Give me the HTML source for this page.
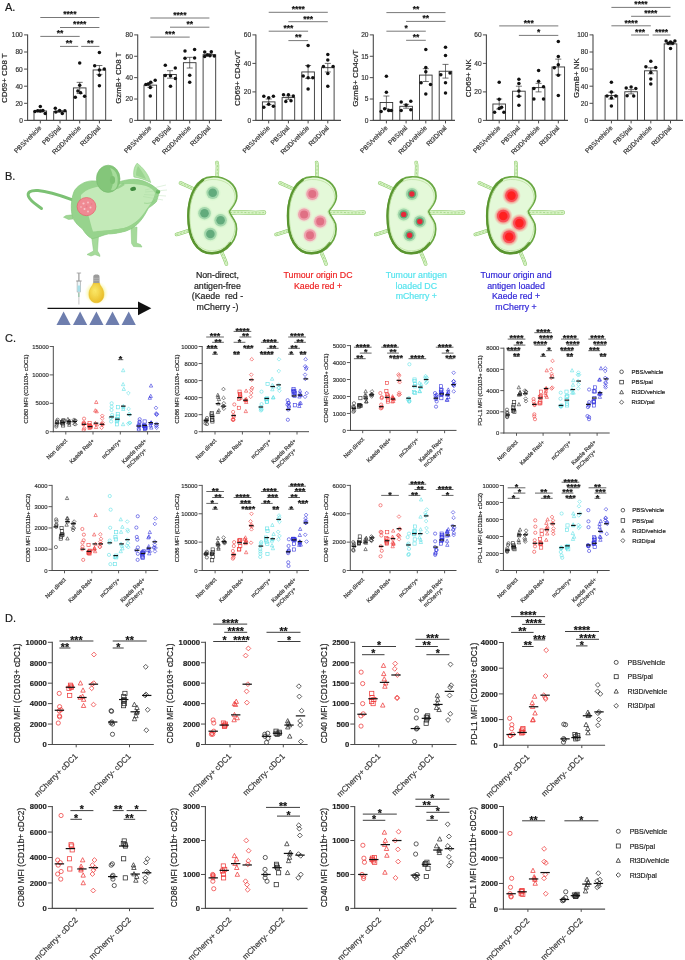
<!DOCTYPE html>
<html><head><meta charset="utf-8"><style>
html,body{margin:0;padding:0;background:#fff;}
svg{display:block;will-change:transform;}
text{font-family:"Liberation Sans", sans-serif;}
</style></head><body>
<svg width="685" height="960" viewBox="0 0 685 960">
<rect width="685" height="960" fill="#fff"/>
<text x="5" y="10.5" font-size="11" text-anchor="start" fill="#1a1a1a" stroke="#1a1a1a" stroke-width="0.18">A.</text>
<rect x="34" y="111" width="12.6" height="9.41" fill="#fff" stroke="#333" stroke-width="0.9"/>
<rect x="53.7" y="111.42" width="12.6" height="8.98" fill="#fff" stroke="#333" stroke-width="0.9"/>
<rect x="73.4" y="87.91" width="12.6" height="32.49" fill="#fff" stroke="#333" stroke-width="0.9"/>
<rect x="93.1" y="69.96" width="12.6" height="50.44" fill="#fff" stroke="#333" stroke-width="0.9"/>
<line x1="40.3" y1="112.02" x2="40.3" y2="109.97" stroke="#333" stroke-width="0.7"/>
<line x1="37.3" y1="109.97" x2="43.3" y2="109.97" stroke="#333" stroke-width="0.7"/>
<line x1="37.3" y1="112.02" x2="43.3" y2="112.02" stroke="#333" stroke-width="0.7"/>
<circle cx="40.3" cy="106.55" r="1.75" fill="#111"/>
<circle cx="35" cy="111.59" r="1.75" fill="#111"/>
<circle cx="45.2" cy="113.56" r="1.75" fill="#111"/>
<circle cx="37.7" cy="110.82" r="1.75" fill="#111"/>
<circle cx="42.9" cy="110.57" r="1.75" fill="#111"/>
<circle cx="40.3" cy="111" r="1.75" fill="#111"/>
<line x1="60" y1="112.36" x2="60" y2="110.48" stroke="#333" stroke-width="0.7"/>
<line x1="57" y1="110.48" x2="63" y2="110.48" stroke="#333" stroke-width="0.7"/>
<line x1="57" y1="112.36" x2="63" y2="112.36" stroke="#333" stroke-width="0.7"/>
<circle cx="55.3" cy="108.26" r="1.75" fill="#111"/>
<circle cx="55.8" cy="112.11" r="1.75" fill="#111"/>
<circle cx="59.6" cy="110.4" r="1.75" fill="#111"/>
<circle cx="62.3" cy="113.56" r="1.75" fill="#111"/>
<circle cx="64.9" cy="110.74" r="1.75" fill="#111"/>
<line x1="79.7" y1="93.47" x2="79.7" y2="82.35" stroke="#333" stroke-width="0.7"/>
<line x1="76.7" y1="82.35" x2="82.7" y2="82.35" stroke="#333" stroke-width="0.7"/>
<line x1="76.7" y1="93.47" x2="82.7" y2="93.47" stroke="#333" stroke-width="0.7"/>
<circle cx="79.7" cy="63.03" r="1.75" fill="#111"/>
<circle cx="79.7" cy="85.26" r="1.75" fill="#111"/>
<circle cx="75.3" cy="97.23" r="1.75" fill="#111"/>
<circle cx="84.6" cy="96.37" r="1.75" fill="#111"/>
<circle cx="80.6" cy="92.87" r="1.75" fill="#111"/>
<circle cx="77.9" cy="91.07" r="1.75" fill="#111"/>
<line x1="99.4" y1="74.4" x2="99.4" y2="65.51" stroke="#333" stroke-width="0.7"/>
<line x1="96.4" y1="65.51" x2="102.4" y2="65.51" stroke="#333" stroke-width="0.7"/>
<line x1="96.4" y1="74.4" x2="102.4" y2="74.4" stroke="#333" stroke-width="0.7"/>
<circle cx="99.4" cy="52.43" r="1.75" fill="#111"/>
<circle cx="94.7" cy="65.68" r="1.75" fill="#111"/>
<circle cx="99.4" cy="70.04" r="1.75" fill="#111"/>
<circle cx="104.3" cy="69.1" r="1.75" fill="#111"/>
<circle cx="99.4" cy="75.26" r="1.75" fill="#111"/>
<circle cx="99.4" cy="85.77" r="1.75" fill="#111"/>
<line x1="27.6" y1="34.4" x2="27.6" y2="120.9" stroke="#4a4a4a" stroke-width="1.1"/>
<line x1="27.1" y1="120.4" x2="112" y2="120.4" stroke="#4a4a4a" stroke-width="1.1"/>
<line x1="24.1" y1="120.4" x2="27.6" y2="120.4" stroke="#4a4a4a" stroke-width="1"/>
<text x="22.8" y="122.8" font-size="6.6" text-anchor="end" fill="#333" stroke="#333" stroke-width="0.18">0</text>
<line x1="24.1" y1="103.3" x2="27.6" y2="103.3" stroke="#4a4a4a" stroke-width="1"/>
<text x="22.8" y="105.7" font-size="6.6" text-anchor="end" fill="#333" stroke="#333" stroke-width="0.18">20</text>
<line x1="24.1" y1="86.2" x2="27.6" y2="86.2" stroke="#4a4a4a" stroke-width="1"/>
<text x="22.8" y="88.6" font-size="6.6" text-anchor="end" fill="#333" stroke="#333" stroke-width="0.18">40</text>
<line x1="24.1" y1="69.1" x2="27.6" y2="69.1" stroke="#4a4a4a" stroke-width="1"/>
<text x="22.8" y="71.5" font-size="6.6" text-anchor="end" fill="#333" stroke="#333" stroke-width="0.18">60</text>
<line x1="24.1" y1="52" x2="27.6" y2="52" stroke="#4a4a4a" stroke-width="1"/>
<text x="22.8" y="54.4" font-size="6.6" text-anchor="end" fill="#333" stroke="#333" stroke-width="0.18">80</text>
<line x1="24.1" y1="34.9" x2="27.6" y2="34.9" stroke="#4a4a4a" stroke-width="1"/>
<text x="22.8" y="37.3" font-size="6.6" text-anchor="end" fill="#333" stroke="#333" stroke-width="0.18">100</text>
<line x1="40.3" y1="120.4" x2="40.3" y2="123.4" stroke="#4a4a4a" stroke-width="1"/>
<line x1="60" y1="120.4" x2="60" y2="123.4" stroke="#4a4a4a" stroke-width="1"/>
<line x1="79.7" y1="120.4" x2="79.7" y2="123.4" stroke="#4a4a4a" stroke-width="1"/>
<line x1="99.4" y1="120.4" x2="99.4" y2="123.4" stroke="#4a4a4a" stroke-width="1"/>
<text x="41.9" y="128.4" font-size="6.6" text-anchor="end" fill="#333" transform="rotate(-45 41.9 128.4)" stroke="#333" stroke-width="0.18">PBS/vehicle</text>
<text x="61.6" y="128.4" font-size="6.6" text-anchor="end" fill="#333" transform="rotate(-45 61.6 128.4)" stroke="#333" stroke-width="0.18">PBS/pal</text>
<text x="81.3" y="128.4" font-size="6.6" text-anchor="end" fill="#333" transform="rotate(-45 81.3 128.4)" stroke="#333" stroke-width="0.18">Rt3D/vehicle</text>
<text x="101" y="128.4" font-size="6.6" text-anchor="end" fill="#333" transform="rotate(-45 101 128.4)" stroke="#333" stroke-width="0.18">Rt3D/pal</text>
<line x1="40.3" y1="17.5" x2="99.4" y2="17.5" stroke="#555" stroke-width="0.8"/>
<text x="69.85" y="17.31" font-size="8.5" text-anchor="middle" font-weight="bold" fill="#111" stroke="#111" stroke-width="0.18">****</text>
<line x1="60" y1="27.5" x2="99.4" y2="27.5" stroke="#555" stroke-width="0.8"/>
<text x="79.7" y="27.31" font-size="8.5" text-anchor="middle" font-weight="bold" fill="#111" stroke="#111" stroke-width="0.18">****</text>
<line x1="40.3" y1="36.4" x2="79.7" y2="36.4" stroke="#555" stroke-width="0.8"/>
<text x="60" y="36.21" font-size="8.5" text-anchor="middle" font-weight="bold" fill="#111" stroke="#111" stroke-width="0.18">**</text>
<line x1="60" y1="46.4" x2="78.2" y2="46.4" stroke="#555" stroke-width="0.8"/>
<text x="69.1" y="46.21" font-size="8.5" text-anchor="middle" font-weight="bold" fill="#111" stroke="#111" stroke-width="0.18">**</text>
<line x1="81.2" y1="46.4" x2="99.4" y2="46.4" stroke="#555" stroke-width="0.8"/>
<text x="90.3" y="46.21" font-size="8.5" text-anchor="middle" font-weight="bold" fill="#111" stroke="#111" stroke-width="0.18">**</text>
<text x="7.4" y="78.15" font-size="7.9" text-anchor="middle" fill="#222" transform="rotate(-90 7.4 78.15)" stroke="#222" stroke-width="0.18">CD69+ CD8 T</text>
<rect x="144" y="85.13" width="12.6" height="35.27" fill="#fff" stroke="#333" stroke-width="0.9"/>
<rect x="163.7" y="74.44" width="12.6" height="45.96" fill="#fff" stroke="#333" stroke-width="0.9"/>
<rect x="183.4" y="62.69" width="12.6" height="57.71" fill="#fff" stroke="#333" stroke-width="0.9"/>
<rect x="203.1" y="54.67" width="12.6" height="65.73" fill="#fff" stroke="#333" stroke-width="0.9"/>
<line x1="150.3" y1="87.27" x2="150.3" y2="82.99" stroke="#333" stroke-width="0.7"/>
<line x1="147.3" y1="82.99" x2="153.3" y2="82.99" stroke="#333" stroke-width="0.7"/>
<line x1="147.3" y1="87.27" x2="153.3" y2="87.27" stroke="#333" stroke-width="0.7"/>
<circle cx="145.9" cy="84.6" r="1.75" fill="#111"/>
<circle cx="150.7" cy="82.35" r="1.75" fill="#111"/>
<circle cx="155.2" cy="80.22" r="1.75" fill="#111"/>
<circle cx="150.3" cy="87.59" r="1.75" fill="#111"/>
<circle cx="150.3" cy="96.03" r="1.75" fill="#111"/>
<circle cx="148.3" cy="84.06" r="1.75" fill="#111"/>
<line x1="170" y1="78.18" x2="170" y2="70.7" stroke="#333" stroke-width="0.7"/>
<line x1="167" y1="70.7" x2="173" y2="70.7" stroke="#333" stroke-width="0.7"/>
<line x1="167" y1="78.18" x2="173" y2="78.18" stroke="#333" stroke-width="0.7"/>
<circle cx="165.3" cy="65.15" r="1.75" fill="#111"/>
<circle cx="175.3" cy="67.92" r="1.75" fill="#111"/>
<circle cx="165.3" cy="75.62" r="1.75" fill="#111"/>
<circle cx="170.5" cy="75.83" r="1.75" fill="#111"/>
<circle cx="175.3" cy="78.5" r="1.75" fill="#111"/>
<circle cx="170.5" cy="86.2" r="1.75" fill="#111"/>
<line x1="189.7" y1="68.03" x2="189.7" y2="57.34" stroke="#333" stroke-width="0.7"/>
<line x1="186.7" y1="57.34" x2="192.7" y2="57.34" stroke="#333" stroke-width="0.7"/>
<line x1="186.7" y1="68.03" x2="192.7" y2="68.03" stroke="#333" stroke-width="0.7"/>
<circle cx="185" cy="51.04" r="1.75" fill="#111"/>
<circle cx="194.6" cy="49.54" r="1.75" fill="#111"/>
<circle cx="185" cy="58.31" r="1.75" fill="#111"/>
<circle cx="194.6" cy="58.09" r="1.75" fill="#111"/>
<circle cx="189.7" cy="75.3" r="1.75" fill="#111"/>
<circle cx="189.7" cy="82.35" r="1.75" fill="#111"/>
<line x1="209.4" y1="55.74" x2="209.4" y2="53.6" stroke="#333" stroke-width="0.7"/>
<line x1="206.4" y1="53.6" x2="212.4" y2="53.6" stroke="#333" stroke-width="0.7"/>
<line x1="206.4" y1="55.74" x2="212.4" y2="55.74" stroke="#333" stroke-width="0.7"/>
<circle cx="204.7" cy="52.11" r="1.75" fill="#111"/>
<circle cx="211.3" cy="51.79" r="1.75" fill="#111"/>
<circle cx="207.3" cy="55.1" r="1.75" fill="#111"/>
<circle cx="214.3" cy="55.95" r="1.75" fill="#111"/>
<circle cx="204.7" cy="56.38" r="1.75" fill="#111"/>
<circle cx="209.9" cy="55.63" r="1.75" fill="#111"/>
<line x1="137.7" y1="34.4" x2="137.7" y2="120.9" stroke="#4a4a4a" stroke-width="1.1"/>
<line x1="137.2" y1="120.4" x2="222" y2="120.4" stroke="#4a4a4a" stroke-width="1.1"/>
<line x1="134.2" y1="120.4" x2="137.7" y2="120.4" stroke="#4a4a4a" stroke-width="1"/>
<text x="132.9" y="122.8" font-size="6.6" text-anchor="end" fill="#333" stroke="#333" stroke-width="0.18">0</text>
<line x1="134.2" y1="99.03" x2="137.7" y2="99.03" stroke="#4a4a4a" stroke-width="1"/>
<text x="132.9" y="101.43" font-size="6.6" text-anchor="end" fill="#333" stroke="#333" stroke-width="0.18">20</text>
<line x1="134.2" y1="77.65" x2="137.7" y2="77.65" stroke="#4a4a4a" stroke-width="1"/>
<text x="132.9" y="80.05" font-size="6.6" text-anchor="end" fill="#333" stroke="#333" stroke-width="0.18">40</text>
<line x1="134.2" y1="56.28" x2="137.7" y2="56.28" stroke="#4a4a4a" stroke-width="1"/>
<text x="132.9" y="58.68" font-size="6.6" text-anchor="end" fill="#333" stroke="#333" stroke-width="0.18">60</text>
<line x1="134.2" y1="34.9" x2="137.7" y2="34.9" stroke="#4a4a4a" stroke-width="1"/>
<text x="132.9" y="37.3" font-size="6.6" text-anchor="end" fill="#333" stroke="#333" stroke-width="0.18">80</text>
<line x1="150.3" y1="120.4" x2="150.3" y2="123.4" stroke="#4a4a4a" stroke-width="1"/>
<line x1="170" y1="120.4" x2="170" y2="123.4" stroke="#4a4a4a" stroke-width="1"/>
<line x1="189.7" y1="120.4" x2="189.7" y2="123.4" stroke="#4a4a4a" stroke-width="1"/>
<line x1="209.4" y1="120.4" x2="209.4" y2="123.4" stroke="#4a4a4a" stroke-width="1"/>
<text x="151.9" y="128.4" font-size="6.6" text-anchor="end" fill="#333" transform="rotate(-45 151.9 128.4)" stroke="#333" stroke-width="0.18">PBS/vehicle</text>
<text x="171.6" y="128.4" font-size="6.6" text-anchor="end" fill="#333" transform="rotate(-45 171.6 128.4)" stroke="#333" stroke-width="0.18">PBS/pal</text>
<text x="191.3" y="128.4" font-size="6.6" text-anchor="end" fill="#333" transform="rotate(-45 191.3 128.4)" stroke="#333" stroke-width="0.18">Rt3D/vehicle</text>
<text x="211" y="128.4" font-size="6.6" text-anchor="end" fill="#333" transform="rotate(-45 211 128.4)" stroke="#333" stroke-width="0.18">Rt3D/pal</text>
<line x1="150.3" y1="18" x2="209.4" y2="18" stroke="#555" stroke-width="0.8"/>
<text x="179.85" y="17.81" font-size="8.5" text-anchor="middle" font-weight="bold" fill="#111" stroke="#111" stroke-width="0.18">****</text>
<line x1="170" y1="27.2" x2="209.4" y2="27.2" stroke="#555" stroke-width="0.8"/>
<text x="189.7" y="27.01" font-size="8.5" text-anchor="middle" font-weight="bold" fill="#111" stroke="#111" stroke-width="0.18">**</text>
<line x1="150.3" y1="37.1" x2="189.7" y2="37.1" stroke="#555" stroke-width="0.8"/>
<text x="170" y="36.91" font-size="8.5" text-anchor="middle" font-weight="bold" fill="#111" stroke="#111" stroke-width="0.18">***</text>
<text x="120.8" y="78.15" font-size="7.9" text-anchor="middle" fill="#222" transform="rotate(-90 120.8 78.15)" stroke="#222" stroke-width="0.18">GzmB+ CD8 T</text>
<rect x="262.4" y="101.88" width="12.6" height="18.53" fill="#fff" stroke="#333" stroke-width="0.9"/>
<rect x="282.1" y="97.6" width="12.6" height="22.8" fill="#fff" stroke="#333" stroke-width="0.9"/>
<rect x="301.8" y="71.95" width="12.6" height="48.45" fill="#fff" stroke="#333" stroke-width="0.9"/>
<rect x="321.5" y="67.68" width="12.6" height="52.72" fill="#fff" stroke="#333" stroke-width="0.9"/>
<line x1="268.7" y1="104.73" x2="268.7" y2="99.03" stroke="#333" stroke-width="0.7"/>
<line x1="265.7" y1="99.03" x2="271.7" y2="99.03" stroke="#333" stroke-width="0.7"/>
<line x1="265.7" y1="104.73" x2="271.7" y2="104.73" stroke="#333" stroke-width="0.7"/>
<circle cx="263.8" cy="96.18" r="1.75" fill="#111"/>
<circle cx="268.7" cy="97.74" r="1.75" fill="#111"/>
<circle cx="273.4" cy="96.18" r="1.75" fill="#111"/>
<circle cx="263.8" cy="107.29" r="1.75" fill="#111"/>
<circle cx="268.7" cy="104.3" r="1.75" fill="#111"/>
<circle cx="273.4" cy="106.29" r="1.75" fill="#111"/>
<line x1="288.4" y1="99.31" x2="288.4" y2="95.89" stroke="#333" stroke-width="0.7"/>
<line x1="285.4" y1="95.89" x2="291.4" y2="95.89" stroke="#333" stroke-width="0.7"/>
<line x1="285.4" y1="99.31" x2="291.4" y2="99.31" stroke="#333" stroke-width="0.7"/>
<circle cx="283.5" cy="94.75" r="1.75" fill="#111"/>
<circle cx="288.4" cy="94.75" r="1.75" fill="#111"/>
<circle cx="293.3" cy="96.03" r="1.75" fill="#111"/>
<circle cx="285.8" cy="101.59" r="1.75" fill="#111"/>
<circle cx="291" cy="100.73" r="1.75" fill="#111"/>
<line x1="308.1" y1="78.36" x2="308.1" y2="65.54" stroke="#333" stroke-width="0.7"/>
<line x1="305.1" y1="65.54" x2="311.1" y2="65.54" stroke="#333" stroke-width="0.7"/>
<line x1="305.1" y1="78.36" x2="311.1" y2="78.36" stroke="#333" stroke-width="0.7"/>
<circle cx="308.1" cy="45.45" r="1.75" fill="#111"/>
<circle cx="308.1" cy="65.97" r="1.75" fill="#111"/>
<circle cx="303.2" cy="76.08" r="1.75" fill="#111"/>
<circle cx="312.8" cy="77.65" r="1.75" fill="#111"/>
<circle cx="308.1" cy="77.65" r="1.75" fill="#111"/>
<circle cx="308.1" cy="89.05" r="1.75" fill="#111"/>
<line x1="327.8" y1="71.95" x2="327.8" y2="63.4" stroke="#333" stroke-width="0.7"/>
<line x1="324.8" y1="63.4" x2="330.8" y2="63.4" stroke="#333" stroke-width="0.7"/>
<line x1="324.8" y1="71.95" x2="330.8" y2="71.95" stroke="#333" stroke-width="0.7"/>
<circle cx="327.8" cy="54.42" r="1.75" fill="#111"/>
<circle cx="327.8" cy="59.98" r="1.75" fill="#111"/>
<circle cx="323.4" cy="66.54" r="1.75" fill="#111"/>
<circle cx="333.1" cy="66.54" r="1.75" fill="#111"/>
<circle cx="327.8" cy="73.52" r="1.75" fill="#111"/>
<circle cx="327.8" cy="86.34" r="1.75" fill="#111"/>
<line x1="255.9" y1="34.4" x2="255.9" y2="120.9" stroke="#4a4a4a" stroke-width="1.1"/>
<line x1="255.4" y1="120.4" x2="341" y2="120.4" stroke="#4a4a4a" stroke-width="1.1"/>
<line x1="252.4" y1="120.4" x2="255.9" y2="120.4" stroke="#4a4a4a" stroke-width="1"/>
<text x="251.1" y="122.8" font-size="6.6" text-anchor="end" fill="#333" stroke="#333" stroke-width="0.18">0</text>
<line x1="252.4" y1="91.9" x2="255.9" y2="91.9" stroke="#4a4a4a" stroke-width="1"/>
<text x="251.1" y="94.3" font-size="6.6" text-anchor="end" fill="#333" stroke="#333" stroke-width="0.18">20</text>
<line x1="252.4" y1="63.4" x2="255.9" y2="63.4" stroke="#4a4a4a" stroke-width="1"/>
<text x="251.1" y="65.8" font-size="6.6" text-anchor="end" fill="#333" stroke="#333" stroke-width="0.18">40</text>
<line x1="252.4" y1="34.9" x2="255.9" y2="34.9" stroke="#4a4a4a" stroke-width="1"/>
<text x="251.1" y="37.3" font-size="6.6" text-anchor="end" fill="#333" stroke="#333" stroke-width="0.18">60</text>
<line x1="268.7" y1="120.4" x2="268.7" y2="123.4" stroke="#4a4a4a" stroke-width="1"/>
<line x1="288.4" y1="120.4" x2="288.4" y2="123.4" stroke="#4a4a4a" stroke-width="1"/>
<line x1="308.1" y1="120.4" x2="308.1" y2="123.4" stroke="#4a4a4a" stroke-width="1"/>
<line x1="327.8" y1="120.4" x2="327.8" y2="123.4" stroke="#4a4a4a" stroke-width="1"/>
<text x="270.3" y="128.4" font-size="6.6" text-anchor="end" fill="#333" transform="rotate(-45 270.3 128.4)" stroke="#333" stroke-width="0.18">PBS/vehicle</text>
<text x="290" y="128.4" font-size="6.6" text-anchor="end" fill="#333" transform="rotate(-45 290 128.4)" stroke="#333" stroke-width="0.18">PBS/pal</text>
<text x="309.7" y="128.4" font-size="6.6" text-anchor="end" fill="#333" transform="rotate(-45 309.7 128.4)" stroke="#333" stroke-width="0.18">Rt3D/vehicle</text>
<text x="329.4" y="128.4" font-size="6.6" text-anchor="end" fill="#333" transform="rotate(-45 329.4 128.4)" stroke="#333" stroke-width="0.18">Rt3D/pal</text>
<line x1="268.7" y1="12.3" x2="327.8" y2="12.3" stroke="#555" stroke-width="0.8"/>
<text x="298.25" y="12.11" font-size="8.5" text-anchor="middle" font-weight="bold" fill="#111" stroke="#111" stroke-width="0.18">****</text>
<line x1="288.4" y1="21.7" x2="327.8" y2="21.7" stroke="#555" stroke-width="0.8"/>
<text x="308.1" y="21.51" font-size="8.5" text-anchor="middle" font-weight="bold" fill="#111" stroke="#111" stroke-width="0.18">***</text>
<line x1="268.7" y1="31.2" x2="308.1" y2="31.2" stroke="#555" stroke-width="0.8"/>
<text x="288.4" y="31.01" font-size="8.5" text-anchor="middle" font-weight="bold" fill="#111" stroke="#111" stroke-width="0.18">***</text>
<line x1="288.4" y1="40.6" x2="308.1" y2="40.6" stroke="#555" stroke-width="0.8"/>
<text x="298.25" y="40.41" font-size="8.5" text-anchor="middle" font-weight="bold" fill="#111" stroke="#111" stroke-width="0.18">**</text>
<text x="240.1" y="78.15" font-size="7.9" text-anchor="middle" fill="#222" transform="rotate(-90 240.1 78.15)" stroke="#222" stroke-width="0.18">CD69+ CD4cvT</text>
<rect x="380.1" y="102.45" width="12.6" height="17.95" fill="#fff" stroke="#333" stroke-width="0.9"/>
<rect x="399.8" y="106.29" width="12.6" height="14.11" fill="#fff" stroke="#333" stroke-width="0.9"/>
<rect x="419.5" y="75.09" width="12.6" height="45.31" fill="#fff" stroke="#333" stroke-width="0.9"/>
<rect x="439.2" y="71.24" width="12.6" height="49.16" fill="#fff" stroke="#333" stroke-width="0.9"/>
<line x1="386.4" y1="108.86" x2="386.4" y2="96.03" stroke="#333" stroke-width="0.7"/>
<line x1="383.4" y1="96.03" x2="389.4" y2="96.03" stroke="#333" stroke-width="0.7"/>
<line x1="383.4" y1="108.86" x2="389.4" y2="108.86" stroke="#333" stroke-width="0.7"/>
<circle cx="386.4" cy="76.37" r="1.75" fill="#111"/>
<circle cx="386.4" cy="92.19" r="1.75" fill="#111"/>
<circle cx="381.1" cy="111.42" r="1.75" fill="#111"/>
<circle cx="384.6" cy="108.86" r="1.75" fill="#111"/>
<circle cx="388.7" cy="110.57" r="1.75" fill="#111"/>
<circle cx="391.3" cy="110.57" r="1.75" fill="#111"/>
<line x1="406.1" y1="108.22" x2="406.1" y2="104.37" stroke="#333" stroke-width="0.7"/>
<line x1="403.1" y1="104.37" x2="409.1" y2="104.37" stroke="#333" stroke-width="0.7"/>
<line x1="403.1" y1="108.22" x2="409.1" y2="108.22" stroke="#333" stroke-width="0.7"/>
<circle cx="401.2" cy="102.02" r="1.75" fill="#111"/>
<circle cx="410.8" cy="101.16" r="1.75" fill="#111"/>
<circle cx="406.1" cy="105.01" r="1.75" fill="#111"/>
<circle cx="401.2" cy="110.57" r="1.75" fill="#111"/>
<circle cx="410.8" cy="109.71" r="1.75" fill="#111"/>
<line x1="425.8" y1="81.5" x2="425.8" y2="68.67" stroke="#333" stroke-width="0.7"/>
<line x1="422.8" y1="68.67" x2="428.8" y2="68.67" stroke="#333" stroke-width="0.7"/>
<line x1="422.8" y1="81.5" x2="428.8" y2="81.5" stroke="#333" stroke-width="0.7"/>
<circle cx="425.8" cy="49.43" r="1.75" fill="#111"/>
<circle cx="425.8" cy="67.39" r="1.75" fill="#111"/>
<circle cx="425.8" cy="71.66" r="1.75" fill="#111"/>
<circle cx="421.1" cy="82.78" r="1.75" fill="#111"/>
<circle cx="430.5" cy="84.49" r="1.75" fill="#111"/>
<circle cx="425.8" cy="93.9" r="1.75" fill="#111"/>
<line x1="445.5" y1="78.08" x2="445.5" y2="64.4" stroke="#333" stroke-width="0.7"/>
<line x1="442.5" y1="64.4" x2="448.5" y2="64.4" stroke="#333" stroke-width="0.7"/>
<line x1="442.5" y1="78.08" x2="448.5" y2="78.08" stroke="#333" stroke-width="0.7"/>
<circle cx="445.5" cy="47.3" r="1.75" fill="#111"/>
<circle cx="445.5" cy="55.42" r="1.75" fill="#111"/>
<circle cx="440.8" cy="74.66" r="1.75" fill="#111"/>
<circle cx="450" cy="72.95" r="1.75" fill="#111"/>
<circle cx="445.5" cy="82.78" r="1.75" fill="#111"/>
<circle cx="445.5" cy="93.04" r="1.75" fill="#111"/>
<line x1="373.3" y1="34.4" x2="373.3" y2="120.9" stroke="#4a4a4a" stroke-width="1.1"/>
<line x1="372.8" y1="120.4" x2="455" y2="120.4" stroke="#4a4a4a" stroke-width="1.1"/>
<line x1="369.8" y1="120.4" x2="373.3" y2="120.4" stroke="#4a4a4a" stroke-width="1"/>
<text x="368.5" y="122.8" font-size="6.6" text-anchor="end" fill="#333" stroke="#333" stroke-width="0.18">0</text>
<line x1="369.8" y1="99.03" x2="373.3" y2="99.03" stroke="#4a4a4a" stroke-width="1"/>
<text x="368.5" y="101.43" font-size="6.6" text-anchor="end" fill="#333" stroke="#333" stroke-width="0.18">5</text>
<line x1="369.8" y1="77.65" x2="373.3" y2="77.65" stroke="#4a4a4a" stroke-width="1"/>
<text x="368.5" y="80.05" font-size="6.6" text-anchor="end" fill="#333" stroke="#333" stroke-width="0.18">10</text>
<line x1="369.8" y1="56.28" x2="373.3" y2="56.28" stroke="#4a4a4a" stroke-width="1"/>
<text x="368.5" y="58.68" font-size="6.6" text-anchor="end" fill="#333" stroke="#333" stroke-width="0.18">15</text>
<line x1="369.8" y1="34.9" x2="373.3" y2="34.9" stroke="#4a4a4a" stroke-width="1"/>
<text x="368.5" y="37.3" font-size="6.6" text-anchor="end" fill="#333" stroke="#333" stroke-width="0.18">20</text>
<line x1="386.4" y1="120.4" x2="386.4" y2="123.4" stroke="#4a4a4a" stroke-width="1"/>
<line x1="406.1" y1="120.4" x2="406.1" y2="123.4" stroke="#4a4a4a" stroke-width="1"/>
<line x1="425.8" y1="120.4" x2="425.8" y2="123.4" stroke="#4a4a4a" stroke-width="1"/>
<line x1="445.5" y1="120.4" x2="445.5" y2="123.4" stroke="#4a4a4a" stroke-width="1"/>
<text x="388" y="128.4" font-size="6.6" text-anchor="end" fill="#333" transform="rotate(-45 388 128.4)" stroke="#333" stroke-width="0.18">PBS/vehicle</text>
<text x="407.7" y="128.4" font-size="6.6" text-anchor="end" fill="#333" transform="rotate(-45 407.7 128.4)" stroke="#333" stroke-width="0.18">PBS/pal</text>
<text x="427.4" y="128.4" font-size="6.6" text-anchor="end" fill="#333" transform="rotate(-45 427.4 128.4)" stroke="#333" stroke-width="0.18">Rt3D/vehicle</text>
<text x="447.1" y="128.4" font-size="6.6" text-anchor="end" fill="#333" transform="rotate(-45 447.1 128.4)" stroke="#333" stroke-width="0.18">Rt3D/pal</text>
<line x1="386.4" y1="12.6" x2="445.5" y2="12.6" stroke="#555" stroke-width="0.8"/>
<text x="415.95" y="12.41" font-size="8.5" text-anchor="middle" font-weight="bold" fill="#111" stroke="#111" stroke-width="0.18">**</text>
<line x1="406.1" y1="21.4" x2="445.5" y2="21.4" stroke="#555" stroke-width="0.8"/>
<text x="425.8" y="21.21" font-size="8.5" text-anchor="middle" font-weight="bold" fill="#111" stroke="#111" stroke-width="0.18">**</text>
<line x1="386.4" y1="31.2" x2="425.8" y2="31.2" stroke="#555" stroke-width="0.8"/>
<text x="406.1" y="31.01" font-size="8.5" text-anchor="middle" font-weight="bold" fill="#111" stroke="#111" stroke-width="0.18">*</text>
<line x1="406.1" y1="40.3" x2="425.8" y2="40.3" stroke="#555" stroke-width="0.8"/>
<text x="415.95" y="40.11" font-size="8.5" text-anchor="middle" font-weight="bold" fill="#111" stroke="#111" stroke-width="0.18">**</text>
<text x="357.7" y="78.15" font-size="7.9" text-anchor="middle" fill="#222" transform="rotate(-90 357.7 78.15)" stroke="#222" stroke-width="0.18">GzmB+ CD4cvT</text>
<rect x="492.9" y="104.01" width="12.6" height="16.39" fill="#fff" stroke="#333" stroke-width="0.9"/>
<rect x="512.6" y="91.19" width="12.6" height="29.21" fill="#fff" stroke="#333" stroke-width="0.9"/>
<rect x="532.3" y="87.62" width="12.6" height="32.78" fill="#fff" stroke="#333" stroke-width="0.9"/>
<rect x="552" y="66.96" width="12.6" height="53.44" fill="#fff" stroke="#333" stroke-width="0.9"/>
<line x1="499.2" y1="109" x2="499.2" y2="99.03" stroke="#333" stroke-width="0.7"/>
<line x1="496.2" y1="99.03" x2="502.2" y2="99.03" stroke="#333" stroke-width="0.7"/>
<line x1="496.2" y1="109" x2="502.2" y2="109" stroke="#333" stroke-width="0.7"/>
<circle cx="499.2" cy="82.35" r="1.75" fill="#111"/>
<circle cx="499.2" cy="99.31" r="1.75" fill="#111"/>
<circle cx="494.6" cy="112.14" r="1.75" fill="#111"/>
<circle cx="499.2" cy="108.57" r="1.75" fill="#111"/>
<circle cx="503.9" cy="112.14" r="1.75" fill="#111"/>
<circle cx="501.6" cy="107.29" r="1.75" fill="#111"/>
<line x1="518.9" y1="96.18" x2="518.9" y2="86.2" stroke="#333" stroke-width="0.7"/>
<line x1="515.9" y1="86.2" x2="521.9" y2="86.2" stroke="#333" stroke-width="0.7"/>
<line x1="515.9" y1="96.18" x2="521.9" y2="96.18" stroke="#333" stroke-width="0.7"/>
<circle cx="518.9" cy="79.22" r="1.75" fill="#111"/>
<circle cx="518.9" cy="83.49" r="1.75" fill="#111"/>
<circle cx="518.9" cy="91.05" r="1.75" fill="#111"/>
<circle cx="518.9" cy="96.32" r="1.75" fill="#111"/>
<circle cx="518.9" cy="105.3" r="1.75" fill="#111"/>
<line x1="538.6" y1="91.9" x2="538.6" y2="83.35" stroke="#333" stroke-width="0.7"/>
<line x1="535.6" y1="83.35" x2="541.6" y2="83.35" stroke="#333" stroke-width="0.7"/>
<line x1="535.6" y1="91.9" x2="541.6" y2="91.9" stroke="#333" stroke-width="0.7"/>
<circle cx="538.6" cy="70.53" r="1.75" fill="#111"/>
<circle cx="538.6" cy="81.21" r="1.75" fill="#111"/>
<circle cx="533.9" cy="88.48" r="1.75" fill="#111"/>
<circle cx="543.5" cy="86.77" r="1.75" fill="#111"/>
<circle cx="533.9" cy="99.03" r="1.75" fill="#111"/>
<circle cx="543.5" cy="99.03" r="1.75" fill="#111"/>
<line x1="558.3" y1="74.8" x2="558.3" y2="59.13" stroke="#333" stroke-width="0.7"/>
<line x1="555.3" y1="59.13" x2="561.3" y2="59.13" stroke="#333" stroke-width="0.7"/>
<line x1="555.3" y1="74.8" x2="561.3" y2="74.8" stroke="#333" stroke-width="0.7"/>
<circle cx="558.3" cy="41.6" r="1.75" fill="#111"/>
<circle cx="558.3" cy="56.42" r="1.75" fill="#111"/>
<circle cx="558.3" cy="64.83" r="1.75" fill="#111"/>
<circle cx="558.3" cy="75.37" r="1.75" fill="#111"/>
<circle cx="558.3" cy="95.46" r="1.75" fill="#111"/>
<circle cx="554.3" cy="67.68" r="1.75" fill="#111"/>
<line x1="486.4" y1="34.4" x2="486.4" y2="120.9" stroke="#4a4a4a" stroke-width="1.1"/>
<line x1="485.9" y1="120.4" x2="568" y2="120.4" stroke="#4a4a4a" stroke-width="1.1"/>
<line x1="482.9" y1="120.4" x2="486.4" y2="120.4" stroke="#4a4a4a" stroke-width="1"/>
<text x="481.6" y="122.8" font-size="6.6" text-anchor="end" fill="#333" stroke="#333" stroke-width="0.18">0</text>
<line x1="482.9" y1="91.9" x2="486.4" y2="91.9" stroke="#4a4a4a" stroke-width="1"/>
<text x="481.6" y="94.3" font-size="6.6" text-anchor="end" fill="#333" stroke="#333" stroke-width="0.18">20</text>
<line x1="482.9" y1="63.4" x2="486.4" y2="63.4" stroke="#4a4a4a" stroke-width="1"/>
<text x="481.6" y="65.8" font-size="6.6" text-anchor="end" fill="#333" stroke="#333" stroke-width="0.18">40</text>
<line x1="482.9" y1="34.9" x2="486.4" y2="34.9" stroke="#4a4a4a" stroke-width="1"/>
<text x="481.6" y="37.3" font-size="6.6" text-anchor="end" fill="#333" stroke="#333" stroke-width="0.18">60</text>
<line x1="499.2" y1="120.4" x2="499.2" y2="123.4" stroke="#4a4a4a" stroke-width="1"/>
<line x1="518.9" y1="120.4" x2="518.9" y2="123.4" stroke="#4a4a4a" stroke-width="1"/>
<line x1="538.6" y1="120.4" x2="538.6" y2="123.4" stroke="#4a4a4a" stroke-width="1"/>
<line x1="558.3" y1="120.4" x2="558.3" y2="123.4" stroke="#4a4a4a" stroke-width="1"/>
<text x="500.8" y="128.4" font-size="6.6" text-anchor="end" fill="#333" transform="rotate(-45 500.8 128.4)" stroke="#333" stroke-width="0.18">PBS/vehicle</text>
<text x="520.5" y="128.4" font-size="6.6" text-anchor="end" fill="#333" transform="rotate(-45 520.5 128.4)" stroke="#333" stroke-width="0.18">PBS/pal</text>
<text x="540.2" y="128.4" font-size="6.6" text-anchor="end" fill="#333" transform="rotate(-45 540.2 128.4)" stroke="#333" stroke-width="0.18">Rt3D/vehicle</text>
<text x="559.9" y="128.4" font-size="6.6" text-anchor="end" fill="#333" transform="rotate(-45 559.9 128.4)" stroke="#333" stroke-width="0.18">Rt3D/pal</text>
<line x1="499.2" y1="25.9" x2="558.3" y2="25.9" stroke="#555" stroke-width="0.8"/>
<text x="528.75" y="25.71" font-size="8.5" text-anchor="middle" font-weight="bold" fill="#111" stroke="#111" stroke-width="0.18">***</text>
<line x1="518.9" y1="35.4" x2="558.3" y2="35.4" stroke="#555" stroke-width="0.8"/>
<text x="538.6" y="35.21" font-size="8.5" text-anchor="middle" font-weight="bold" fill="#111" stroke="#111" stroke-width="0.18">*</text>
<text x="470.7" y="78.15" font-size="7.9" text-anchor="middle" fill="#222" transform="rotate(-90 470.7 78.15)" stroke="#222" stroke-width="0.18">CD69+ NK</text>
<rect x="605.1" y="95.61" width="12.6" height="24.8" fill="#fff" stroke="#333" stroke-width="0.9"/>
<rect x="624.8" y="91.76" width="12.6" height="28.64" fill="#fff" stroke="#333" stroke-width="0.9"/>
<rect x="644.5" y="70.81" width="12.6" height="49.59" fill="#fff" stroke="#333" stroke-width="0.9"/>
<rect x="664.2" y="43.88" width="12.6" height="76.52" fill="#fff" stroke="#333" stroke-width="0.9"/>
<line x1="611.4" y1="99.03" x2="611.4" y2="92.19" stroke="#333" stroke-width="0.7"/>
<line x1="608.4" y1="92.19" x2="614.4" y2="92.19" stroke="#333" stroke-width="0.7"/>
<line x1="608.4" y1="99.03" x2="614.4" y2="99.03" stroke="#333" stroke-width="0.7"/>
<circle cx="611.4" cy="82.27" r="1.75" fill="#111"/>
<circle cx="611.4" cy="91.93" r="1.75" fill="#111"/>
<circle cx="607" cy="96.03" r="1.75" fill="#111"/>
<circle cx="615.8" cy="96.03" r="1.75" fill="#111"/>
<circle cx="611.4" cy="98.08" r="1.75" fill="#111"/>
<circle cx="611.4" cy="106.04" r="1.75" fill="#111"/>
<line x1="631.1" y1="93.9" x2="631.1" y2="89.62" stroke="#333" stroke-width="0.7"/>
<line x1="628.1" y1="89.62" x2="634.1" y2="89.62" stroke="#333" stroke-width="0.7"/>
<line x1="628.1" y1="93.9" x2="634.1" y2="93.9" stroke="#333" stroke-width="0.7"/>
<circle cx="626.2" cy="88.08" r="1.75" fill="#111"/>
<circle cx="631.1" cy="87.06" r="1.75" fill="#111"/>
<circle cx="635.8" cy="88.42" r="1.75" fill="#111"/>
<circle cx="627.1" cy="95.86" r="1.75" fill="#111"/>
<circle cx="633.7" cy="96.03" r="1.75" fill="#111"/>
<line x1="650.8" y1="73.8" x2="650.8" y2="67.82" stroke="#333" stroke-width="0.7"/>
<line x1="647.8" y1="67.82" x2="653.8" y2="67.82" stroke="#333" stroke-width="0.7"/>
<line x1="647.8" y1="73.8" x2="653.8" y2="73.8" stroke="#333" stroke-width="0.7"/>
<circle cx="650.8" cy="61.23" r="1.75" fill="#111"/>
<circle cx="645.9" cy="66.71" r="1.75" fill="#111"/>
<circle cx="655.7" cy="67.39" r="1.75" fill="#111"/>
<circle cx="650.8" cy="72.52" r="1.75" fill="#111"/>
<circle cx="650.8" cy="79.1" r="1.75" fill="#111"/>
<circle cx="650.8" cy="84.06" r="1.75" fill="#111"/>
<line x1="670.5" y1="44.73" x2="670.5" y2="43.02" stroke="#333" stroke-width="0.7"/>
<line x1="667.5" y1="43.02" x2="673.5" y2="43.02" stroke="#333" stroke-width="0.7"/>
<line x1="667.5" y1="44.73" x2="673.5" y2="44.73" stroke="#333" stroke-width="0.7"/>
<circle cx="666.1" cy="41.06" r="1.75" fill="#111"/>
<circle cx="670.5" cy="41.91" r="1.75" fill="#111"/>
<circle cx="674.9" cy="41.06" r="1.75" fill="#111"/>
<circle cx="668.2" cy="43.36" r="1.75" fill="#111"/>
<circle cx="672.6" cy="43.36" r="1.75" fill="#111"/>
<circle cx="670.5" cy="48.58" r="1.75" fill="#111"/>
<line x1="593" y1="34.4" x2="593" y2="120.9" stroke="#4a4a4a" stroke-width="1.1"/>
<line x1="592.5" y1="120.4" x2="683" y2="120.4" stroke="#4a4a4a" stroke-width="1.1"/>
<line x1="589.5" y1="120.4" x2="593" y2="120.4" stroke="#4a4a4a" stroke-width="1"/>
<text x="588.2" y="122.8" font-size="6.6" text-anchor="end" fill="#333" stroke="#333" stroke-width="0.18">0</text>
<line x1="589.5" y1="103.3" x2="593" y2="103.3" stroke="#4a4a4a" stroke-width="1"/>
<text x="588.2" y="105.7" font-size="6.6" text-anchor="end" fill="#333" stroke="#333" stroke-width="0.18">20</text>
<line x1="589.5" y1="86.2" x2="593" y2="86.2" stroke="#4a4a4a" stroke-width="1"/>
<text x="588.2" y="88.6" font-size="6.6" text-anchor="end" fill="#333" stroke="#333" stroke-width="0.18">40</text>
<line x1="589.5" y1="69.1" x2="593" y2="69.1" stroke="#4a4a4a" stroke-width="1"/>
<text x="588.2" y="71.5" font-size="6.6" text-anchor="end" fill="#333" stroke="#333" stroke-width="0.18">60</text>
<line x1="589.5" y1="52" x2="593" y2="52" stroke="#4a4a4a" stroke-width="1"/>
<text x="588.2" y="54.4" font-size="6.6" text-anchor="end" fill="#333" stroke="#333" stroke-width="0.18">80</text>
<line x1="589.5" y1="34.9" x2="593" y2="34.9" stroke="#4a4a4a" stroke-width="1"/>
<text x="588.2" y="37.3" font-size="6.6" text-anchor="end" fill="#333" stroke="#333" stroke-width="0.18">100</text>
<line x1="611.4" y1="120.4" x2="611.4" y2="123.4" stroke="#4a4a4a" stroke-width="1"/>
<line x1="631.1" y1="120.4" x2="631.1" y2="123.4" stroke="#4a4a4a" stroke-width="1"/>
<line x1="650.8" y1="120.4" x2="650.8" y2="123.4" stroke="#4a4a4a" stroke-width="1"/>
<line x1="670.5" y1="120.4" x2="670.5" y2="123.4" stroke="#4a4a4a" stroke-width="1"/>
<text x="613" y="128.4" font-size="6.6" text-anchor="end" fill="#333" transform="rotate(-45 613 128.4)" stroke="#333" stroke-width="0.18">PBS/vehicle</text>
<text x="632.7" y="128.4" font-size="6.6" text-anchor="end" fill="#333" transform="rotate(-45 632.7 128.4)" stroke="#333" stroke-width="0.18">PBS/pal</text>
<text x="652.4" y="128.4" font-size="6.6" text-anchor="end" fill="#333" transform="rotate(-45 652.4 128.4)" stroke="#333" stroke-width="0.18">Rt3D/vehicle</text>
<text x="672.1" y="128.4" font-size="6.6" text-anchor="end" fill="#333" transform="rotate(-45 672.1 128.4)" stroke="#333" stroke-width="0.18">Rt3D/pal</text>
<line x1="611.4" y1="7.4" x2="670.5" y2="7.4" stroke="#555" stroke-width="0.8"/>
<text x="640.95" y="7.21" font-size="8.5" text-anchor="middle" font-weight="bold" fill="#111" stroke="#111" stroke-width="0.18">****</text>
<line x1="631.1" y1="16.3" x2="670.5" y2="16.3" stroke="#555" stroke-width="0.8"/>
<text x="650.8" y="16.11" font-size="8.5" text-anchor="middle" font-weight="bold" fill="#111" stroke="#111" stroke-width="0.18">****</text>
<line x1="611.4" y1="25.8" x2="650.8" y2="25.8" stroke="#555" stroke-width="0.8"/>
<text x="631.1" y="25.61" font-size="8.5" text-anchor="middle" font-weight="bold" fill="#111" stroke="#111" stroke-width="0.18">****</text>
<line x1="631.1" y1="35" x2="649" y2="35" stroke="#555" stroke-width="0.8"/>
<text x="640.05" y="34.81" font-size="8.5" text-anchor="middle" font-weight="bold" fill="#111" stroke="#111" stroke-width="0.18">***</text>
<line x1="652.6" y1="35" x2="670.5" y2="35" stroke="#555" stroke-width="0.8"/>
<text x="661.55" y="34.81" font-size="8.5" text-anchor="middle" font-weight="bold" fill="#111" stroke="#111" stroke-width="0.18">****</text>
<text x="579" y="78.15" font-size="7.9" text-anchor="middle" fill="#222" transform="rotate(-90 579 78.15)" stroke="#222" stroke-width="0.18">GzmB+ NK</text>
<text x="5" y="179.7" font-size="11" text-anchor="start" fill="#1a1a1a" stroke="#1a1a1a" stroke-width="0.18">B.</text>
<g id="mouse">
<path d="M73,200 C62,196 50,191.5 38,190.5 C30,190 27,192.5 28.5,196.5 C30.5,201.5 37,205 41.5,208.5" fill="none" stroke="#7cc174" stroke-width="2.9" stroke-linecap="round"/>
<path d="M72.5,214.8 L66,215.5 L63.5,217.2 L66,218.3 L68.5,219.5 L73,219 Z" fill="#9fd694" stroke="#86c67c" stroke-width="0.5"/>
<path d="M131,228 L131.6,243.5 L133.5,246.5 L142,247 L140.5,244.5 L136.5,243 L137,227 Z" fill="#a5da9a" stroke="#86c67c" stroke-width="0.5"/>
<path d="M91.5,236 L93.5,251 L87,254.5 L91,256 L95,254.6 L100,256.4 L99.5,254.2 L97.5,251 L98.5,235.5 Z" fill="#a5da9a" stroke="#86c67c" stroke-width="0.5"/>
<path d="M74.5,190.5 C79,184 86,181 92.1,180.9 L119.4,181.7 C125,180 131,179 135.5,179.3 C145,180 153,185 159.6,191.3 C158,196 157.5,199 156.4,201.8 C153,205 150,207 148.3,208.2 C146,213 143,218 140.3,221 C136,226 132,229 126,231 C119,233 112,234 108.2,233.9 C103,235 97,238 92.1,238.7 C88,237 85,233 82.5,229 C77,225 73,220 72,214.6 C70.5,207 71.5,197 74.5,190.5 Z" fill="#97d38d" stroke="#86c87c" stroke-width="0.7"/>
<path d="M81,195 C86,189 96,186 108,186 C121,184 133,183 146,186 C151,188 154,190 155,193 C154,199 150,205 146,210 C141,218 134,225 124,228 C114,230 104,231 93,231.5 C91,226 90,220 88,214 C84,208 80,202 81,195 Z" fill="#c3eab8"/>
<path d="M96,231 C104,231 114,230 124,228 C130,226.5 135,223 139,219.5 C136,225 131,229 126,231 C119,233 112,234 108.2,233.9 C103,234.5 99,233 96,231 Z" fill="#98d38c"/>
<path d="M99,186 C106,191 116,190 124,184" fill="none" stroke="#86c87c" stroke-width="2.2" opacity="0.7"/>
<ellipse cx="108.2" cy="178.8" rx="11.8" ry="13.6" fill="#84c67a" stroke="#76bb6c" stroke-width="0.6"/>
<path d="M110,168 C117,170 119,178 117,186 C115.5,190 113,191 111,190 C114,184 114,175 110,168 Z" fill="#a6dc9b"/>
<ellipse cx="112.5" cy="180" rx="2.6" ry="4" fill="#7cc072"/>
<path d="M133.9,177 C133,171 134.5,166 137.1,163.2 C142,167 148,173 150.7,182.5 C146,180 140,178 133.9,177 Z" fill="#b3e3a8" stroke="#8ccd82" stroke-width="0.6"/>
<path d="M136,175.5 C136,171 137,168 138,166 C141,170 144,174 146,179 Z" fill="#9bd590"/>
<ellipse cx="133.1" cy="188.9" rx="2.9" ry="2" fill="#3f8a3e" transform="rotate(-15 133.1 188.9)"/>
<ellipse cx="158" cy="191.8" rx="2.3" ry="2" fill="#6ab862"/>
<path d="M145,190 L166,185 M145,192 L167,190 M144,194.5 L166,196 M143,196.5 L163,200" stroke="#a6d69e" stroke-width="0.35" fill="none"/>
<path d="M144,203 C148,204 152,203 155,200" stroke="#8ccd82" stroke-width="0.6" fill="none"/>
<ellipse cx="86.5" cy="206.6" rx="9.4" ry="9.1" fill="#ef8a93" stroke="#e8606b" stroke-width="0.7"/>
<circle cx="83.5" cy="203.5" r="1.1" fill="#f8c4ca"/>
<circle cx="88" cy="202.5" r="0.9" fill="#f8c4ca"/>
<circle cx="90.5" cy="207.5" r="1" fill="#f8c4ca"/>
<circle cx="84.5" cy="209" r="1" fill="#f8c4ca"/>
<circle cx="88" cy="211.5" r="0.9" fill="#f8c4ca"/>
<circle cx="81" cy="207" r="0.8" fill="#f8c4ca"/>
<circle cx="86.5" cy="206.5" r="0.9" fill="#e67a88"/>
<circle cx="91.5" cy="204" r="0.8" fill="#e67a88"/>
</g>
<defs><radialGradient id="bglow"><stop offset="0.5" stop-color="#f4f070" stop-opacity="0.9"/><stop offset="1" stop-color="#fbfac0" stop-opacity="0"/></radialGradient>
<radialGradient id="bulbg" cx="0.4" cy="0.4" r="0.7"><stop offset="0" stop-color="#fbe96a"/><stop offset="1" stop-color="#e8b820"/></radialGradient></defs>
<g>
<line x1="78.9" y1="291" x2="78.9" y2="304.5" stroke="#9a9a9a" stroke-width="0.6"/>
<line x1="78.9" y1="293" x2="78.9" y2="297" stroke="#4aa870" stroke-width="0.6"/>
<rect x="77.1" y="281" width="3.6" height="11" fill="#eef6f8" stroke="#8a8a8a" stroke-width="0.5"/>
<rect x="77.5" y="285.5" width="2.8" height="6.2" fill="#a8e0ea"/>
<line x1="78.9" y1="273" x2="78.9" y2="281" stroke="#999" stroke-width="1.2"/>
<line x1="76.7" y1="273" x2="81.1" y2="273" stroke="#999" stroke-width="0.8"/>
<line x1="76" y1="281" x2="81.8" y2="281" stroke="#999" stroke-width="0.8"/>
<circle cx="96.4" cy="293" r="12" fill="url(#bglow)"/>
<path d="M93.2,283 L99.6,283 C99.8,286 103.9,288 103.9,294.5 C103.9,299.5 100.6,302.8 96.4,302.8 C92.2,302.8 88.9,299.5 88.9,294.5 C88.9,288 93,286 93.2,283 Z" fill="url(#bulbg)" stroke="#e2b31e" stroke-width="0.4"/>
<path d="M94.5,291 L95.5,296 M98.3,291 L97.3,296" stroke="#f7dc55" stroke-width="0.5"/>
<path d="M93.3,276.5 C93.3,275 94.6,274.5 96.4,274.5 C98.2,274.5 99.5,275 99.5,276.5 L99.6,283 L93.2,283 Z" fill="#9b9b9b"/>
<line x1="93.3" y1="278.3" x2="99.5" y2="278.3" stroke="#c9c9c9" stroke-width="0.5"/>
<line x1="93.3" y1="280.3" x2="99.5" y2="280.3" stroke="#c9c9c9" stroke-width="0.5"/>
</g>
<line x1="47.5" y1="308.3" x2="139" y2="308.3" stroke="#111" stroke-width="1.3"/>
<polygon points="138,301.4 151.3,308.3 138,315.2" fill="#111"/>
<polygon points="63.6,311.6 56.5,325 70.7,325" fill="#6e7eae"/>
<polygon points="80.1,311.6 73,325 87.2,325" fill="#6e7eae"/>
<polygon points="96.4,311.6 89.3,325 103.5,325" fill="#6e7eae"/>
<polygon points="112.5,311.6 105.4,325 119.6,325" fill="#6e7eae"/>
<polygon points="128.7,311.6 121.6,325 135.8,325" fill="#6e7eae"/>
<defs>
<radialGradient id="glowR"><stop offset="0" stop-color="#ff2020"/><stop offset="0.5" stop-color="#ff3a3a" stop-opacity="0.9"/><stop offset="1" stop-color="#ff8080" stop-opacity="0"/></radialGradient>
<radialGradient id="glowG"><stop offset="0.5" stop-color="#a8e6a8" stop-opacity="0.8"/><stop offset="1" stop-color="#c8f0c0" stop-opacity="0"/></radialGradient>
<radialGradient id="glowP"><stop offset="0.45" stop-color="#f5a0b0" stop-opacity="0.9"/><stop offset="1" stop-color="#f8c0c8" stop-opacity="0"/></radialGradient>
</defs>
<g transform="translate(0,0)">
<path d="M217.5,178 C216.5,172 218.5,167 217,162.5" fill="none" stroke="#8cc86a" stroke-width="3.6" stroke-linecap="round"/>
<path d="M217.5,178 C216.5,172 218.5,167 217,162.5" fill="none" stroke="#d6f2c4" stroke-width="2.6" stroke-linecap="round"/>
<path d="M217.5,178 C216.5,172 218.5,167 217,162.5" fill="none" stroke="#8cc86a" stroke-width="0.6" stroke-dasharray="2 1.6"/>
<path d="M195.5,190 C189,186.5 185,185 180.5,183" fill="none" stroke="#8cc86a" stroke-width="3.6" stroke-linecap="round"/>
<path d="M195.5,190 C189,186.5 185,185 180.5,183" fill="none" stroke="#d6f2c4" stroke-width="2.6" stroke-linecap="round"/>
<path d="M195.5,190 C189,186.5 185,185 180.5,183" fill="none" stroke="#8cc86a" stroke-width="0.6" stroke-dasharray="2 1.6"/>
<path d="M192,229.5 C186,231.5 182,233 176.5,234.5" fill="none" stroke="#8cc86a" stroke-width="3.6" stroke-linecap="round"/>
<path d="M192,229.5 C186,231.5 182,233 176.5,234.5" fill="none" stroke="#d6f2c4" stroke-width="2.6" stroke-linecap="round"/>
<path d="M192,229.5 C186,231.5 182,233 176.5,234.5" fill="none" stroke="#8cc86a" stroke-width="0.6" stroke-dasharray="2 1.6"/>
<path d="M221,250.5 C222.5,255 225,259 226.4,264" fill="none" stroke="#8cc86a" stroke-width="3.6" stroke-linecap="round"/>
<path d="M221,250.5 C222.5,255 225,259 226.4,264" fill="none" stroke="#d6f2c4" stroke-width="2.6" stroke-linecap="round"/>
<path d="M221,250.5 C222.5,255 225,259 226.4,264" fill="none" stroke="#8cc86a" stroke-width="0.6" stroke-dasharray="2 1.6"/>
<path d="M230,212.8 C240,211 250,214 264,212.5" fill="none" stroke="#8cc86a" stroke-width="4.4" stroke-linecap="round"/>
<path d="M230,212.8 C240,211 250,214 264,212.5" fill="none" stroke="#d6f2c4" stroke-width="3.4" stroke-linecap="round"/>
<path d="M230,212.8 C240,211 250,214 264,212.5" fill="none" stroke="#8cc86a" stroke-width="0.6" stroke-dasharray="2 1.6"/>
<path d="M212,176.8 C226,176.3 236.5,184 236.8,196 C237,203 232,207 229.5,211 C229,214 234,218 236,224 C239,238 228,253.5 212,253.5 C196,253.5 188.2,238 188.2,216 C188.2,193 197,177.3 212,176.8 Z" fill="#e4f9d9" stroke="#6aa843" stroke-width="1.7"/>
<path d="M203,180 C193,188 188.4,202 188.4,216 C188.4,238 196,253.3 212,253.3 C220,253.3 226,249 230,243" fill="none" stroke="#5a9530" stroke-width="2.6" stroke-linecap="round"/>
<path d="M212,176.8 C226,176.3 236.5,184 236.8,196 C237,203 232,207 229.5,211 C229,214 234,218 236,224 C239,238 228,253.5 212,253.5 C196,253.5 188.2,238 188.2,216 C188.2,193 197,177.3 212,176.8 Z" fill="none" stroke="#bfe3a4" stroke-width="0.9" transform="translate(212 215) scale(0.93) translate(-212 -215)"/>
<circle cx="212.7" cy="192.8" r="8.5" fill="url(#glowG)"/>
<circle cx="212.7" cy="192.8" r="6.2" fill="#a3d6ac"/>
<circle cx="212.7" cy="192.8" r="4.3" fill="#62ab7c"/>
<circle cx="204.5" cy="213.2" r="8.5" fill="url(#glowG)"/>
<circle cx="204.5" cy="213.2" r="6.2" fill="#a3d6ac"/>
<circle cx="204.5" cy="213.2" r="4.3" fill="#62ab7c"/>
<circle cx="220.6" cy="220.3" r="8.5" fill="url(#glowG)"/>
<circle cx="220.6" cy="220.3" r="6.2" fill="#a3d6ac"/>
<circle cx="220.6" cy="220.3" r="4.3" fill="#62ab7c"/>
<circle cx="210.4" cy="234" r="8.5" fill="url(#glowG)"/>
<circle cx="210.4" cy="234" r="6.2" fill="#a3d6ac"/>
<circle cx="210.4" cy="234" r="4.3" fill="#62ab7c"/>
</g>
<g transform="translate(99.6,0)">
<path d="M217.5,178 C216.5,172 218.5,167 217,162.5" fill="none" stroke="#8cc86a" stroke-width="3.6" stroke-linecap="round"/>
<path d="M217.5,178 C216.5,172 218.5,167 217,162.5" fill="none" stroke="#d6f2c4" stroke-width="2.6" stroke-linecap="round"/>
<path d="M217.5,178 C216.5,172 218.5,167 217,162.5" fill="none" stroke="#8cc86a" stroke-width="0.6" stroke-dasharray="2 1.6"/>
<path d="M195.5,190 C189,186.5 185,185 180.5,183" fill="none" stroke="#8cc86a" stroke-width="3.6" stroke-linecap="round"/>
<path d="M195.5,190 C189,186.5 185,185 180.5,183" fill="none" stroke="#d6f2c4" stroke-width="2.6" stroke-linecap="round"/>
<path d="M195.5,190 C189,186.5 185,185 180.5,183" fill="none" stroke="#8cc86a" stroke-width="0.6" stroke-dasharray="2 1.6"/>
<path d="M192,229.5 C186,231.5 182,233 176.5,234.5" fill="none" stroke="#8cc86a" stroke-width="3.6" stroke-linecap="round"/>
<path d="M192,229.5 C186,231.5 182,233 176.5,234.5" fill="none" stroke="#d6f2c4" stroke-width="2.6" stroke-linecap="round"/>
<path d="M192,229.5 C186,231.5 182,233 176.5,234.5" fill="none" stroke="#8cc86a" stroke-width="0.6" stroke-dasharray="2 1.6"/>
<path d="M221,250.5 C222.5,255 225,259 226.4,264" fill="none" stroke="#8cc86a" stroke-width="3.6" stroke-linecap="round"/>
<path d="M221,250.5 C222.5,255 225,259 226.4,264" fill="none" stroke="#d6f2c4" stroke-width="2.6" stroke-linecap="round"/>
<path d="M221,250.5 C222.5,255 225,259 226.4,264" fill="none" stroke="#8cc86a" stroke-width="0.6" stroke-dasharray="2 1.6"/>
<path d="M230,212.8 C240,211 250,214 264,212.5" fill="none" stroke="#8cc86a" stroke-width="4.4" stroke-linecap="round"/>
<path d="M230,212.8 C240,211 250,214 264,212.5" fill="none" stroke="#d6f2c4" stroke-width="3.4" stroke-linecap="round"/>
<path d="M230,212.8 C240,211 250,214 264,212.5" fill="none" stroke="#8cc86a" stroke-width="0.6" stroke-dasharray="2 1.6"/>
<path d="M212,176.8 C226,176.3 236.5,184 236.8,196 C237,203 232,207 229.5,211 C229,214 234,218 236,224 C239,238 228,253.5 212,253.5 C196,253.5 188.2,238 188.2,216 C188.2,193 197,177.3 212,176.8 Z" fill="#e4f9d9" stroke="#6aa843" stroke-width="1.7"/>
<path d="M203,180 C193,188 188.4,202 188.4,216 C188.4,238 196,253.3 212,253.3 C220,253.3 226,249 230,243" fill="none" stroke="#5a9530" stroke-width="2.6" stroke-linecap="round"/>
<path d="M212,176.8 C226,176.3 236.5,184 236.8,196 C237,203 232,207 229.5,211 C229,214 234,218 236,224 C239,238 228,253.5 212,253.5 C196,253.5 188.2,238 188.2,216 C188.2,193 197,177.3 212,176.8 Z" fill="none" stroke="#bfe3a4" stroke-width="0.9" transform="translate(212 215) scale(0.93) translate(-212 -215)"/>
<circle cx="212.7" cy="194" r="8.2" fill="url(#glowP)"/>
<circle cx="212.7" cy="194" r="6.0" fill="#eea0ac"/>
<circle cx="212.7" cy="194" r="4.0" fill="#e07084"/>
<circle cx="204.5" cy="214.4" r="8.2" fill="url(#glowP)"/>
<circle cx="204.5" cy="214.4" r="6.0" fill="#eea0ac"/>
<circle cx="204.5" cy="214.4" r="4.0" fill="#e07084"/>
<circle cx="220.6" cy="221.5" r="8.2" fill="url(#glowP)"/>
<circle cx="220.6" cy="221.5" r="6.0" fill="#eea0ac"/>
<circle cx="220.6" cy="221.5" r="4.0" fill="#e07084"/>
<circle cx="210.4" cy="235.2" r="8.2" fill="url(#glowP)"/>
<circle cx="210.4" cy="235.2" r="6.0" fill="#eea0ac"/>
<circle cx="210.4" cy="235.2" r="4.0" fill="#e07084"/>
</g>
<g transform="translate(199.2,0)">
<path d="M217.5,178 C216.5,172 218.5,167 217,162.5" fill="none" stroke="#8cc86a" stroke-width="3.6" stroke-linecap="round"/>
<path d="M217.5,178 C216.5,172 218.5,167 217,162.5" fill="none" stroke="#d6f2c4" stroke-width="2.6" stroke-linecap="round"/>
<path d="M217.5,178 C216.5,172 218.5,167 217,162.5" fill="none" stroke="#8cc86a" stroke-width="0.6" stroke-dasharray="2 1.6"/>
<path d="M195.5,190 C189,186.5 185,185 180.5,183" fill="none" stroke="#8cc86a" stroke-width="3.6" stroke-linecap="round"/>
<path d="M195.5,190 C189,186.5 185,185 180.5,183" fill="none" stroke="#d6f2c4" stroke-width="2.6" stroke-linecap="round"/>
<path d="M195.5,190 C189,186.5 185,185 180.5,183" fill="none" stroke="#8cc86a" stroke-width="0.6" stroke-dasharray="2 1.6"/>
<path d="M192,229.5 C186,231.5 182,233 176.5,234.5" fill="none" stroke="#8cc86a" stroke-width="3.6" stroke-linecap="round"/>
<path d="M192,229.5 C186,231.5 182,233 176.5,234.5" fill="none" stroke="#d6f2c4" stroke-width="2.6" stroke-linecap="round"/>
<path d="M192,229.5 C186,231.5 182,233 176.5,234.5" fill="none" stroke="#8cc86a" stroke-width="0.6" stroke-dasharray="2 1.6"/>
<path d="M221,250.5 C222.5,255 225,259 226.4,264" fill="none" stroke="#8cc86a" stroke-width="3.6" stroke-linecap="round"/>
<path d="M221,250.5 C222.5,255 225,259 226.4,264" fill="none" stroke="#d6f2c4" stroke-width="2.6" stroke-linecap="round"/>
<path d="M221,250.5 C222.5,255 225,259 226.4,264" fill="none" stroke="#8cc86a" stroke-width="0.6" stroke-dasharray="2 1.6"/>
<path d="M230,212.8 C240,211 250,214 264,212.5" fill="none" stroke="#8cc86a" stroke-width="4.4" stroke-linecap="round"/>
<path d="M230,212.8 C240,211 250,214 264,212.5" fill="none" stroke="#d6f2c4" stroke-width="3.4" stroke-linecap="round"/>
<path d="M230,212.8 C240,211 250,214 264,212.5" fill="none" stroke="#8cc86a" stroke-width="0.6" stroke-dasharray="2 1.6"/>
<path d="M212,176.8 C226,176.3 236.5,184 236.8,196 C237,203 232,207 229.5,211 C229,214 234,218 236,224 C239,238 228,253.5 212,253.5 C196,253.5 188.2,238 188.2,216 C188.2,193 197,177.3 212,176.8 Z" fill="#e4f9d9" stroke="#6aa843" stroke-width="1.7"/>
<path d="M203,180 C193,188 188.4,202 188.4,216 C188.4,238 196,253.3 212,253.3 C220,253.3 226,249 230,243" fill="none" stroke="#5a9530" stroke-width="2.6" stroke-linecap="round"/>
<path d="M212,176.8 C226,176.3 236.5,184 236.8,196 C237,203 232,207 229.5,211 C229,214 234,218 236,224 C239,238 228,253.5 212,253.5 C196,253.5 188.2,238 188.2,216 C188.2,193 197,177.3 212,176.8 Z" fill="none" stroke="#bfe3a4" stroke-width="0.9" transform="translate(212 215) scale(0.93) translate(-212 -215)"/>
<circle cx="212.7" cy="194" r="8.2" fill="url(#glowG)"/>
<circle cx="212.7" cy="194" r="6.0" fill="#a3d6ac"/>
<circle cx="212.7" cy="194" r="4.2" fill="#5fa878"/>
<circle cx="212.7" cy="194" r="2.7" fill="#e5283a"/>
<circle cx="204.5" cy="214.4" r="8.2" fill="url(#glowG)"/>
<circle cx="204.5" cy="214.4" r="6.0" fill="#a3d6ac"/>
<circle cx="204.5" cy="214.4" r="4.2" fill="#5fa878"/>
<circle cx="204.5" cy="214.4" r="2.7" fill="#e5283a"/>
<circle cx="220.6" cy="221.5" r="8.2" fill="url(#glowG)"/>
<circle cx="220.6" cy="221.5" r="6.0" fill="#a3d6ac"/>
<circle cx="220.6" cy="221.5" r="4.2" fill="#5fa878"/>
<circle cx="220.6" cy="221.5" r="2.7" fill="#e5283a"/>
<circle cx="210.4" cy="235.2" r="8.2" fill="url(#glowG)"/>
<circle cx="210.4" cy="235.2" r="6.0" fill="#a3d6ac"/>
<circle cx="210.4" cy="235.2" r="4.2" fill="#5fa878"/>
<circle cx="210.4" cy="235.2" r="2.7" fill="#e5283a"/>
</g>
<g transform="translate(298.8,0)">
<path d="M217.5,178 C216.5,172 218.5,167 217,162.5" fill="none" stroke="#8cc86a" stroke-width="3.6" stroke-linecap="round"/>
<path d="M217.5,178 C216.5,172 218.5,167 217,162.5" fill="none" stroke="#d6f2c4" stroke-width="2.6" stroke-linecap="round"/>
<path d="M217.5,178 C216.5,172 218.5,167 217,162.5" fill="none" stroke="#8cc86a" stroke-width="0.6" stroke-dasharray="2 1.6"/>
<path d="M195.5,190 C189,186.5 185,185 180.5,183" fill="none" stroke="#8cc86a" stroke-width="3.6" stroke-linecap="round"/>
<path d="M195.5,190 C189,186.5 185,185 180.5,183" fill="none" stroke="#d6f2c4" stroke-width="2.6" stroke-linecap="round"/>
<path d="M195.5,190 C189,186.5 185,185 180.5,183" fill="none" stroke="#8cc86a" stroke-width="0.6" stroke-dasharray="2 1.6"/>
<path d="M192,229.5 C186,231.5 182,233 176.5,234.5" fill="none" stroke="#8cc86a" stroke-width="3.6" stroke-linecap="round"/>
<path d="M192,229.5 C186,231.5 182,233 176.5,234.5" fill="none" stroke="#d6f2c4" stroke-width="2.6" stroke-linecap="round"/>
<path d="M192,229.5 C186,231.5 182,233 176.5,234.5" fill="none" stroke="#8cc86a" stroke-width="0.6" stroke-dasharray="2 1.6"/>
<path d="M221,250.5 C222.5,255 225,259 226.4,264" fill="none" stroke="#8cc86a" stroke-width="3.6" stroke-linecap="round"/>
<path d="M221,250.5 C222.5,255 225,259 226.4,264" fill="none" stroke="#d6f2c4" stroke-width="2.6" stroke-linecap="round"/>
<path d="M221,250.5 C222.5,255 225,259 226.4,264" fill="none" stroke="#8cc86a" stroke-width="0.6" stroke-dasharray="2 1.6"/>
<path d="M230,212.8 C240,211 250,214 264,212.5" fill="none" stroke="#8cc86a" stroke-width="4.4" stroke-linecap="round"/>
<path d="M230,212.8 C240,211 250,214 264,212.5" fill="none" stroke="#d6f2c4" stroke-width="3.4" stroke-linecap="round"/>
<path d="M230,212.8 C240,211 250,214 264,212.5" fill="none" stroke="#8cc86a" stroke-width="0.6" stroke-dasharray="2 1.6"/>
<path d="M212,176.8 C226,176.3 236.5,184 236.8,196 C237,203 232,207 229.5,211 C229,214 234,218 236,224 C239,238 228,253.5 212,253.5 C196,253.5 188.2,238 188.2,216 C188.2,193 197,177.3 212,176.8 Z" fill="#e4f9d9" stroke="#6aa843" stroke-width="1.7"/>
<path d="M203,180 C193,188 188.4,202 188.4,216 C188.4,238 196,253.3 212,253.3 C220,253.3 226,249 230,243" fill="none" stroke="#5a9530" stroke-width="2.6" stroke-linecap="round"/>
<path d="M212,176.8 C226,176.3 236.5,184 236.8,196 C237,203 232,207 229.5,211 C229,214 234,218 236,224 C239,238 228,253.5 212,253.5 C196,253.5 188.2,238 188.2,216 C188.2,193 197,177.3 212,176.8 Z" fill="none" stroke="#bfe3a4" stroke-width="0.9" transform="translate(212 215) scale(0.93) translate(-212 -215)"/>
<circle cx="212.7" cy="195.6" r="9.5" fill="url(#glowR)"/>
<circle cx="212.7" cy="195.6" r="6.3" fill="#f8505a"/>
<circle cx="212.7" cy="195.6" r="4.3" fill="#ff2020"/>
<circle cx="204.5" cy="216" r="9.5" fill="url(#glowR)"/>
<circle cx="204.5" cy="216" r="6.3" fill="#f8505a"/>
<circle cx="204.5" cy="216" r="4.3" fill="#ff2020"/>
<circle cx="220.6" cy="223.1" r="9.5" fill="url(#glowR)"/>
<circle cx="220.6" cy="223.1" r="6.3" fill="#f8505a"/>
<circle cx="220.6" cy="223.1" r="4.3" fill="#ff2020"/>
<circle cx="210.4" cy="236.8" r="9.5" fill="url(#glowR)"/>
<circle cx="210.4" cy="236.8" r="6.3" fill="#f8505a"/>
<circle cx="210.4" cy="236.8" r="4.3" fill="#ff2020"/>
</g>
<text x="217.4" y="277.8" font-size="8.8" text-anchor="middle" fill="#1a1a1a" stroke="#1a1a1a" stroke-width="0.18">Non-direct,</text>
<text x="217.4" y="288.5" font-size="8.8" text-anchor="middle" fill="#1a1a1a" stroke="#1a1a1a" stroke-width="0.18">antigen-free</text>
<text x="217.4" y="299.2" font-size="8.8" text-anchor="middle" fill="#1a1a1a" stroke="#1a1a1a" stroke-width="0.18">(Kaede&#160;&#160;red -</text>
<text x="217.4" y="309.9" font-size="8.8" text-anchor="middle" fill="#1a1a1a" stroke="#1a1a1a" stroke-width="0.18">mCherry -)</text>
<text x="318" y="277.8" font-size="8.8" text-anchor="middle" fill="#ee2222" stroke="#ee2222" stroke-width="0.18">Tumour origin DC</text>
<text x="318" y="288.5" font-size="8.8" text-anchor="middle" fill="#ee2222" stroke="#ee2222" stroke-width="0.18">Kaede red +</text>
<text x="416.3" y="277.8" font-size="8.8" text-anchor="middle" fill="#55e4ee" stroke="#55e4ee" stroke-width="0.18">Tumour antigen</text>
<text x="416.3" y="288.5" font-size="8.8" text-anchor="middle" fill="#55e4ee" stroke="#55e4ee" stroke-width="0.18">loaded DC</text>
<text x="416.3" y="299.2" font-size="8.8" text-anchor="middle" fill="#55e4ee" stroke="#55e4ee" stroke-width="0.18">mCherry +</text>
<text x="516" y="277.8" font-size="8.8" text-anchor="middle" fill="#2a1fd6" stroke="#2a1fd6" stroke-width="0.18">Tumour origin and</text>
<text x="516" y="288.5" font-size="8.8" text-anchor="middle" fill="#2a1fd6" stroke="#2a1fd6" stroke-width="0.18">antigen loaded</text>
<text x="516" y="299.2" font-size="8.8" text-anchor="middle" fill="#2a1fd6" stroke="#2a1fd6" stroke-width="0.18">Kaede red +</text>
<text x="516" y="309.9" font-size="8.8" text-anchor="middle" fill="#2a1fd6" stroke="#2a1fd6" stroke-width="0.18">mCherry +</text>
<text x="5" y="341.6" font-size="11" text-anchor="start" fill="#1a1a1a" stroke="#1a1a1a" stroke-width="0.18">C.</text>
<circle cx="56.34" cy="426.59" r="1.6" fill="none" stroke="#2b2b2b" stroke-width="0.6"/>
<circle cx="57.63" cy="419.77" r="1.6" fill="none" stroke="#2b2b2b" stroke-width="0.6"/>
<circle cx="57.47" cy="423.18" r="1.6" fill="none" stroke="#2b2b2b" stroke-width="0.6"/>
<circle cx="56.56" cy="425.04" r="1.6" fill="none" stroke="#2b2b2b" stroke-width="0.6"/>
<circle cx="56.99" cy="421.26" r="1.6" fill="none" stroke="#2b2b2b" stroke-width="0.6"/>
<circle cx="56.91" cy="422" r="1.6" fill="none" stroke="#2b2b2b" stroke-width="0.6"/>
<rect x="54.7" y="422.58" width="4.6" height="1.2" fill="#111"/>
<rect x="61.57" y="423.85" width="3.2" height="3.2" fill="none" stroke="#2b2b2b" stroke-width="0.6"/>
<rect x="61.82" y="418.74" width="3.2" height="3.2" fill="none" stroke="#2b2b2b" stroke-width="0.6"/>
<rect x="60.57" y="421.01" width="3.2" height="3.2" fill="none" stroke="#2b2b2b" stroke-width="0.6"/>
<rect x="60.45" y="420.66" width="3.2" height="3.2" fill="none" stroke="#2b2b2b" stroke-width="0.6"/>
<rect x="61.9" y="419.33" width="3.2" height="3.2" fill="none" stroke="#2b2b2b" stroke-width="0.6"/>
<rect x="61.18" y="421.97" width="3.2" height="3.2" fill="none" stroke="#2b2b2b" stroke-width="0.6"/>
<rect x="60.6" y="422.01" width="4.6" height="1.2" fill="#111"/>
<polygon points="69.27,423.04 67.59,426.26 70.95,426.26" fill="none" stroke="#2b2b2b" stroke-width="0.6"/>
<polygon points="67.9,417.36 66.22,420.58 69.58,420.58" fill="none" stroke="#2b2b2b" stroke-width="0.6"/>
<polygon points="68.7,419.64 67.02,422.86 70.38,422.86" fill="none" stroke="#2b2b2b" stroke-width="0.6"/>
<polygon points="69.2,420.94 67.52,424.16 70.88,424.16" fill="none" stroke="#2b2b2b" stroke-width="0.6"/>
<polygon points="68.31,420.62 66.63,423.84 69.99,423.84" fill="none" stroke="#2b2b2b" stroke-width="0.6"/>
<polygon points="69.6,418.94 67.92,422.16 71.28,422.16" fill="none" stroke="#2b2b2b" stroke-width="0.6"/>
<rect x="66.5" y="420.88" width="4.6" height="1.2" fill="#111"/>
<polygon points="75.42,422.48 77.26,424.32 75.42,426.16 73.58,424.32" fill="none" stroke="#2b2b2b" stroke-width="0.6"/>
<polygon points="73.86,417.93 75.7,419.77 73.86,421.61 72.02,419.77" fill="none" stroke="#2b2b2b" stroke-width="0.6"/>
<polygon points="73.85,419.64 75.69,421.48 73.85,423.32 72.01,421.48" fill="none" stroke="#2b2b2b" stroke-width="0.6"/>
<polygon points="74.77,419.01 76.61,420.85 74.77,422.69 72.93,420.85" fill="none" stroke="#2b2b2b" stroke-width="0.6"/>
<polygon points="75.49,418.63 77.33,420.47 75.49,422.31 73.65,420.47" fill="none" stroke="#2b2b2b" stroke-width="0.6"/>
<polygon points="74.49,422.25 76.33,424.09 74.49,425.93 72.65,424.09" fill="none" stroke="#2b2b2b" stroke-width="0.6"/>
<rect x="72.4" y="420.88" width="4.6" height="1.2" fill="#111"/>
<circle cx="83.69" cy="430" r="1.6" fill="none" stroke="#ee3a3a" stroke-width="0.6"/>
<circle cx="84.06" cy="418.64" r="1.6" fill="none" stroke="#ee3a3a" stroke-width="0.6"/>
<circle cx="83.35" cy="424.32" r="1.6" fill="none" stroke="#ee3a3a" stroke-width="0.6"/>
<circle cx="83.7" cy="422.55" r="1.6" fill="none" stroke="#ee3a3a" stroke-width="0.6"/>
<circle cx="84.09" cy="423.19" r="1.6" fill="none" stroke="#ee3a3a" stroke-width="0.6"/>
<circle cx="84.19" cy="428.44" r="1.6" fill="none" stroke="#ee3a3a" stroke-width="0.6"/>
<circle cx="83.72" cy="423.98" r="1.6" fill="none" stroke="#ee3a3a" stroke-width="0.6"/>
<rect x="81.9" y="423.72" width="4.6" height="1.2" fill="#111"/>
<rect x="88.02" y="426.12" width="3.2" height="3.2" fill="none" stroke="#ee3a3a" stroke-width="0.6"/>
<rect x="87.99" y="421.58" width="3.2" height="3.2" fill="none" stroke="#ee3a3a" stroke-width="0.6"/>
<rect x="88.43" y="424.99" width="3.2" height="3.2" fill="none" stroke="#ee3a3a" stroke-width="0.6"/>
<rect x="88.12" y="424.41" width="3.2" height="3.2" fill="none" stroke="#ee3a3a" stroke-width="0.6"/>
<rect x="87.64" y="423.64" width="3.2" height="3.2" fill="none" stroke="#ee3a3a" stroke-width="0.6"/>
<rect x="89.11" y="425.42" width="3.2" height="3.2" fill="none" stroke="#ee3a3a" stroke-width="0.6"/>
<rect x="87.8" y="425.99" width="4.6" height="1.2" fill="#111"/>
<polygon points="96.1,425.32 94.42,428.54 97.78,428.54" fill="none" stroke="#ee3a3a" stroke-width="0.6"/>
<polygon points="96.26,400.32 94.58,403.54 97.94,403.54" fill="none" stroke="#ee3a3a" stroke-width="0.6"/>
<polygon points="95.43,421.34 93.75,424.56 97.11,424.56" fill="none" stroke="#ee3a3a" stroke-width="0.6"/>
<polygon points="96.89,422.67 95.21,425.89 98.57,425.89" fill="none" stroke="#ee3a3a" stroke-width="0.6"/>
<polygon points="96.65,409.58 94.97,412.8 98.33,412.8" fill="none" stroke="#ee3a3a" stroke-width="0.6"/>
<polygon points="95.32,408.7 93.64,411.92 97,411.92" fill="none" stroke="#ee3a3a" stroke-width="0.6"/>
<rect x="93.7" y="422.58" width="4.6" height="1.2" fill="#111"/>
<polygon points="101.6,425.88 103.44,427.72 101.6,429.56 99.76,427.72" fill="none" stroke="#ee3a3a" stroke-width="0.6"/>
<polygon points="102.3,413.96 104.14,415.8 102.3,417.64 100.46,415.8" fill="none" stroke="#ee3a3a" stroke-width="0.6"/>
<polygon points="102.28,422.48 104.12,424.32 102.28,426.16 100.44,424.32" fill="none" stroke="#ee3a3a" stroke-width="0.6"/>
<polygon points="102.69,422.93 104.53,424.77 102.69,426.61 100.85,424.77" fill="none" stroke="#ee3a3a" stroke-width="0.6"/>
<polygon points="101.76,422.35 103.6,424.19 101.76,426.03 99.92,424.19" fill="none" stroke="#ee3a3a" stroke-width="0.6"/>
<polygon points="102.49,420.85 104.33,422.69 102.49,424.53 100.65,422.69" fill="none" stroke="#ee3a3a" stroke-width="0.6"/>
<polygon points="102.21,416.66 104.05,418.5 102.21,420.34 100.37,418.5" fill="none" stroke="#ee3a3a" stroke-width="0.6"/>
<rect x="99.6" y="423.72" width="4.6" height="1.2" fill="#111"/>
<circle cx="111.15" cy="421.48" r="1.6" fill="none" stroke="#5fe0e6" stroke-width="0.6"/>
<circle cx="111.66" cy="403.3" r="1.6" fill="none" stroke="#5fe0e6" stroke-width="0.6"/>
<circle cx="112.19" cy="416.93" r="1.6" fill="none" stroke="#5fe0e6" stroke-width="0.6"/>
<circle cx="112.12" cy="414.87" r="1.6" fill="none" stroke="#5fe0e6" stroke-width="0.6"/>
<circle cx="111.51" cy="410" r="1.6" fill="none" stroke="#5fe0e6" stroke-width="0.6"/>
<circle cx="111.66" cy="406.68" r="1.6" fill="none" stroke="#5fe0e6" stroke-width="0.6"/>
<circle cx="110.66" cy="417.87" r="1.6" fill="none" stroke="#5fe0e6" stroke-width="0.6"/>
<rect x="109.2" y="416.33" width="4.6" height="1.2" fill="#111"/>
<rect x="115.34" y="422.72" width="3.2" height="3.2" fill="none" stroke="#5fe0e6" stroke-width="0.6"/>
<rect x="116.34" y="405.68" width="3.2" height="3.2" fill="none" stroke="#5fe0e6" stroke-width="0.6"/>
<rect x="115.65" y="417.6" width="3.2" height="3.2" fill="none" stroke="#5fe0e6" stroke-width="0.6"/>
<rect x="115.21" y="419.73" width="3.2" height="3.2" fill="none" stroke="#5fe0e6" stroke-width="0.6"/>
<rect x="115.89" y="418.04" width="3.2" height="3.2" fill="none" stroke="#5fe0e6" stroke-width="0.6"/>
<rect x="116.17" y="412.62" width="3.2" height="3.2" fill="none" stroke="#5fe0e6" stroke-width="0.6"/>
<rect x="116.11" y="414.88" width="3.2" height="3.2" fill="none" stroke="#5fe0e6" stroke-width="0.6"/>
<rect x="115.1" y="418.6" width="4.6" height="1.2" fill="#111"/>
<polygon points="123.07,422.48 121.39,425.7 124.75,425.7" fill="none" stroke="#5fe0e6" stroke-width="0.6"/>
<polygon points="123.19,368.52 121.51,371.74 124.87,371.74" fill="none" stroke="#5fe0e6" stroke-width="0.6"/>
<polygon points="123.32,404.3 121.64,407.52 125,407.52" fill="none" stroke="#5fe0e6" stroke-width="0.6"/>
<polygon points="123.8,387.21 122.12,390.43 125.48,390.43" fill="none" stroke="#5fe0e6" stroke-width="0.6"/>
<polygon points="123.34,405.57 121.66,408.79 125.02,408.79" fill="none" stroke="#5fe0e6" stroke-width="0.6"/>
<polygon points="123.11,382.51 121.43,385.73 124.79,385.73" fill="none" stroke="#5fe0e6" stroke-width="0.6"/>
<polygon points="123.28,407.29 121.6,410.51 124.96,410.51" fill="none" stroke="#5fe0e6" stroke-width="0.6"/>
<rect x="121" y="405.54" width="4.6" height="1.2" fill="#111"/>
<polygon points="128.35,421.91 130.19,423.75 128.35,425.59 126.51,423.75" fill="none" stroke="#5fe0e6" stroke-width="0.6"/>
<polygon points="128.38,391.24 130.22,393.08 128.38,394.92 126.54,393.08" fill="none" stroke="#5fe0e6" stroke-width="0.6"/>
<polygon points="129.57,412.82 131.41,414.66 129.57,416.5 127.73,414.66" fill="none" stroke="#5fe0e6" stroke-width="0.6"/>
<polygon points="130.07,421.12 131.91,422.96 130.07,424.8 128.23,422.96" fill="none" stroke="#5fe0e6" stroke-width="0.6"/>
<polygon points="129.37,420.93 131.21,422.77 129.37,424.61 127.53,422.77" fill="none" stroke="#5fe0e6" stroke-width="0.6"/>
<polygon points="129.01,412.16 130.85,414 129.01,415.84 127.17,414" fill="none" stroke="#5fe0e6" stroke-width="0.6"/>
<polygon points="128.61,407.08 130.45,408.92 128.61,410.76 126.77,408.92" fill="none" stroke="#5fe0e6" stroke-width="0.6"/>
<rect x="126.9" y="414.06" width="4.6" height="1.2" fill="#111"/>
<circle cx="138.8" cy="430" r="1.6" fill="none" stroke="#3333dd" stroke-width="0.6"/>
<circle cx="139.67" cy="419.2" r="1.6" fill="none" stroke="#3333dd" stroke-width="0.6"/>
<circle cx="139.29" cy="426.02" r="1.6" fill="none" stroke="#3333dd" stroke-width="0.6"/>
<circle cx="138.87" cy="424.53" r="1.6" fill="none" stroke="#3333dd" stroke-width="0.6"/>
<circle cx="139.45" cy="421.67" r="1.6" fill="none" stroke="#3333dd" stroke-width="0.6"/>
<circle cx="138.32" cy="425.9" r="1.6" fill="none" stroke="#3333dd" stroke-width="0.6"/>
<circle cx="138.82" cy="428.65" r="1.6" fill="none" stroke="#3333dd" stroke-width="0.6"/>
<circle cx="139.61" cy="422.43" r="1.6" fill="none" stroke="#3333dd" stroke-width="0.6"/>
<rect x="136.5" y="425.42" width="4.6" height="1.2" fill="#111"/>
<rect x="143.24" y="427.26" width="3.2" height="3.2" fill="none" stroke="#3333dd" stroke-width="0.6"/>
<rect x="143.03" y="419.88" width="3.2" height="3.2" fill="none" stroke="#3333dd" stroke-width="0.6"/>
<rect x="142.68" y="423.85" width="3.2" height="3.2" fill="none" stroke="#3333dd" stroke-width="0.6"/>
<rect x="143.19" y="424.64" width="3.2" height="3.2" fill="none" stroke="#3333dd" stroke-width="0.6"/>
<rect x="143.92" y="426.28" width="3.2" height="3.2" fill="none" stroke="#3333dd" stroke-width="0.6"/>
<rect x="142.21" y="424.21" width="3.2" height="3.2" fill="none" stroke="#3333dd" stroke-width="0.6"/>
<rect x="143.61" y="425.24" width="3.2" height="3.2" fill="none" stroke="#3333dd" stroke-width="0.6"/>
<rect x="143.68" y="426.67" width="3.2" height="3.2" fill="none" stroke="#3333dd" stroke-width="0.6"/>
<rect x="142.4" y="424.85" width="4.6" height="1.2" fill="#111"/>
<polygon points="151.3,425.88 149.62,429.1 152.98,429.1" fill="none" stroke="#3333dd" stroke-width="0.6"/>
<polygon points="151.03,383.85 149.35,387.07 152.71,387.07" fill="none" stroke="#3333dd" stroke-width="0.6"/>
<polygon points="151.16,420.77 149.48,423.99 152.84,423.99" fill="none" stroke="#3333dd" stroke-width="0.6"/>
<polygon points="150.63,423.8 148.95,427.02 152.31,427.02" fill="none" stroke="#3333dd" stroke-width="0.6"/>
<polygon points="150.71,394.25 149.03,397.47 152.39,397.47" fill="none" stroke="#3333dd" stroke-width="0.6"/>
<polygon points="150.47,421.55 148.79,424.77 152.15,424.77" fill="none" stroke="#3333dd" stroke-width="0.6"/>
<polygon points="149.8,396.08 148.12,399.3 151.48,399.3" fill="none" stroke="#3333dd" stroke-width="0.6"/>
<polygon points="151.27,420.87 149.59,424.09 152.95,424.09" fill="none" stroke="#3333dd" stroke-width="0.6"/>
<rect x="148.3" y="422.01" width="4.6" height="1.2" fill="#111"/>
<polygon points="156.63,425.88 158.47,427.72 156.63,429.56 154.79,427.72" fill="none" stroke="#3333dd" stroke-width="0.6"/>
<polygon points="155.96,406 157.8,407.84 155.96,409.68 154.12,407.84" fill="none" stroke="#3333dd" stroke-width="0.6"/>
<polygon points="156.51,421.91 158.35,423.75 156.51,425.59 154.67,423.75" fill="none" stroke="#3333dd" stroke-width="0.6"/>
<polygon points="156.47,423.97 158.31,425.81 156.47,427.65 154.63,425.81" fill="none" stroke="#3333dd" stroke-width="0.6"/>
<polygon points="156.24,411.62 158.08,413.46 156.24,415.3 154.4,413.46" fill="none" stroke="#3333dd" stroke-width="0.6"/>
<polygon points="156.22,423.72 158.06,425.56 156.22,427.4 154.38,425.56" fill="none" stroke="#3333dd" stroke-width="0.6"/>
<polygon points="156.57,412.88 158.41,414.72 156.57,416.56 154.73,414.72" fill="none" stroke="#3333dd" stroke-width="0.6"/>
<polygon points="156.72,412.44 158.56,414.28 156.72,416.12 154.88,414.28" fill="none" stroke="#3333dd" stroke-width="0.6"/>
<rect x="154.2" y="423.15" width="4.6" height="1.2" fill="#111"/>
<line x1="53.3" y1="346" x2="53.3" y2="432.2" stroke="#4a4a4a" stroke-width="1"/>
<line x1="52.8" y1="431.7" x2="160" y2="431.7" stroke="#4a4a4a" stroke-width="1"/>
<line x1="49.7" y1="431.7" x2="53.3" y2="431.7" stroke="#4a4a4a" stroke-width="0.9"/>
<text x="48.7" y="433.82" font-size="5.9" text-anchor="end" fill="#333" stroke="#333" stroke-width="0.18">0</text>
<line x1="49.7" y1="403.3" x2="53.3" y2="403.3" stroke="#4a4a4a" stroke-width="0.9"/>
<text x="48.7" y="405.42" font-size="5.9" text-anchor="end" fill="#333" stroke="#333" stroke-width="0.18">5000</text>
<line x1="49.7" y1="374.9" x2="53.3" y2="374.9" stroke="#4a4a4a" stroke-width="0.9"/>
<text x="48.7" y="377.02" font-size="5.9" text-anchor="end" fill="#333" stroke="#333" stroke-width="0.18">10000</text>
<line x1="49.7" y1="346.5" x2="53.3" y2="346.5" stroke="#4a4a4a" stroke-width="0.9"/>
<text x="48.7" y="348.62" font-size="5.9" text-anchor="end" fill="#333" stroke="#333" stroke-width="0.18">15000</text>
<line x1="65.8" y1="431.7" x2="65.8" y2="434.5" stroke="#4a4a4a" stroke-width="0.9"/>
<line x1="93" y1="431.7" x2="93" y2="434.5" stroke="#4a4a4a" stroke-width="0.9"/>
<line x1="120.3" y1="431.7" x2="120.3" y2="434.5" stroke="#4a4a4a" stroke-width="0.9"/>
<line x1="147.6" y1="431.7" x2="147.6" y2="434.5" stroke="#4a4a4a" stroke-width="0.9"/>
<line x1="117.9" y1="359.7" x2="123.3" y2="359.7" stroke="#333" stroke-width="0.75"/>
<text x="120.6" y="362.07" font-size="9" text-anchor="middle" font-weight="bold" fill="#111" stroke="#111" stroke-width="0.18">*</text>
<text x="28.5" y="389.1" font-size="5.75" text-anchor="middle" fill="#222" transform="rotate(-90 28.5 389.1)" stroke="#222" stroke-width="0.18">CD80 MFI (CD103+ cDC1)</text>
<text x="67.5" y="441.2" font-size="5.8" text-anchor="end" fill="#333" transform="rotate(-45 67.5 441.2)" stroke="#333" stroke-width="0.18">Non direct</text>
<text x="94.7" y="441.2" font-size="5.8" text-anchor="end" fill="#333" transform="rotate(-45 94.7 441.2)" stroke="#333" stroke-width="0.18">Kaede Red+</text>
<text x="122" y="441.2" font-size="5.8" text-anchor="end" fill="#333" transform="rotate(-45 122 441.2)" stroke="#333" stroke-width="0.18">mCherry+</text>
<text x="124.08" y="463.92" font-size="5.8" text-anchor="start" fill="#333" transform="rotate(-45 124.08 463.92)" stroke="#333" stroke-width="0.18">Kaede Red+</text>
<text x="128.89" y="468.73" font-size="5.8" text-anchor="start" fill="#333" transform="rotate(-45 128.89 468.73)" stroke="#333" stroke-width="0.18">mCherry+</text>
<circle cx="207.02" cy="424.03" r="1.6" fill="none" stroke="#2b2b2b" stroke-width="0.6"/>
<circle cx="207.01" cy="418.07" r="1.6" fill="none" stroke="#2b2b2b" stroke-width="0.6"/>
<circle cx="205.4" cy="420.62" r="1.6" fill="none" stroke="#2b2b2b" stroke-width="0.6"/>
<circle cx="205.45" cy="423.34" r="1.6" fill="none" stroke="#2b2b2b" stroke-width="0.6"/>
<circle cx="206.8" cy="420.33" r="1.6" fill="none" stroke="#2b2b2b" stroke-width="0.6"/>
<circle cx="206.62" cy="420.08" r="1.6" fill="none" stroke="#2b2b2b" stroke-width="0.6"/>
<rect x="203.9" y="420.02" width="4.6" height="1.2" fill="#111"/>
<rect x="210.81" y="419.88" width="3.2" height="3.2" fill="none" stroke="#2b2b2b" stroke-width="0.6"/>
<rect x="210.15" y="411.36" width="3.2" height="3.2" fill="none" stroke="#2b2b2b" stroke-width="0.6"/>
<rect x="210.69" y="414.76" width="3.2" height="3.2" fill="none" stroke="#2b2b2b" stroke-width="0.6"/>
<rect x="210.69" y="418.21" width="3.2" height="3.2" fill="none" stroke="#2b2b2b" stroke-width="0.6"/>
<rect x="210.65" y="418.43" width="3.2" height="3.2" fill="none" stroke="#2b2b2b" stroke-width="0.6"/>
<rect x="209.89" y="412.87" width="3.2" height="3.2" fill="none" stroke="#2b2b2b" stroke-width="0.6"/>
<rect x="209.8" y="415.76" width="4.6" height="1.2" fill="#111"/>
<polygon points="217.88,410.26 216.2,413.48 219.56,413.48" fill="none" stroke="#2b2b2b" stroke-width="0.6"/>
<polygon points="217.81,393.22 216.13,396.44 219.49,396.44" fill="none" stroke="#2b2b2b" stroke-width="0.6"/>
<polygon points="218.4,401.74 216.72,404.96 220.08,404.96" fill="none" stroke="#2b2b2b" stroke-width="0.6"/>
<polygon points="218.89,397.35 217.21,400.57 220.57,400.57" fill="none" stroke="#2b2b2b" stroke-width="0.6"/>
<polygon points="218.81,408.58 217.13,411.8 220.49,411.8" fill="none" stroke="#2b2b2b" stroke-width="0.6"/>
<polygon points="218.08,395.14 216.4,398.36 219.76,398.36" fill="none" stroke="#2b2b2b" stroke-width="0.6"/>
<rect x="215.7" y="402.98" width="4.6" height="1.2" fill="#111"/>
<polygon points="223.8,406.86 225.64,408.7 223.8,410.54 221.96,408.7" fill="none" stroke="#2b2b2b" stroke-width="0.6"/>
<polygon points="223.48,387.26 225.32,389.1 223.48,390.94 221.64,389.1" fill="none" stroke="#2b2b2b" stroke-width="0.6"/>
<polygon points="223.06,404.3 224.9,406.14 223.06,407.98 221.22,406.14" fill="none" stroke="#2b2b2b" stroke-width="0.6"/>
<polygon points="223.05,404.7 224.89,406.54 223.05,408.38 221.21,406.54" fill="none" stroke="#2b2b2b" stroke-width="0.6"/>
<polygon points="223.84,401.4 225.68,403.24 223.84,405.08 222,403.24" fill="none" stroke="#2b2b2b" stroke-width="0.6"/>
<polygon points="223.57,396.19 225.41,398.03 223.57,399.87 221.73,398.03" fill="none" stroke="#2b2b2b" stroke-width="0.6"/>
<rect x="221.6" y="405.54" width="4.6" height="1.2" fill="#111"/>
<circle cx="233.38" cy="419.77" r="1.6" fill="none" stroke="#ee3a3a" stroke-width="0.6"/>
<circle cx="234.31" cy="404.44" r="1.6" fill="none" stroke="#ee3a3a" stroke-width="0.6"/>
<circle cx="233.65" cy="415.51" r="1.6" fill="none" stroke="#ee3a3a" stroke-width="0.6"/>
<circle cx="233.71" cy="416.87" r="1.6" fill="none" stroke="#ee3a3a" stroke-width="0.6"/>
<circle cx="233.13" cy="411.92" r="1.6" fill="none" stroke="#ee3a3a" stroke-width="0.6"/>
<circle cx="232.74" cy="419.69" r="1.6" fill="none" stroke="#ee3a3a" stroke-width="0.6"/>
<circle cx="233.29" cy="419.6" r="1.6" fill="none" stroke="#ee3a3a" stroke-width="0.6"/>
<rect x="231.3" y="414.91" width="4.6" height="1.2" fill="#111"/>
<rect x="237.25" y="406.24" width="3.2" height="3.2" fill="none" stroke="#ee3a3a" stroke-width="0.6"/>
<rect x="237.92" y="390.06" width="3.2" height="3.2" fill="none" stroke="#ee3a3a" stroke-width="0.6"/>
<rect x="238.8" y="396.02" width="3.2" height="3.2" fill="none" stroke="#ee3a3a" stroke-width="0.6"/>
<rect x="238.21" y="392.49" width="3.2" height="3.2" fill="none" stroke="#ee3a3a" stroke-width="0.6"/>
<rect x="237.33" y="397.21" width="3.2" height="3.2" fill="none" stroke="#ee3a3a" stroke-width="0.6"/>
<rect x="238.61" y="392.91" width="3.2" height="3.2" fill="none" stroke="#ee3a3a" stroke-width="0.6"/>
<rect x="238.43" y="394.38" width="3.2" height="3.2" fill="none" stroke="#ee3a3a" stroke-width="0.6"/>
<rect x="237.2" y="397.02" width="4.6" height="1.2" fill="#111"/>
<polygon points="245.82,409.41 244.14,412.63 247.5,412.63" fill="none" stroke="#ee3a3a" stroke-width="0.6"/>
<polygon points="246.13,388.96 244.45,392.18 247.81,392.18" fill="none" stroke="#ee3a3a" stroke-width="0.6"/>
<polygon points="245.87,398.34 244.19,401.56 247.55,401.56" fill="none" stroke="#ee3a3a" stroke-width="0.6"/>
<polygon points="245.92,398.53 244.24,401.75 247.6,401.75" fill="none" stroke="#ee3a3a" stroke-width="0.6"/>
<polygon points="245.14,397.89 243.46,401.11 246.82,401.11" fill="none" stroke="#ee3a3a" stroke-width="0.6"/>
<polygon points="246.27,397.17 244.59,400.39 247.95,400.39" fill="none" stroke="#ee3a3a" stroke-width="0.6"/>
<polygon points="246.23,400.28 244.55,403.5 247.91,403.5" fill="none" stroke="#ee3a3a" stroke-width="0.6"/>
<rect x="243.1" y="399.58" width="4.6" height="1.2" fill="#111"/>
<polygon points="250.69,394.93 252.53,396.77 250.69,398.61 248.85,396.77" fill="none" stroke="#ee3a3a" stroke-width="0.6"/>
<polygon points="251.76,357.44 253.6,359.28 251.76,361.12 249.92,359.28" fill="none" stroke="#ee3a3a" stroke-width="0.6"/>
<polygon points="251.69,377.89 253.53,379.73 251.69,381.57 249.85,379.73" fill="none" stroke="#ee3a3a" stroke-width="0.6"/>
<polygon points="251.23,391.17 253.07,393.01 251.23,394.85 249.39,393.01" fill="none" stroke="#ee3a3a" stroke-width="0.6"/>
<polygon points="251.35,387.83 253.19,389.67 251.35,391.51 249.51,389.67" fill="none" stroke="#ee3a3a" stroke-width="0.6"/>
<polygon points="251.28,372.82 253.12,374.66 251.28,376.5 249.44,374.66" fill="none" stroke="#ee3a3a" stroke-width="0.6"/>
<polygon points="252.06,386.05 253.9,387.89 252.06,389.73 250.22,387.89" fill="none" stroke="#ee3a3a" stroke-width="0.6"/>
<rect x="249" y="379.13" width="4.6" height="1.2" fill="#111"/>
<circle cx="260.9" cy="410.4" r="1.6" fill="none" stroke="#5fe0e6" stroke-width="0.6"/>
<circle cx="261.5" cy="391.66" r="1.6" fill="none" stroke="#5fe0e6" stroke-width="0.6"/>
<circle cx="260.64" cy="406.99" r="1.6" fill="none" stroke="#5fe0e6" stroke-width="0.6"/>
<circle cx="261.59" cy="404.13" r="1.6" fill="none" stroke="#5fe0e6" stroke-width="0.6"/>
<circle cx="261.62" cy="409.46" r="1.6" fill="none" stroke="#5fe0e6" stroke-width="0.6"/>
<circle cx="260.83" cy="408.73" r="1.6" fill="none" stroke="#5fe0e6" stroke-width="0.6"/>
<rect x="258.6" y="406.39" width="4.6" height="1.2" fill="#111"/>
<rect x="265.32" y="400.28" width="3.2" height="3.2" fill="none" stroke="#5fe0e6" stroke-width="0.6"/>
<rect x="265.96" y="382.39" width="3.2" height="3.2" fill="none" stroke="#5fe0e6" stroke-width="0.6"/>
<rect x="265.6" y="396.87" width="3.2" height="3.2" fill="none" stroke="#5fe0e6" stroke-width="0.6"/>
<rect x="265.18" y="399.96" width="3.2" height="3.2" fill="none" stroke="#5fe0e6" stroke-width="0.6"/>
<rect x="264.7" y="397.48" width="3.2" height="3.2" fill="none" stroke="#5fe0e6" stroke-width="0.6"/>
<rect x="264.88" y="397.68" width="3.2" height="3.2" fill="none" stroke="#5fe0e6" stroke-width="0.6"/>
<rect x="264.5" y="397.87" width="4.6" height="1.2" fill="#111"/>
<polygon points="273.06,395.78 271.38,399 274.74,399" fill="none" stroke="#5fe0e6" stroke-width="0.6"/>
<polygon points="272.1,377.04 270.42,380.26 273.78,380.26" fill="none" stroke="#5fe0e6" stroke-width="0.6"/>
<polygon points="273.43,384.7 271.75,387.92 275.11,387.92" fill="none" stroke="#5fe0e6" stroke-width="0.6"/>
<polygon points="272.28,383.26 270.6,386.48 273.96,386.48" fill="none" stroke="#5fe0e6" stroke-width="0.6"/>
<polygon points="273.44,395.46 271.76,398.68 275.12,398.68" fill="none" stroke="#5fe0e6" stroke-width="0.6"/>
<polygon points="272.36,387.58 270.68,390.8 274.04,390.8" fill="none" stroke="#5fe0e6" stroke-width="0.6"/>
<rect x="270.4" y="385.94" width="4.6" height="1.2" fill="#111"/>
<polygon points="279.42,388.96 281.26,390.8 279.42,392.64 277.58,390.8" fill="none" stroke="#5fe0e6" stroke-width="0.6"/>
<polygon points="278.97,357.44 280.81,359.28 278.97,361.12 277.13,359.28" fill="none" stroke="#5fe0e6" stroke-width="0.6"/>
<polygon points="278.61,383 280.45,384.84 278.61,386.68 276.77,384.84" fill="none" stroke="#5fe0e6" stroke-width="0.6"/>
<polygon points="278.63,386.34 280.47,388.18 278.63,390.02 276.79,388.18" fill="none" stroke="#5fe0e6" stroke-width="0.6"/>
<polygon points="278.87,385.79 280.71,387.63 278.87,389.47 277.03,387.63" fill="none" stroke="#5fe0e6" stroke-width="0.6"/>
<polygon points="278.76,369.21 280.6,371.05 278.76,372.89 276.92,371.05" fill="none" stroke="#5fe0e6" stroke-width="0.6"/>
<rect x="276.3" y="384.24" width="4.6" height="1.2" fill="#111"/>
<circle cx="287.86" cy="419.77" r="1.6" fill="none" stroke="#3333dd" stroke-width="0.6"/>
<circle cx="287.67" cy="400.18" r="1.6" fill="none" stroke="#3333dd" stroke-width="0.6"/>
<circle cx="288.22" cy="409.55" r="1.6" fill="none" stroke="#3333dd" stroke-width="0.6"/>
<circle cx="288.98" cy="407.28" r="1.6" fill="none" stroke="#3333dd" stroke-width="0.6"/>
<circle cx="288.42" cy="402.91" r="1.6" fill="none" stroke="#3333dd" stroke-width="0.6"/>
<circle cx="287.44" cy="404.6" r="1.6" fill="none" stroke="#3333dd" stroke-width="0.6"/>
<circle cx="288.78" cy="405.9" r="1.6" fill="none" stroke="#3333dd" stroke-width="0.6"/>
<circle cx="288.61" cy="403" r="1.6" fill="none" stroke="#3333dd" stroke-width="0.6"/>
<rect x="285.9" y="408.95" width="4.6" height="1.2" fill="#111"/>
<rect x="293.23" y="403.69" width="3.2" height="3.2" fill="none" stroke="#3333dd" stroke-width="0.6"/>
<rect x="291.94" y="387.5" width="3.2" height="3.2" fill="none" stroke="#3333dd" stroke-width="0.6"/>
<rect x="292.94" y="394.32" width="3.2" height="3.2" fill="none" stroke="#3333dd" stroke-width="0.6"/>
<rect x="291.71" y="389.07" width="3.2" height="3.2" fill="none" stroke="#3333dd" stroke-width="0.6"/>
<rect x="292.78" y="389.63" width="3.2" height="3.2" fill="none" stroke="#3333dd" stroke-width="0.6"/>
<rect x="292.09" y="390.21" width="3.2" height="3.2" fill="none" stroke="#3333dd" stroke-width="0.6"/>
<rect x="292.01" y="393.05" width="3.2" height="3.2" fill="none" stroke="#3333dd" stroke-width="0.6"/>
<rect x="293.18" y="391.21" width="3.2" height="3.2" fill="none" stroke="#3333dd" stroke-width="0.6"/>
<rect x="291.8" y="395.32" width="4.6" height="1.2" fill="#111"/>
<polygon points="299.29,404.3 297.61,407.52 300.97,407.52" fill="none" stroke="#3333dd" stroke-width="0.6"/>
<polygon points="300.04,388.96 298.36,392.18 301.72,392.18" fill="none" stroke="#3333dd" stroke-width="0.6"/>
<polygon points="300.64,393.22 298.96,396.44 302.32,396.44" fill="none" stroke="#3333dd" stroke-width="0.6"/>
<polygon points="299.54,401.72 297.86,404.94 301.22,404.94" fill="none" stroke="#3333dd" stroke-width="0.6"/>
<polygon points="299.48,394.83 297.8,398.05 301.16,398.05" fill="none" stroke="#3333dd" stroke-width="0.6"/>
<polygon points="300.69,401.19 299.01,404.41 302.37,404.41" fill="none" stroke="#3333dd" stroke-width="0.6"/>
<polygon points="299.86,391.8 298.18,395.02 301.54,395.02" fill="none" stroke="#3333dd" stroke-width="0.6"/>
<polygon points="300.39,392.81 298.71,396.03 302.07,396.03" fill="none" stroke="#3333dd" stroke-width="0.6"/>
<rect x="297.7" y="394.46" width="4.6" height="1.2" fill="#111"/>
<polygon points="305.06,394.93 306.9,396.77 305.06,398.61 303.22,396.77" fill="none" stroke="#3333dd" stroke-width="0.6"/>
<polygon points="305.65,357.44 307.49,359.28 305.65,361.12 303.81,359.28" fill="none" stroke="#3333dd" stroke-width="0.6"/>
<polygon points="305.31,377.04 307.15,378.88 305.31,380.72 303.47,378.88" fill="none" stroke="#3333dd" stroke-width="0.6"/>
<polygon points="306.21,367.19 308.05,369.03 306.21,370.87 304.37,369.03" fill="none" stroke="#3333dd" stroke-width="0.6"/>
<polygon points="305.15,364.49 306.99,366.33 305.15,368.17 303.31,366.33" fill="none" stroke="#3333dd" stroke-width="0.6"/>
<polygon points="306.72,391.27 308.56,393.11 306.72,394.95 304.88,393.11" fill="none" stroke="#3333dd" stroke-width="0.6"/>
<polygon points="305.05,372.82 306.89,374.66 305.05,376.5 303.21,374.66" fill="none" stroke="#3333dd" stroke-width="0.6"/>
<polygon points="306.31,365.81 308.15,367.65 306.31,369.49 304.47,367.65" fill="none" stroke="#3333dd" stroke-width="0.6"/>
<rect x="303.6" y="378.28" width="4.6" height="1.2" fill="#111"/>
<line x1="202.2" y1="346" x2="202.2" y2="432.2" stroke="#4a4a4a" stroke-width="1"/>
<line x1="201.7" y1="431.7" x2="309" y2="431.7" stroke="#4a4a4a" stroke-width="1"/>
<line x1="198.6" y1="431.7" x2="202.2" y2="431.7" stroke="#4a4a4a" stroke-width="0.9"/>
<text x="197.6" y="433.82" font-size="5.9" text-anchor="end" fill="#333" stroke="#333" stroke-width="0.18">0</text>
<line x1="198.6" y1="414.66" x2="202.2" y2="414.66" stroke="#4a4a4a" stroke-width="0.9"/>
<text x="197.6" y="416.78" font-size="5.9" text-anchor="end" fill="#333" stroke="#333" stroke-width="0.18">2000</text>
<line x1="198.6" y1="397.62" x2="202.2" y2="397.62" stroke="#4a4a4a" stroke-width="0.9"/>
<text x="197.6" y="399.74" font-size="5.9" text-anchor="end" fill="#333" stroke="#333" stroke-width="0.18">4000</text>
<line x1="198.6" y1="380.58" x2="202.2" y2="380.58" stroke="#4a4a4a" stroke-width="0.9"/>
<text x="197.6" y="382.7" font-size="5.9" text-anchor="end" fill="#333" stroke="#333" stroke-width="0.18">6000</text>
<line x1="198.6" y1="363.54" x2="202.2" y2="363.54" stroke="#4a4a4a" stroke-width="0.9"/>
<text x="197.6" y="365.66" font-size="5.9" text-anchor="end" fill="#333" stroke="#333" stroke-width="0.18">8000</text>
<line x1="198.6" y1="346.5" x2="202.2" y2="346.5" stroke="#4a4a4a" stroke-width="0.9"/>
<text x="197.6" y="348.62" font-size="5.9" text-anchor="end" fill="#333" stroke="#333" stroke-width="0.18">10000</text>
<line x1="215" y1="431.7" x2="215" y2="434.5" stroke="#4a4a4a" stroke-width="0.9"/>
<line x1="242.4" y1="431.7" x2="242.4" y2="434.5" stroke="#4a4a4a" stroke-width="0.9"/>
<line x1="269.7" y1="431.7" x2="269.7" y2="434.5" stroke="#4a4a4a" stroke-width="0.9"/>
<line x1="297" y1="431.7" x2="297" y2="434.5" stroke="#4a4a4a" stroke-width="0.9"/>
<line x1="206.2" y1="337" x2="223.9" y2="337" stroke="#333" stroke-width="0.75"/>
<text x="215.05" y="339.37" font-size="9" text-anchor="middle" font-weight="bold" fill="#111" stroke="#111" stroke-width="0.18">***</text>
<line x1="212.1" y1="342.3" x2="223.9" y2="342.3" stroke="#333" stroke-width="0.75"/>
<text x="218" y="344.67" font-size="9" text-anchor="middle" font-weight="bold" fill="#111" stroke="#111" stroke-width="0.18">**</text>
<line x1="206.2" y1="348.3" x2="218" y2="348.3" stroke="#333" stroke-width="0.75"/>
<text x="212.1" y="350.67" font-size="9" text-anchor="middle" font-weight="bold" fill="#111" stroke="#111" stroke-width="0.18">***</text>
<line x1="212.1" y1="354.2" x2="218" y2="354.2" stroke="#333" stroke-width="0.75"/>
<text x="215.05" y="356.57" font-size="9" text-anchor="middle" font-weight="bold" fill="#111" stroke="#111" stroke-width="0.18">*</text>
<line x1="233.6" y1="331.4" x2="251.3" y2="331.4" stroke="#333" stroke-width="0.75"/>
<text x="242.45" y="333.77" font-size="9" text-anchor="middle" font-weight="bold" fill="#111" stroke="#111" stroke-width="0.18">****</text>
<line x1="239.5" y1="337" x2="251.3" y2="337" stroke="#333" stroke-width="0.75"/>
<text x="245.4" y="339.37" font-size="9" text-anchor="middle" font-weight="bold" fill="#111" stroke="#111" stroke-width="0.18">**</text>
<line x1="233.6" y1="342.3" x2="245.4" y2="342.3" stroke="#333" stroke-width="0.75"/>
<text x="239.5" y="344.67" font-size="9" text-anchor="middle" font-weight="bold" fill="#111" stroke="#111" stroke-width="0.18">*</text>
<line x1="245.4" y1="348.3" x2="251.3" y2="348.3" stroke="#333" stroke-width="0.75"/>
<text x="248.35" y="350.67" font-size="9" text-anchor="middle" font-weight="bold" fill="#111" stroke="#111" stroke-width="0.18">***</text>
<line x1="233.6" y1="354.2" x2="239.5" y2="354.2" stroke="#333" stroke-width="0.75"/>
<text x="236.55" y="356.57" font-size="9" text-anchor="middle" font-weight="bold" fill="#111" stroke="#111" stroke-width="0.18">**</text>
<line x1="260.9" y1="342.3" x2="278.6" y2="342.3" stroke="#333" stroke-width="0.75"/>
<text x="269.75" y="344.67" font-size="9" text-anchor="middle" font-weight="bold" fill="#111" stroke="#111" stroke-width="0.18">****</text>
<line x1="266.8" y1="348.3" x2="278.6" y2="348.3" stroke="#333" stroke-width="0.75"/>
<text x="272.7" y="350.67" font-size="9" text-anchor="middle" font-weight="bold" fill="#111" stroke="#111" stroke-width="0.18">**</text>
<line x1="260.9" y1="354.2" x2="272.7" y2="354.2" stroke="#333" stroke-width="0.75"/>
<text x="266.8" y="356.57" font-size="9" text-anchor="middle" font-weight="bold" fill="#111" stroke="#111" stroke-width="0.18">****</text>
<line x1="288.2" y1="337" x2="305.9" y2="337" stroke="#333" stroke-width="0.75"/>
<text x="297.05" y="339.37" font-size="9" text-anchor="middle" font-weight="bold" fill="#111" stroke="#111" stroke-width="0.18">****</text>
<line x1="294.1" y1="342.3" x2="305.9" y2="342.3" stroke="#333" stroke-width="0.75"/>
<text x="300" y="344.67" font-size="9" text-anchor="middle" font-weight="bold" fill="#111" stroke="#111" stroke-width="0.18">**</text>
<line x1="288.2" y1="348.3" x2="300" y2="348.3" stroke="#333" stroke-width="0.75"/>
<text x="294.1" y="350.67" font-size="9" text-anchor="middle" font-weight="bold" fill="#111" stroke="#111" stroke-width="0.18">**</text>
<line x1="288.2" y1="354.2" x2="294.1" y2="354.2" stroke="#333" stroke-width="0.75"/>
<text x="291.15" y="356.57" font-size="9" text-anchor="middle" font-weight="bold" fill="#111" stroke="#111" stroke-width="0.18">*</text>
<line x1="300" y1="354.2" x2="305.9" y2="354.2" stroke="#333" stroke-width="0.75"/>
<text x="302.95" y="356.57" font-size="9" text-anchor="middle" font-weight="bold" fill="#111" stroke="#111" stroke-width="0.18">**</text>
<text x="178.8" y="389.1" font-size="5.75" text-anchor="middle" fill="#222" transform="rotate(-90 178.8 389.1)" stroke="#222" stroke-width="0.18">CD86 MFI (CD103+ cDC1)</text>
<text x="216.7" y="441.2" font-size="5.8" text-anchor="end" fill="#333" transform="rotate(-45 216.7 441.2)" stroke="#333" stroke-width="0.18">Non direct</text>
<text x="244.1" y="441.2" font-size="5.8" text-anchor="end" fill="#333" transform="rotate(-45 244.1 441.2)" stroke="#333" stroke-width="0.18">Kaede Red+</text>
<text x="271.4" y="441.2" font-size="5.8" text-anchor="end" fill="#333" transform="rotate(-45 271.4 441.2)" stroke="#333" stroke-width="0.18">mCherry+</text>
<text x="273.48" y="463.92" font-size="5.8" text-anchor="start" fill="#333" transform="rotate(-45 273.48 463.92)" stroke="#333" stroke-width="0.18">Kaede Red+</text>
<text x="278.29" y="468.73" font-size="5.8" text-anchor="start" fill="#333" transform="rotate(-45 278.29 468.73)" stroke="#333" stroke-width="0.18">mCherry+</text>
<circle cx="353.43" cy="411.74" r="1.6" fill="none" stroke="#2b2b2b" stroke-width="0.6"/>
<circle cx="353.98" cy="403.26" r="1.6" fill="none" stroke="#2b2b2b" stroke-width="0.6"/>
<circle cx="353.67" cy="408.35" r="1.6" fill="none" stroke="#2b2b2b" stroke-width="0.6"/>
<circle cx="354.09" cy="406.95" r="1.6" fill="none" stroke="#2b2b2b" stroke-width="0.6"/>
<circle cx="354.13" cy="410.57" r="1.6" fill="none" stroke="#2b2b2b" stroke-width="0.6"/>
<circle cx="353.12" cy="406.63" r="1.6" fill="none" stroke="#2b2b2b" stroke-width="0.6"/>
<rect x="351.6" y="407.75" width="4.6" height="1.2" fill="#111"/>
<rect x="357.32" y="405.06" width="3.2" height="3.2" fill="none" stroke="#2b2b2b" stroke-width="0.6"/>
<rect x="358.81" y="396.58" width="3.2" height="3.2" fill="none" stroke="#2b2b2b" stroke-width="0.6"/>
<rect x="357.77" y="403.36" width="3.2" height="3.2" fill="none" stroke="#2b2b2b" stroke-width="0.6"/>
<rect x="357.72" y="403.7" width="3.2" height="3.2" fill="none" stroke="#2b2b2b" stroke-width="0.6"/>
<rect x="359.09" y="404.28" width="3.2" height="3.2" fill="none" stroke="#2b2b2b" stroke-width="0.6"/>
<rect x="358.15" y="403.92" width="3.2" height="3.2" fill="none" stroke="#2b2b2b" stroke-width="0.6"/>
<rect x="357.5" y="404.36" width="4.6" height="1.2" fill="#111"/>
<polygon points="366.31,399.73 364.63,402.95 367.99,402.95" fill="none" stroke="#2b2b2b" stroke-width="0.6"/>
<polygon points="365.66,389.55 363.98,392.77 367.34,392.77" fill="none" stroke="#2b2b2b" stroke-width="0.6"/>
<polygon points="365.95,396.34 364.27,399.56 367.63,399.56" fill="none" stroke="#2b2b2b" stroke-width="0.6"/>
<polygon points="365.07,393.41 363.39,396.63 366.75,396.63" fill="none" stroke="#2b2b2b" stroke-width="0.6"/>
<polygon points="365.94,393.76 364.26,396.98 367.62,396.98" fill="none" stroke="#2b2b2b" stroke-width="0.6"/>
<polygon points="366.36,399.6 364.68,402.82 368.04,402.82" fill="none" stroke="#2b2b2b" stroke-width="0.6"/>
<rect x="363.4" y="397.58" width="4.6" height="1.2" fill="#111"/>
<polygon points="371.64,394.64 373.48,396.48 371.64,398.32 369.8,396.48" fill="none" stroke="#2b2b2b" stroke-width="0.6"/>
<polygon points="372.03,389.55 373.87,391.39 372.03,393.23 370.19,391.39" fill="none" stroke="#2b2b2b" stroke-width="0.6"/>
<polygon points="371.91,392.94 373.75,394.78 371.91,396.62 370.07,394.78" fill="none" stroke="#2b2b2b" stroke-width="0.6"/>
<polygon points="370.82,393 372.66,394.84 370.82,396.68 368.98,394.84" fill="none" stroke="#2b2b2b" stroke-width="0.6"/>
<polygon points="372.06,392.95 373.9,394.79 372.06,396.63 370.22,394.79" fill="none" stroke="#2b2b2b" stroke-width="0.6"/>
<polygon points="371.76,392.24 373.6,394.08 371.76,395.92 369.92,394.08" fill="none" stroke="#2b2b2b" stroke-width="0.6"/>
<rect x="369.3" y="394.18" width="4.6" height="1.2" fill="#111"/>
<circle cx="380.84" cy="408.35" r="1.6" fill="none" stroke="#ee3a3a" stroke-width="0.6"/>
<circle cx="380.36" cy="393.09" r="1.6" fill="none" stroke="#ee3a3a" stroke-width="0.6"/>
<circle cx="381.86" cy="406.66" r="1.6" fill="none" stroke="#ee3a3a" stroke-width="0.6"/>
<circle cx="381.15" cy="404.6" r="1.6" fill="none" stroke="#ee3a3a" stroke-width="0.6"/>
<circle cx="381.59" cy="407.87" r="1.6" fill="none" stroke="#ee3a3a" stroke-width="0.6"/>
<circle cx="381.88" cy="397.24" r="1.6" fill="none" stroke="#ee3a3a" stroke-width="0.6"/>
<circle cx="381.59" cy="398.08" r="1.6" fill="none" stroke="#ee3a3a" stroke-width="0.6"/>
<rect x="378.9" y="406.06" width="4.6" height="1.2" fill="#111"/>
<rect x="386.26" y="399.97" width="3.2" height="3.2" fill="none" stroke="#ee3a3a" stroke-width="0.6"/>
<rect x="385.31" y="381.31" width="3.2" height="3.2" fill="none" stroke="#ee3a3a" stroke-width="0.6"/>
<rect x="386.04" y="395.73" width="3.2" height="3.2" fill="none" stroke="#ee3a3a" stroke-width="0.6"/>
<rect x="385.4" y="392.76" width="3.2" height="3.2" fill="none" stroke="#ee3a3a" stroke-width="0.6"/>
<rect x="386.28" y="398.12" width="3.2" height="3.2" fill="none" stroke="#ee3a3a" stroke-width="0.6"/>
<rect x="386.18" y="393.95" width="3.2" height="3.2" fill="none" stroke="#ee3a3a" stroke-width="0.6"/>
<rect x="384.78" y="389.58" width="3.2" height="3.2" fill="none" stroke="#ee3a3a" stroke-width="0.6"/>
<rect x="384.8" y="396.73" width="4.6" height="1.2" fill="#111"/>
<polygon points="392.34,399.73 390.66,402.95 394.02,402.95" fill="none" stroke="#ee3a3a" stroke-width="0.6"/>
<polygon points="392.49,394.64 390.81,397.86 394.17,397.86" fill="none" stroke="#ee3a3a" stroke-width="0.6"/>
<polygon points="393.84,397.18 392.16,400.4 395.52,400.4" fill="none" stroke="#ee3a3a" stroke-width="0.6"/>
<polygon points="392.89,395.85 391.21,399.07 394.57,399.07" fill="none" stroke="#ee3a3a" stroke-width="0.6"/>
<polygon points="393.23,399.35 391.55,402.57 394.91,402.57" fill="none" stroke="#ee3a3a" stroke-width="0.6"/>
<polygon points="392.64,396.79 390.96,400.01 394.32,400.01" fill="none" stroke="#ee3a3a" stroke-width="0.6"/>
<polygon points="393.01,396.29 391.33,399.51 394.69,399.51" fill="none" stroke="#ee3a3a" stroke-width="0.6"/>
<rect x="390.7" y="398.42" width="4.6" height="1.2" fill="#111"/>
<polygon points="398.69,392.94 400.53,394.78 398.69,396.62 396.85,394.78" fill="none" stroke="#ee3a3a" stroke-width="0.6"/>
<polygon points="398.63,372.59 400.47,374.43 398.63,376.27 396.79,374.43" fill="none" stroke="#ee3a3a" stroke-width="0.6"/>
<polygon points="399.05,378.53 400.89,380.37 399.05,382.21 397.21,380.37" fill="none" stroke="#ee3a3a" stroke-width="0.6"/>
<polygon points="399.05,373.92 400.89,375.76 399.05,377.6 397.21,375.76" fill="none" stroke="#ee3a3a" stroke-width="0.6"/>
<polygon points="399.63,380.37 401.47,382.21 399.63,384.05 397.79,382.21" fill="none" stroke="#ee3a3a" stroke-width="0.6"/>
<polygon points="399.23,390.92 401.07,392.76 399.23,394.6 397.39,392.76" fill="none" stroke="#ee3a3a" stroke-width="0.6"/>
<polygon points="399.67,392.66 401.51,394.5 399.67,396.34 397.83,394.5" fill="none" stroke="#ee3a3a" stroke-width="0.6"/>
<rect x="396.6" y="379.77" width="4.6" height="1.2" fill="#111"/>
<circle cx="409.14" cy="401.57" r="1.6" fill="none" stroke="#5fe0e6" stroke-width="0.6"/>
<circle cx="409.38" cy="364.26" r="1.6" fill="none" stroke="#5fe0e6" stroke-width="0.6"/>
<circle cx="408.81" cy="398.18" r="1.6" fill="none" stroke="#5fe0e6" stroke-width="0.6"/>
<circle cx="407.89" cy="399.43" r="1.6" fill="none" stroke="#5fe0e6" stroke-width="0.6"/>
<circle cx="409.15" cy="400.48" r="1.6" fill="none" stroke="#5fe0e6" stroke-width="0.6"/>
<circle cx="409.34" cy="401.26" r="1.6" fill="none" stroke="#5fe0e6" stroke-width="0.6"/>
<rect x="406.2" y="397.58" width="4.6" height="1.2" fill="#111"/>
<rect x="413.53" y="391.49" width="3.2" height="3.2" fill="none" stroke="#5fe0e6" stroke-width="0.6"/>
<rect x="412.92" y="377.92" width="3.2" height="3.2" fill="none" stroke="#5fe0e6" stroke-width="0.6"/>
<rect x="413.18" y="384.7" width="3.2" height="3.2" fill="none" stroke="#5fe0e6" stroke-width="0.6"/>
<rect x="412.28" y="390.64" width="3.2" height="3.2" fill="none" stroke="#5fe0e6" stroke-width="0.6"/>
<rect x="413.4" y="382.31" width="3.2" height="3.2" fill="none" stroke="#5fe0e6" stroke-width="0.6"/>
<rect x="412.93" y="379.39" width="3.2" height="3.2" fill="none" stroke="#5fe0e6" stroke-width="0.6"/>
<rect x="412.1" y="385.7" width="4.6" height="1.2" fill="#111"/>
<polygon points="419.91,389.55 418.23,392.77 421.59,392.77" fill="none" stroke="#5fe0e6" stroke-width="0.6"/>
<polygon points="419.51,381.07 417.83,384.29 421.19,384.29" fill="none" stroke="#5fe0e6" stroke-width="0.6"/>
<polygon points="420.94,385.31 419.26,388.53 422.62,388.53" fill="none" stroke="#5fe0e6" stroke-width="0.6"/>
<polygon points="421.18,382.55 419.5,385.77 422.86,385.77" fill="none" stroke="#5fe0e6" stroke-width="0.6"/>
<polygon points="419.56,389.28 417.88,392.5 421.24,392.5" fill="none" stroke="#5fe0e6" stroke-width="0.6"/>
<polygon points="420.84,385.35 419.16,388.57 422.52,388.57" fill="none" stroke="#5fe0e6" stroke-width="0.6"/>
<rect x="418" y="386.55" width="4.6" height="1.2" fill="#111"/>
<polygon points="426.04,381.07 427.88,382.91 426.04,384.75 424.2,382.91" fill="none" stroke="#5fe0e6" stroke-width="0.6"/>
<polygon points="425.57,374.29 427.41,376.13 425.57,377.97 423.73,376.13" fill="none" stroke="#5fe0e6" stroke-width="0.6"/>
<polygon points="425.83,377.68 427.67,379.52 425.83,381.36 423.99,379.52" fill="none" stroke="#5fe0e6" stroke-width="0.6"/>
<polygon points="426.68,375.71 428.52,377.55 426.68,379.39 424.84,377.55" fill="none" stroke="#5fe0e6" stroke-width="0.6"/>
<polygon points="426.87,380.03 428.71,381.87 426.87,383.71 425.03,381.87" fill="none" stroke="#5fe0e6" stroke-width="0.6"/>
<polygon points="425.38,375.87 427.22,377.71 425.38,379.55 423.54,377.71" fill="none" stroke="#5fe0e6" stroke-width="0.6"/>
<rect x="423.9" y="378.92" width="4.6" height="1.2" fill="#111"/>
<circle cx="436.01" cy="406.66" r="1.6" fill="none" stroke="#3333dd" stroke-width="0.6"/>
<circle cx="434.98" cy="393.09" r="1.6" fill="none" stroke="#3333dd" stroke-width="0.6"/>
<circle cx="436.19" cy="398.18" r="1.6" fill="none" stroke="#3333dd" stroke-width="0.6"/>
<circle cx="435.5" cy="395.66" r="1.6" fill="none" stroke="#3333dd" stroke-width="0.6"/>
<circle cx="436.49" cy="396.54" r="1.6" fill="none" stroke="#3333dd" stroke-width="0.6"/>
<circle cx="436.67" cy="401.42" r="1.6" fill="none" stroke="#3333dd" stroke-width="0.6"/>
<circle cx="435.81" cy="399.16" r="1.6" fill="none" stroke="#3333dd" stroke-width="0.6"/>
<circle cx="436.7" cy="394.82" r="1.6" fill="none" stroke="#3333dd" stroke-width="0.6"/>
<rect x="433.5" y="397.58" width="4.6" height="1.2" fill="#111"/>
<rect x="439.76" y="396.58" width="3.2" height="3.2" fill="none" stroke="#3333dd" stroke-width="0.6"/>
<rect x="439.34" y="384.7" width="3.2" height="3.2" fill="none" stroke="#3333dd" stroke-width="0.6"/>
<rect x="440.28" y="392.34" width="3.2" height="3.2" fill="none" stroke="#3333dd" stroke-width="0.6"/>
<rect x="439.26" y="390.38" width="3.2" height="3.2" fill="none" stroke="#3333dd" stroke-width="0.6"/>
<rect x="439.56" y="392.89" width="3.2" height="3.2" fill="none" stroke="#3333dd" stroke-width="0.6"/>
<rect x="439.93" y="388.38" width="3.2" height="3.2" fill="none" stroke="#3333dd" stroke-width="0.6"/>
<rect x="440.3" y="392.49" width="3.2" height="3.2" fill="none" stroke="#3333dd" stroke-width="0.6"/>
<rect x="439.48" y="388.78" width="3.2" height="3.2" fill="none" stroke="#3333dd" stroke-width="0.6"/>
<rect x="439.4" y="393.34" width="4.6" height="1.2" fill="#111"/>
<polygon points="446.78,398.03 445.1,401.25 448.46,401.25" fill="none" stroke="#3333dd" stroke-width="0.6"/>
<polygon points="448.26,387.86 446.58,391.08 449.94,391.08" fill="none" stroke="#3333dd" stroke-width="0.6"/>
<polygon points="447.26,392.94 445.58,396.16 448.94,396.16" fill="none" stroke="#3333dd" stroke-width="0.6"/>
<polygon points="448.43,395.34 446.75,398.56 450.11,398.56" fill="none" stroke="#3333dd" stroke-width="0.6"/>
<polygon points="448.31,390.09 446.63,393.31 449.99,393.31" fill="none" stroke="#3333dd" stroke-width="0.6"/>
<polygon points="447.38,398.03 445.7,401.25 449.06,401.25" fill="none" stroke="#3333dd" stroke-width="0.6"/>
<polygon points="447.53,391.96 445.85,395.18 449.21,395.18" fill="none" stroke="#3333dd" stroke-width="0.6"/>
<polygon points="447.64,392.21 445.96,395.43 449.32,395.43" fill="none" stroke="#3333dd" stroke-width="0.6"/>
<rect x="445.3" y="394.18" width="4.6" height="1.2" fill="#111"/>
<polygon points="453.76,389.55 455.6,391.39 453.76,393.23 451.92,391.39" fill="none" stroke="#3333dd" stroke-width="0.6"/>
<polygon points="453.67,370.9 455.51,372.74 453.67,374.58 451.83,372.74" fill="none" stroke="#3333dd" stroke-width="0.6"/>
<polygon points="453.61,382.77 455.45,384.61 453.61,386.45 451.77,384.61" fill="none" stroke="#3333dd" stroke-width="0.6"/>
<polygon points="453.72,379.41 455.56,381.25 453.72,383.09 451.88,381.25" fill="none" stroke="#3333dd" stroke-width="0.6"/>
<polygon points="454.29,381.99 456.13,383.83 454.29,385.67 452.45,383.83" fill="none" stroke="#3333dd" stroke-width="0.6"/>
<polygon points="453.51,379.53 455.35,381.37 453.51,383.21 451.67,381.37" fill="none" stroke="#3333dd" stroke-width="0.6"/>
<polygon points="453.38,383.04 455.22,384.88 453.38,386.72 451.54,384.88" fill="none" stroke="#3333dd" stroke-width="0.6"/>
<polygon points="453.9,384.15 455.74,385.99 453.9,387.83 452.06,385.99" fill="none" stroke="#3333dd" stroke-width="0.6"/>
<rect x="451.2" y="384.01" width="4.6" height="1.2" fill="#111"/>
<line x1="350.5" y1="345.1" x2="350.5" y2="430.9" stroke="#4a4a4a" stroke-width="1"/>
<line x1="350" y1="430.4" x2="456.5" y2="430.4" stroke="#4a4a4a" stroke-width="1"/>
<line x1="346.9" y1="430.4" x2="350.5" y2="430.4" stroke="#4a4a4a" stroke-width="0.9"/>
<text x="345.9" y="432.52" font-size="5.9" text-anchor="end" fill="#333" stroke="#333" stroke-width="0.18">0</text>
<line x1="346.9" y1="413.44" x2="350.5" y2="413.44" stroke="#4a4a4a" stroke-width="0.9"/>
<text x="345.9" y="415.56" font-size="5.9" text-anchor="end" fill="#333" stroke="#333" stroke-width="0.18">1000</text>
<line x1="346.9" y1="396.48" x2="350.5" y2="396.48" stroke="#4a4a4a" stroke-width="0.9"/>
<text x="345.9" y="398.6" font-size="5.9" text-anchor="end" fill="#333" stroke="#333" stroke-width="0.18">2000</text>
<line x1="346.9" y1="379.52" x2="350.5" y2="379.52" stroke="#4a4a4a" stroke-width="0.9"/>
<text x="345.9" y="381.64" font-size="5.9" text-anchor="end" fill="#333" stroke="#333" stroke-width="0.18">3000</text>
<line x1="346.9" y1="362.56" x2="350.5" y2="362.56" stroke="#4a4a4a" stroke-width="0.9"/>
<text x="345.9" y="364.68" font-size="5.9" text-anchor="end" fill="#333" stroke="#333" stroke-width="0.18">4000</text>
<line x1="346.9" y1="345.6" x2="350.5" y2="345.6" stroke="#4a4a4a" stroke-width="0.9"/>
<text x="345.9" y="347.72" font-size="5.9" text-anchor="end" fill="#333" stroke="#333" stroke-width="0.18">5000</text>
<line x1="362.7" y1="430.4" x2="362.7" y2="433.2" stroke="#4a4a4a" stroke-width="0.9"/>
<line x1="390" y1="430.4" x2="390" y2="433.2" stroke="#4a4a4a" stroke-width="0.9"/>
<line x1="417.3" y1="430.4" x2="417.3" y2="433.2" stroke="#4a4a4a" stroke-width="0.9"/>
<line x1="444.6" y1="430.4" x2="444.6" y2="433.2" stroke="#4a4a4a" stroke-width="0.9"/>
<line x1="353.9" y1="347.2" x2="371.6" y2="347.2" stroke="#333" stroke-width="0.75"/>
<text x="362.75" y="349.57" font-size="9" text-anchor="middle" font-weight="bold" fill="#111" stroke="#111" stroke-width="0.18">****</text>
<line x1="359.8" y1="353.1" x2="371.6" y2="353.1" stroke="#333" stroke-width="0.75"/>
<text x="365.7" y="355.47" font-size="9" text-anchor="middle" font-weight="bold" fill="#111" stroke="#111" stroke-width="0.18">*</text>
<line x1="353.9" y1="358.7" x2="365.7" y2="358.7" stroke="#333" stroke-width="0.75"/>
<text x="359.8" y="361.07" font-size="9" text-anchor="middle" font-weight="bold" fill="#111" stroke="#111" stroke-width="0.18">**</text>
<line x1="381.2" y1="347.2" x2="398.9" y2="347.2" stroke="#333" stroke-width="0.75"/>
<text x="390.05" y="349.57" font-size="9" text-anchor="middle" font-weight="bold" fill="#111" stroke="#111" stroke-width="0.18">****</text>
<line x1="387.1" y1="353.1" x2="398.9" y2="353.1" stroke="#333" stroke-width="0.75"/>
<text x="393" y="355.47" font-size="9" text-anchor="middle" font-weight="bold" fill="#111" stroke="#111" stroke-width="0.18">**</text>
<line x1="393" y1="358.7" x2="398.9" y2="358.7" stroke="#333" stroke-width="0.75"/>
<text x="395.95" y="361.07" font-size="9" text-anchor="middle" font-weight="bold" fill="#111" stroke="#111" stroke-width="0.18">****</text>
<line x1="408.5" y1="358.7" x2="426.2" y2="358.7" stroke="#333" stroke-width="0.75"/>
<text x="417.35" y="361.07" font-size="9" text-anchor="middle" font-weight="bold" fill="#111" stroke="#111" stroke-width="0.18">****</text>
<line x1="435.8" y1="347.2" x2="453.5" y2="347.2" stroke="#333" stroke-width="0.75"/>
<text x="444.65" y="349.57" font-size="9" text-anchor="middle" font-weight="bold" fill="#111" stroke="#111" stroke-width="0.18">****</text>
<line x1="441.7" y1="353.1" x2="453.5" y2="353.1" stroke="#333" stroke-width="0.75"/>
<text x="447.6" y="355.47" font-size="9" text-anchor="middle" font-weight="bold" fill="#111" stroke="#111" stroke-width="0.18">*</text>
<line x1="447.6" y1="358.7" x2="453.5" y2="358.7" stroke="#333" stroke-width="0.75"/>
<text x="450.55" y="361.07" font-size="9" text-anchor="middle" font-weight="bold" fill="#111" stroke="#111" stroke-width="0.18">***</text>
<text x="328.2" y="388" font-size="5.75" text-anchor="middle" fill="#222" transform="rotate(-90 328.2 388)" stroke="#222" stroke-width="0.18">CD40 MFI (CD103+ cDC1)</text>
<text x="364.4" y="439.9" font-size="5.8" text-anchor="end" fill="#333" transform="rotate(-45 364.4 439.9)" stroke="#333" stroke-width="0.18">Non direct</text>
<text x="391.7" y="439.9" font-size="5.8" text-anchor="end" fill="#333" transform="rotate(-45 391.7 439.9)" stroke="#333" stroke-width="0.18">Kaede Red+</text>
<text x="419" y="439.9" font-size="5.8" text-anchor="end" fill="#333" transform="rotate(-45 419 439.9)" stroke="#333" stroke-width="0.18">mCherry+</text>
<text x="421.08" y="462.62" font-size="5.8" text-anchor="start" fill="#333" transform="rotate(-45 421.08 462.62)" stroke="#333" stroke-width="0.18">Kaede Red+</text>
<text x="425.89" y="467.43" font-size="5.8" text-anchor="start" fill="#333" transform="rotate(-45 425.89 467.43)" stroke="#333" stroke-width="0.18">mCherry+</text>
<circle cx="507.22" cy="417.1" r="1.6" fill="none" stroke="#2b2b2b" stroke-width="0.6"/>
<circle cx="506.99" cy="409.68" r="1.6" fill="none" stroke="#2b2b2b" stroke-width="0.6"/>
<circle cx="507.51" cy="414.98" r="1.6" fill="none" stroke="#2b2b2b" stroke-width="0.6"/>
<circle cx="507.08" cy="416.56" r="1.6" fill="none" stroke="#2b2b2b" stroke-width="0.6"/>
<circle cx="506.92" cy="412.58" r="1.6" fill="none" stroke="#2b2b2b" stroke-width="0.6"/>
<circle cx="507.52" cy="413.04" r="1.6" fill="none" stroke="#2b2b2b" stroke-width="0.6"/>
<rect x="505.4" y="414.38" width="4.6" height="1.2" fill="#111"/>
<rect x="512.75" y="410.2" width="3.2" height="3.2" fill="none" stroke="#2b2b2b" stroke-width="0.6"/>
<rect x="512.54" y="400.66" width="3.2" height="3.2" fill="none" stroke="#2b2b2b" stroke-width="0.6"/>
<rect x="512.48" y="408.08" width="3.2" height="3.2" fill="none" stroke="#2b2b2b" stroke-width="0.6"/>
<rect x="511.5" y="409.29" width="3.2" height="3.2" fill="none" stroke="#2b2b2b" stroke-width="0.6"/>
<rect x="512.07" y="403.36" width="3.2" height="3.2" fill="none" stroke="#2b2b2b" stroke-width="0.6"/>
<rect x="511.6" y="405.75" width="3.2" height="3.2" fill="none" stroke="#2b2b2b" stroke-width="0.6"/>
<rect x="511.3" y="409.08" width="4.6" height="1.2" fill="#111"/>
<polygon points="518.91,402.54 517.23,405.76 520.59,405.76" fill="none" stroke="#2b2b2b" stroke-width="0.6"/>
<polygon points="518.79,385.58 517.11,388.8 520.47,388.8" fill="none" stroke="#2b2b2b" stroke-width="0.6"/>
<polygon points="518.99,393 517.31,396.22 520.67,396.22" fill="none" stroke="#2b2b2b" stroke-width="0.6"/>
<polygon points="520.27,392.42 518.59,395.64 521.95,395.64" fill="none" stroke="#2b2b2b" stroke-width="0.6"/>
<polygon points="520.09,390.59 518.41,393.81 521.77,393.81" fill="none" stroke="#2b2b2b" stroke-width="0.6"/>
<polygon points="520.05,390.57 518.37,393.79 521.73,393.79" fill="none" stroke="#2b2b2b" stroke-width="0.6"/>
<rect x="517.2" y="394.24" width="4.6" height="1.2" fill="#111"/>
<polygon points="525.94,399.36 527.78,401.2 525.94,403.04 524.1,401.2" fill="none" stroke="#2b2b2b" stroke-width="0.6"/>
<polygon points="524.85,388.76 526.69,390.6 524.85,392.44 523.01,390.6" fill="none" stroke="#2b2b2b" stroke-width="0.6"/>
<polygon points="525.06,391.94 526.9,393.78 525.06,395.62 523.22,393.78" fill="none" stroke="#2b2b2b" stroke-width="0.6"/>
<polygon points="525.63,396.82 527.47,398.66 525.63,400.5 523.79,398.66" fill="none" stroke="#2b2b2b" stroke-width="0.6"/>
<polygon points="525.82,389.66 527.66,391.5 525.82,393.34 523.98,391.5" fill="none" stroke="#2b2b2b" stroke-width="0.6"/>
<polygon points="526.04,390.08 527.88,391.92 526.04,393.76 524.2,391.92" fill="none" stroke="#2b2b2b" stroke-width="0.6"/>
<rect x="523.1" y="393.18" width="4.6" height="1.2" fill="#111"/>
<circle cx="534.98" cy="419.22" r="1.6" fill="none" stroke="#ee3a3a" stroke-width="0.6"/>
<circle cx="533.56" cy="399.08" r="1.6" fill="none" stroke="#ee3a3a" stroke-width="0.6"/>
<circle cx="534.49" cy="404.38" r="1.6" fill="none" stroke="#ee3a3a" stroke-width="0.6"/>
<circle cx="534.61" cy="405.03" r="1.6" fill="none" stroke="#ee3a3a" stroke-width="0.6"/>
<circle cx="534.31" cy="414.35" r="1.6" fill="none" stroke="#ee3a3a" stroke-width="0.6"/>
<circle cx="533.72" cy="401.53" r="1.6" fill="none" stroke="#ee3a3a" stroke-width="0.6"/>
<circle cx="534.25" cy="416.32" r="1.6" fill="none" stroke="#ee3a3a" stroke-width="0.6"/>
<rect x="532" y="403.78" width="4.6" height="1.2" fill="#111"/>
<rect x="537.86" y="401.72" width="3.2" height="3.2" fill="none" stroke="#ee3a3a" stroke-width="0.6"/>
<rect x="539.38" y="390.06" width="3.2" height="3.2" fill="none" stroke="#ee3a3a" stroke-width="0.6"/>
<rect x="539.26" y="396.42" width="3.2" height="3.2" fill="none" stroke="#ee3a3a" stroke-width="0.6"/>
<rect x="538.69" y="399.99" width="3.2" height="3.2" fill="none" stroke="#ee3a3a" stroke-width="0.6"/>
<rect x="538.24" y="395.23" width="3.2" height="3.2" fill="none" stroke="#ee3a3a" stroke-width="0.6"/>
<rect x="539.34" y="394.37" width="3.2" height="3.2" fill="none" stroke="#ee3a3a" stroke-width="0.6"/>
<rect x="538.73" y="401.66" width="3.2" height="3.2" fill="none" stroke="#ee3a3a" stroke-width="0.6"/>
<rect x="537.9" y="397.42" width="4.6" height="1.2" fill="#111"/>
<polygon points="546.79,395.12 545.11,398.34 548.47,398.34" fill="none" stroke="#ee3a3a" stroke-width="0.6"/>
<polygon points="546.73,368.62 545.05,371.84 548.41,371.84" fill="none" stroke="#ee3a3a" stroke-width="0.6"/>
<polygon points="546.12,386.64 544.44,389.86 547.8,389.86" fill="none" stroke="#ee3a3a" stroke-width="0.6"/>
<polygon points="545.95,389.1 544.27,392.32 547.63,392.32" fill="none" stroke="#ee3a3a" stroke-width="0.6"/>
<polygon points="546.28,386.68 544.6,389.9 547.96,389.9" fill="none" stroke="#ee3a3a" stroke-width="0.6"/>
<polygon points="545.98,393.49 544.3,396.71 547.66,396.71" fill="none" stroke="#ee3a3a" stroke-width="0.6"/>
<polygon points="545.49,391.07 543.81,394.29 547.17,394.29" fill="none" stroke="#ee3a3a" stroke-width="0.6"/>
<rect x="543.8" y="387.88" width="4.6" height="1.2" fill="#111"/>
<polygon points="551.65,386.64 553.49,388.48 551.65,390.32 549.81,388.48" fill="none" stroke="#ee3a3a" stroke-width="0.6"/>
<polygon points="552.56,359.08 554.4,360.92 552.56,362.76 550.72,360.92" fill="none" stroke="#ee3a3a" stroke-width="0.6"/>
<polygon points="551.18,376.04 553.02,377.88 551.18,379.72 549.34,377.88" fill="none" stroke="#ee3a3a" stroke-width="0.6"/>
<polygon points="551.18,367.38 553.02,369.22 551.18,371.06 549.34,369.22" fill="none" stroke="#ee3a3a" stroke-width="0.6"/>
<polygon points="552.23,385.78 554.07,387.62 552.23,389.46 550.39,387.62" fill="none" stroke="#ee3a3a" stroke-width="0.6"/>
<polygon points="551.6,372.07 553.44,373.91 551.6,375.75 549.76,373.91" fill="none" stroke="#ee3a3a" stroke-width="0.6"/>
<polygon points="552.06,374.13 553.9,375.97 552.06,377.81 550.22,375.97" fill="none" stroke="#ee3a3a" stroke-width="0.6"/>
<rect x="549.7" y="377.28" width="4.6" height="1.2" fill="#111"/>
<circle cx="560.95" cy="406.5" r="1.6" fill="none" stroke="#5fe0e6" stroke-width="0.6"/>
<circle cx="560.72" cy="392.72" r="1.6" fill="none" stroke="#5fe0e6" stroke-width="0.6"/>
<circle cx="561.9" cy="405.44" r="1.6" fill="none" stroke="#5fe0e6" stroke-width="0.6"/>
<circle cx="560.45" cy="405.67" r="1.6" fill="none" stroke="#5fe0e6" stroke-width="0.6"/>
<circle cx="560.84" cy="406.4" r="1.6" fill="none" stroke="#5fe0e6" stroke-width="0.6"/>
<circle cx="560.46" cy="398.76" r="1.6" fill="none" stroke="#5fe0e6" stroke-width="0.6"/>
<rect x="558.7" y="404.84" width="4.6" height="1.2" fill="#111"/>
<rect x="565.54" y="403.84" width="3.2" height="3.2" fill="none" stroke="#5fe0e6" stroke-width="0.6"/>
<rect x="564.9" y="390.06" width="3.2" height="3.2" fill="none" stroke="#5fe0e6" stroke-width="0.6"/>
<rect x="565.04" y="398.54" width="3.2" height="3.2" fill="none" stroke="#5fe0e6" stroke-width="0.6"/>
<rect x="565.74" y="394.39" width="3.2" height="3.2" fill="none" stroke="#5fe0e6" stroke-width="0.6"/>
<rect x="564.98" y="395.19" width="3.2" height="3.2" fill="none" stroke="#5fe0e6" stroke-width="0.6"/>
<rect x="565.41" y="402.12" width="3.2" height="3.2" fill="none" stroke="#5fe0e6" stroke-width="0.6"/>
<rect x="564.6" y="399.54" width="4.6" height="1.2" fill="#111"/>
<polygon points="573.53,390.88 571.85,394.1 575.21,394.1" fill="none" stroke="#5fe0e6" stroke-width="0.6"/>
<polygon points="572.08,368.62 570.4,371.84 573.76,371.84" fill="none" stroke="#5fe0e6" stroke-width="0.6"/>
<polygon points="572.01,387.7 570.33,390.92 573.69,390.92" fill="none" stroke="#5fe0e6" stroke-width="0.6"/>
<polygon points="572.31,390.86 570.63,394.08 573.99,394.08" fill="none" stroke="#5fe0e6" stroke-width="0.6"/>
<polygon points="573.28,378.49 571.6,381.71 574.96,381.71" fill="none" stroke="#5fe0e6" stroke-width="0.6"/>
<polygon points="573.01,383.08 571.33,386.3 574.69,386.3" fill="none" stroke="#5fe0e6" stroke-width="0.6"/>
<rect x="570.5" y="388.94" width="4.6" height="1.2" fill="#111"/>
<polygon points="578.23,386.64 580.07,388.48 578.23,390.32 576.39,388.48" fill="none" stroke="#5fe0e6" stroke-width="0.6"/>
<polygon points="578.4,370.74 580.24,372.58 578.4,374.42 576.56,372.58" fill="none" stroke="#5fe0e6" stroke-width="0.6"/>
<polygon points="578.12,379.22 579.96,381.06 578.12,382.9 576.28,381.06" fill="none" stroke="#5fe0e6" stroke-width="0.6"/>
<polygon points="578.63,382.63 580.47,384.47 578.63,386.31 576.79,384.47" fill="none" stroke="#5fe0e6" stroke-width="0.6"/>
<polygon points="577.88,372.98 579.72,374.82 577.88,376.66 576.04,374.82" fill="none" stroke="#5fe0e6" stroke-width="0.6"/>
<polygon points="579.06,372.9 580.9,374.74 579.06,376.58 577.22,374.74" fill="none" stroke="#5fe0e6" stroke-width="0.6"/>
<rect x="576.4" y="380.46" width="4.6" height="1.2" fill="#111"/>
<circle cx="589.01" cy="419.22" r="1.6" fill="none" stroke="#3333dd" stroke-width="0.6"/>
<circle cx="589.12" cy="389.54" r="1.6" fill="none" stroke="#3333dd" stroke-width="0.6"/>
<circle cx="588.72" cy="404.38" r="1.6" fill="none" stroke="#3333dd" stroke-width="0.6"/>
<circle cx="589.13" cy="417.18" r="1.6" fill="none" stroke="#3333dd" stroke-width="0.6"/>
<circle cx="587.43" cy="416.06" r="1.6" fill="none" stroke="#3333dd" stroke-width="0.6"/>
<circle cx="587.92" cy="407.08" r="1.6" fill="none" stroke="#3333dd" stroke-width="0.6"/>
<circle cx="589.14" cy="402.14" r="1.6" fill="none" stroke="#3333dd" stroke-width="0.6"/>
<circle cx="588.8" cy="405.74" r="1.6" fill="none" stroke="#3333dd" stroke-width="0.6"/>
<rect x="586" y="403.78" width="4.6" height="1.2" fill="#111"/>
<rect x="592.44" y="403.84" width="3.2" height="3.2" fill="none" stroke="#3333dd" stroke-width="0.6"/>
<rect x="593.4" y="385.82" width="3.2" height="3.2" fill="none" stroke="#3333dd" stroke-width="0.6"/>
<rect x="592.82" y="396.42" width="3.2" height="3.2" fill="none" stroke="#3333dd" stroke-width="0.6"/>
<rect x="593.17" y="389.83" width="3.2" height="3.2" fill="none" stroke="#3333dd" stroke-width="0.6"/>
<rect x="592.23" y="389.75" width="3.2" height="3.2" fill="none" stroke="#3333dd" stroke-width="0.6"/>
<rect x="592.04" y="400.67" width="3.2" height="3.2" fill="none" stroke="#3333dd" stroke-width="0.6"/>
<rect x="592.5" y="399.91" width="3.2" height="3.2" fill="none" stroke="#3333dd" stroke-width="0.6"/>
<rect x="591.95" y="399.81" width="3.2" height="3.2" fill="none" stroke="#3333dd" stroke-width="0.6"/>
<rect x="591.9" y="397.42" width="4.6" height="1.2" fill="#111"/>
<polygon points="599.89,395.12 598.21,398.34 601.57,398.34" fill="none" stroke="#3333dd" stroke-width="0.6"/>
<polygon points="600.93,366.5 599.25,369.72 602.61,369.72" fill="none" stroke="#3333dd" stroke-width="0.6"/>
<polygon points="599.8,390.88 598.12,394.1 601.48,394.1" fill="none" stroke="#3333dd" stroke-width="0.6"/>
<polygon points="599.22,377.93 597.54,381.15 600.9,381.15" fill="none" stroke="#3333dd" stroke-width="0.6"/>
<polygon points="599.28,391.71 597.6,394.93 600.96,394.93" fill="none" stroke="#3333dd" stroke-width="0.6"/>
<polygon points="599.51,392.13 597.83,395.35 601.19,395.35" fill="none" stroke="#3333dd" stroke-width="0.6"/>
<polygon points="600.61,391.73 598.93,394.95 602.29,394.95" fill="none" stroke="#3333dd" stroke-width="0.6"/>
<polygon points="599.85,377.81 598.17,381.03 601.53,381.03" fill="none" stroke="#3333dd" stroke-width="0.6"/>
<rect x="597.8" y="392.12" width="4.6" height="1.2" fill="#111"/>
<polygon points="605.62,385.58 607.46,387.42 605.62,389.26 603.78,387.42" fill="none" stroke="#3333dd" stroke-width="0.6"/>
<polygon points="605.27,366.5 607.11,368.34 605.27,370.18 603.43,368.34" fill="none" stroke="#3333dd" stroke-width="0.6"/>
<polygon points="606.87,377.1 608.71,378.94 606.87,380.78 605.03,378.94" fill="none" stroke="#3333dd" stroke-width="0.6"/>
<polygon points="605.86,381.37 607.7,383.21 605.86,385.05 604.02,383.21" fill="none" stroke="#3333dd" stroke-width="0.6"/>
<polygon points="605.47,380.33 607.31,382.17 605.47,384.01 603.63,382.17" fill="none" stroke="#3333dd" stroke-width="0.6"/>
<polygon points="605.21,369.1 607.05,370.94 605.21,372.78 603.37,370.94" fill="none" stroke="#3333dd" stroke-width="0.6"/>
<polygon points="605.2,376.1 607.04,377.94 605.2,379.78 603.36,377.94" fill="none" stroke="#3333dd" stroke-width="0.6"/>
<polygon points="605.4,383.96 607.24,385.8 605.4,387.64 603.56,385.8" fill="none" stroke="#3333dd" stroke-width="0.6"/>
<rect x="603.7" y="378.34" width="4.6" height="1.2" fill="#111"/>
<line x1="503.9" y1="347.7" x2="503.9" y2="433.5" stroke="#4a4a4a" stroke-width="1"/>
<line x1="503.4" y1="433" x2="609.7" y2="433" stroke="#4a4a4a" stroke-width="1"/>
<line x1="500.3" y1="433" x2="503.9" y2="433" stroke="#4a4a4a" stroke-width="0.9"/>
<text x="499.3" y="435.12" font-size="5.9" text-anchor="end" fill="#333" stroke="#333" stroke-width="0.18">0</text>
<line x1="500.3" y1="411.8" x2="503.9" y2="411.8" stroke="#4a4a4a" stroke-width="0.9"/>
<text x="499.3" y="413.92" font-size="5.9" text-anchor="end" fill="#333" stroke="#333" stroke-width="0.18">2000</text>
<line x1="500.3" y1="390.6" x2="503.9" y2="390.6" stroke="#4a4a4a" stroke-width="0.9"/>
<text x="499.3" y="392.72" font-size="5.9" text-anchor="end" fill="#333" stroke="#333" stroke-width="0.18">4000</text>
<line x1="500.3" y1="369.4" x2="503.9" y2="369.4" stroke="#4a4a4a" stroke-width="0.9"/>
<text x="499.3" y="371.52" font-size="5.9" text-anchor="end" fill="#333" stroke="#333" stroke-width="0.18">6000</text>
<line x1="500.3" y1="348.2" x2="503.9" y2="348.2" stroke="#4a4a4a" stroke-width="0.9"/>
<text x="499.3" y="350.32" font-size="5.9" text-anchor="end" fill="#333" stroke="#333" stroke-width="0.18">8000</text>
<line x1="516.5" y1="433" x2="516.5" y2="435.8" stroke="#4a4a4a" stroke-width="0.9"/>
<line x1="543.1" y1="433" x2="543.1" y2="435.8" stroke="#4a4a4a" stroke-width="0.9"/>
<line x1="569.8" y1="433" x2="569.8" y2="435.8" stroke="#4a4a4a" stroke-width="0.9"/>
<line x1="597.1" y1="433" x2="597.1" y2="435.8" stroke="#4a4a4a" stroke-width="0.9"/>
<line x1="507.7" y1="339.1" x2="525.4" y2="339.1" stroke="#333" stroke-width="0.75"/>
<text x="516.55" y="341.47" font-size="9" text-anchor="middle" font-weight="bold" fill="#111" stroke="#111" stroke-width="0.18">****</text>
<line x1="513.6" y1="345.1" x2="525.4" y2="345.1" stroke="#333" stroke-width="0.75"/>
<text x="519.5" y="347.47" font-size="9" text-anchor="middle" font-weight="bold" fill="#111" stroke="#111" stroke-width="0.18">**</text>
<line x1="507.7" y1="350.7" x2="519.5" y2="350.7" stroke="#333" stroke-width="0.75"/>
<text x="513.6" y="353.07" font-size="9" text-anchor="middle" font-weight="bold" fill="#111" stroke="#111" stroke-width="0.18">****</text>
<line x1="513.6" y1="356.3" x2="519.5" y2="356.3" stroke="#333" stroke-width="0.75"/>
<text x="516.55" y="358.67" font-size="9" text-anchor="middle" font-weight="bold" fill="#111" stroke="#111" stroke-width="0.18">**</text>
<line x1="534.3" y1="332.7" x2="552" y2="332.7" stroke="#333" stroke-width="0.75"/>
<text x="543.15" y="335.07" font-size="9" text-anchor="middle" font-weight="bold" fill="#111" stroke="#111" stroke-width="0.18">****</text>
<line x1="540.2" y1="339.1" x2="552" y2="339.1" stroke="#333" stroke-width="0.75"/>
<text x="546.1" y="341.47" font-size="9" text-anchor="middle" font-weight="bold" fill="#111" stroke="#111" stroke-width="0.18">****</text>
<line x1="534.3" y1="345.1" x2="546.1" y2="345.1" stroke="#333" stroke-width="0.75"/>
<text x="540.2" y="347.47" font-size="9" text-anchor="middle" font-weight="bold" fill="#111" stroke="#111" stroke-width="0.18">****</text>
<line x1="546.1" y1="350.7" x2="552" y2="350.7" stroke="#333" stroke-width="0.75"/>
<text x="549.05" y="353.07" font-size="9" text-anchor="middle" font-weight="bold" fill="#111" stroke="#111" stroke-width="0.18">*</text>
<line x1="540.2" y1="356.3" x2="546.1" y2="356.3" stroke="#333" stroke-width="0.75"/>
<text x="543.15" y="358.67" font-size="9" text-anchor="middle" font-weight="bold" fill="#111" stroke="#111" stroke-width="0.18">*</text>
<line x1="561" y1="339.1" x2="578.7" y2="339.1" stroke="#333" stroke-width="0.75"/>
<text x="569.85" y="341.47" font-size="9" text-anchor="middle" font-weight="bold" fill="#111" stroke="#111" stroke-width="0.18">****</text>
<line x1="566.9" y1="345.1" x2="578.7" y2="345.1" stroke="#333" stroke-width="0.75"/>
<text x="572.8" y="347.47" font-size="9" text-anchor="middle" font-weight="bold" fill="#111" stroke="#111" stroke-width="0.18">****</text>
<line x1="561" y1="350.7" x2="572.8" y2="350.7" stroke="#333" stroke-width="0.75"/>
<text x="566.9" y="353.07" font-size="9" text-anchor="middle" font-weight="bold" fill="#111" stroke="#111" stroke-width="0.18">****</text>
<line x1="566.9" y1="356.3" x2="572.8" y2="356.3" stroke="#333" stroke-width="0.75"/>
<text x="569.85" y="358.67" font-size="9" text-anchor="middle" font-weight="bold" fill="#111" stroke="#111" stroke-width="0.18">**</text>
<line x1="588.3" y1="339.1" x2="606" y2="339.1" stroke="#333" stroke-width="0.75"/>
<text x="597.15" y="341.47" font-size="9" text-anchor="middle" font-weight="bold" fill="#111" stroke="#111" stroke-width="0.18">****</text>
<line x1="594.2" y1="345.1" x2="606" y2="345.1" stroke="#333" stroke-width="0.75"/>
<text x="600.1" y="347.47" font-size="9" text-anchor="middle" font-weight="bold" fill="#111" stroke="#111" stroke-width="0.18">****</text>
<line x1="588.3" y1="350.7" x2="600.1" y2="350.7" stroke="#333" stroke-width="0.75"/>
<text x="594.2" y="353.07" font-size="9" text-anchor="middle" font-weight="bold" fill="#111" stroke="#111" stroke-width="0.18">***</text>
<line x1="600.1" y1="356.3" x2="606" y2="356.3" stroke="#333" stroke-width="0.75"/>
<text x="603.05" y="358.67" font-size="9" text-anchor="middle" font-weight="bold" fill="#111" stroke="#111" stroke-width="0.18">**</text>
<text x="482" y="390.6" font-size="5.75" text-anchor="middle" fill="#222" transform="rotate(-90 482 390.6)" stroke="#222" stroke-width="0.18">PD-L1 MFI (CD103+ cDC1)</text>
<text x="518.2" y="442.5" font-size="5.8" text-anchor="end" fill="#333" transform="rotate(-45 518.2 442.5)" stroke="#333" stroke-width="0.18">Non direct</text>
<text x="544.8" y="442.5" font-size="5.8" text-anchor="end" fill="#333" transform="rotate(-45 544.8 442.5)" stroke="#333" stroke-width="0.18">Kaede Red+</text>
<text x="571.5" y="442.5" font-size="5.8" text-anchor="end" fill="#333" transform="rotate(-45 571.5 442.5)" stroke="#333" stroke-width="0.18">mCherry+</text>
<text x="573.58" y="465.22" font-size="5.8" text-anchor="start" fill="#333" transform="rotate(-45 573.58 465.22)" stroke="#333" stroke-width="0.18">Kaede Red+</text>
<text x="578.39" y="470.03" font-size="5.8" text-anchor="start" fill="#333" transform="rotate(-45 578.39 470.03)" stroke="#333" stroke-width="0.18">mCherry+</text>
<circle cx="621.6" cy="371.8" r="1.8" fill="none" stroke="#222" stroke-width="0.7"/>
<text x="631.6" y="373.92" font-size="5.9" text-anchor="start" fill="#222" stroke="#222" stroke-width="0.18">PBS/vehicle</text>
<rect x="619.8" y="380.3" width="3.6" height="3.6" fill="none" stroke="#222" stroke-width="0.7"/>
<text x="631.6" y="384.22" font-size="5.9" text-anchor="start" fill="#222" stroke="#222" stroke-width="0.18">PBS/pal</text>
<polygon points="621.6,390.13 619.71,393.75 623.49,393.75" fill="none" stroke="#222" stroke-width="0.7"/>
<text x="631.6" y="394.32" font-size="5.9" text-anchor="start" fill="#222" stroke="#222" stroke-width="0.18">Rt3D/vehicle</text>
<polygon points="621.6,400.13 623.67,402.2 621.6,404.27 619.53,402.2" fill="none" stroke="#222" stroke-width="0.7"/>
<text x="631.6" y="404.32" font-size="5.9" text-anchor="start" fill="#222" stroke="#222" stroke-width="0.18">Rt3D/pal</text>
<circle cx="55.92" cy="547.1" r="1.6" fill="none" stroke="#2b2b2b" stroke-width="0.6"/>
<circle cx="56.14" cy="519.44" r="1.6" fill="none" stroke="#2b2b2b" stroke-width="0.6"/>
<circle cx="56.23" cy="526.89" r="1.6" fill="none" stroke="#2b2b2b" stroke-width="0.6"/>
<circle cx="56.5" cy="521.23" r="1.6" fill="none" stroke="#2b2b2b" stroke-width="0.6"/>
<circle cx="56.13" cy="525.36" r="1.6" fill="none" stroke="#2b2b2b" stroke-width="0.6"/>
<circle cx="56.46" cy="524.65" r="1.6" fill="none" stroke="#2b2b2b" stroke-width="0.6"/>
<rect x="53.4" y="526.29" width="4.6" height="1.2" fill="#111"/>
<rect x="59.15" y="536.99" width="3.2" height="3.2" fill="none" stroke="#2b2b2b" stroke-width="0.6"/>
<rect x="59.94" y="526.35" width="3.2" height="3.2" fill="none" stroke="#2b2b2b" stroke-width="0.6"/>
<rect x="60.8" y="532.73" width="3.2" height="3.2" fill="none" stroke="#2b2b2b" stroke-width="0.6"/>
<rect x="60.27" y="529.52" width="3.2" height="3.2" fill="none" stroke="#2b2b2b" stroke-width="0.6"/>
<rect x="60.72" y="533.55" width="3.2" height="3.2" fill="none" stroke="#2b2b2b" stroke-width="0.6"/>
<rect x="59.3" y="535.44" width="3.2" height="3.2" fill="none" stroke="#2b2b2b" stroke-width="0.6"/>
<rect x="59.3" y="533.73" width="4.6" height="1.2" fill="#111"/>
<polygon points="67.44,536.75 65.76,539.97 69.12,539.97" fill="none" stroke="#2b2b2b" stroke-width="0.6"/>
<polygon points="67.04,496.32 65.36,499.54 68.72,499.54" fill="none" stroke="#2b2b2b" stroke-width="0.6"/>
<polygon points="67.58,519.73 65.9,522.95 69.26,522.95" fill="none" stroke="#2b2b2b" stroke-width="0.6"/>
<polygon points="67.63,516.57 65.95,519.79 69.31,519.79" fill="none" stroke="#2b2b2b" stroke-width="0.6"/>
<polygon points="66.62,523.01 64.94,526.23 68.3,526.23" fill="none" stroke="#2b2b2b" stroke-width="0.6"/>
<polygon points="66.99,516.55 65.31,519.77 68.67,519.77" fill="none" stroke="#2b2b2b" stroke-width="0.6"/>
<rect x="65.2" y="520.97" width="4.6" height="1.2" fill="#111"/>
<polygon points="73,528.24 74.84,530.08 73,531.92 71.16,530.08" fill="none" stroke="#2b2b2b" stroke-width="0.6"/>
<polygon points="74.15,519.73 75.99,521.57 74.15,523.41 72.31,521.57" fill="none" stroke="#2b2b2b" stroke-width="0.6"/>
<polygon points="73.88,521.85 75.72,523.69 73.88,525.53 72.04,523.69" fill="none" stroke="#2b2b2b" stroke-width="0.6"/>
<polygon points="72.79,525.98 74.63,527.82 72.79,529.66 70.95,527.82" fill="none" stroke="#2b2b2b" stroke-width="0.6"/>
<polygon points="73.93,526.25 75.77,528.09 73.93,529.93 72.09,528.09" fill="none" stroke="#2b2b2b" stroke-width="0.6"/>
<polygon points="72.75,521.82 74.59,523.66 72.75,525.5 70.91,523.66" fill="none" stroke="#2b2b2b" stroke-width="0.6"/>
<rect x="71.1" y="523.09" width="4.6" height="1.2" fill="#111"/>
<circle cx="83.21" cy="559.86" r="1.6" fill="none" stroke="#ee3a3a" stroke-width="0.6"/>
<circle cx="82.33" cy="529.01" r="1.6" fill="none" stroke="#ee3a3a" stroke-width="0.6"/>
<circle cx="82.1" cy="549.23" r="1.6" fill="none" stroke="#ee3a3a" stroke-width="0.6"/>
<circle cx="83.67" cy="540.31" r="1.6" fill="none" stroke="#ee3a3a" stroke-width="0.6"/>
<circle cx="82.48" cy="542.64" r="1.6" fill="none" stroke="#ee3a3a" stroke-width="0.6"/>
<circle cx="82.49" cy="546.71" r="1.6" fill="none" stroke="#ee3a3a" stroke-width="0.6"/>
<circle cx="83.87" cy="534.67" r="1.6" fill="none" stroke="#ee3a3a" stroke-width="0.6"/>
<rect x="80.7" y="548.62" width="4.6" height="1.2" fill="#111"/>
<rect x="87.97" y="551.88" width="3.2" height="3.2" fill="none" stroke="#ee3a3a" stroke-width="0.6"/>
<rect x="86.92" y="543.37" width="3.2" height="3.2" fill="none" stroke="#ee3a3a" stroke-width="0.6"/>
<rect x="88.13" y="549.75" width="3.2" height="3.2" fill="none" stroke="#ee3a3a" stroke-width="0.6"/>
<rect x="87.37" y="551.62" width="3.2" height="3.2" fill="none" stroke="#ee3a3a" stroke-width="0.6"/>
<rect x="87.62" y="550.3" width="3.2" height="3.2" fill="none" stroke="#ee3a3a" stroke-width="0.6"/>
<rect x="86.77" y="551.29" width="3.2" height="3.2" fill="none" stroke="#ee3a3a" stroke-width="0.6"/>
<rect x="88.09" y="549.09" width="3.2" height="3.2" fill="none" stroke="#ee3a3a" stroke-width="0.6"/>
<rect x="86.6" y="550.75" width="4.6" height="1.2" fill="#111"/>
<polygon points="95.14,549.51 93.46,552.73 96.82,552.73" fill="none" stroke="#ee3a3a" stroke-width="0.6"/>
<polygon points="95.64,513.34 93.96,516.56 97.32,516.56" fill="none" stroke="#ee3a3a" stroke-width="0.6"/>
<polygon points="95.51,542.07 93.83,545.29 97.19,545.29" fill="none" stroke="#ee3a3a" stroke-width="0.6"/>
<polygon points="94.44,546.24 92.76,549.46 96.12,549.46" fill="none" stroke="#ee3a3a" stroke-width="0.6"/>
<polygon points="94.55,546.44 92.87,549.66 96.23,549.66" fill="none" stroke="#ee3a3a" stroke-width="0.6"/>
<polygon points="94.2,532.75 92.52,535.97 95.88,535.97" fill="none" stroke="#ee3a3a" stroke-width="0.6"/>
<polygon points="94.16,547.72 92.48,550.94 95.84,550.94" fill="none" stroke="#ee3a3a" stroke-width="0.6"/>
<rect x="92.5" y="543.31" width="4.6" height="1.2" fill="#111"/>
<polygon points="99.92,545.26 101.76,547.1 99.92,548.94 98.08,547.1" fill="none" stroke="#ee3a3a" stroke-width="0.6"/>
<polygon points="100.34,532.49 102.18,534.33 100.34,536.17 98.5,534.33" fill="none" stroke="#ee3a3a" stroke-width="0.6"/>
<polygon points="100.89,542.07 102.73,543.91 100.89,545.75 99.05,543.91" fill="none" stroke="#ee3a3a" stroke-width="0.6"/>
<polygon points="99.81,544.84 101.65,546.68 99.81,548.52 97.97,546.68" fill="none" stroke="#ee3a3a" stroke-width="0.6"/>
<polygon points="101.02,536.97 102.86,538.81 101.02,540.65 99.18,538.81" fill="none" stroke="#ee3a3a" stroke-width="0.6"/>
<polygon points="100.41,539.87 102.25,541.71 100.41,543.55 98.57,541.71" fill="none" stroke="#ee3a3a" stroke-width="0.6"/>
<polygon points="100.36,542.06 102.2,543.9 100.36,545.74 98.52,543.9" fill="none" stroke="#ee3a3a" stroke-width="0.6"/>
<rect x="98.4" y="543.31" width="4.6" height="1.2" fill="#111"/>
<circle cx="110.37" cy="564.12" r="1.6" fill="none" stroke="#5fe0e6" stroke-width="0.6"/>
<circle cx="109.77" cy="496.04" r="1.6" fill="none" stroke="#5fe0e6" stroke-width="0.6"/>
<circle cx="109.47" cy="542.84" r="1.6" fill="none" stroke="#5fe0e6" stroke-width="0.6"/>
<circle cx="109.77" cy="540.58" r="1.6" fill="none" stroke="#5fe0e6" stroke-width="0.6"/>
<circle cx="110.17" cy="527.76" r="1.6" fill="none" stroke="#5fe0e6" stroke-width="0.6"/>
<circle cx="109" cy="554.86" r="1.6" fill="none" stroke="#5fe0e6" stroke-width="0.6"/>
<circle cx="110.66" cy="509.67" r="1.6" fill="none" stroke="#5fe0e6" stroke-width="0.6"/>
<rect x="107.5" y="542.24" width="4.6" height="1.2" fill="#111"/>
<rect x="113.24" y="562.52" width="3.2" height="3.2" fill="none" stroke="#5fe0e6" stroke-width="0.6"/>
<rect x="114.55" y="530.61" width="3.2" height="3.2" fill="none" stroke="#5fe0e6" stroke-width="0.6"/>
<rect x="114.72" y="554.01" width="3.2" height="3.2" fill="none" stroke="#5fe0e6" stroke-width="0.6"/>
<rect x="113.23" y="555.21" width="3.2" height="3.2" fill="none" stroke="#5fe0e6" stroke-width="0.6"/>
<rect x="114.62" y="555.75" width="3.2" height="3.2" fill="none" stroke="#5fe0e6" stroke-width="0.6"/>
<rect x="113.86" y="535.67" width="3.2" height="3.2" fill="none" stroke="#5fe0e6" stroke-width="0.6"/>
<rect x="114.24" y="537.76" width="3.2" height="3.2" fill="none" stroke="#5fe0e6" stroke-width="0.6"/>
<rect x="113.4" y="555.01" width="4.6" height="1.2" fill="#111"/>
<polygon points="120.72,549.51 119.04,552.73 122.4,552.73" fill="none" stroke="#5fe0e6" stroke-width="0.6"/>
<polygon points="120.78,517.6 119.1,520.82 122.46,520.82" fill="none" stroke="#5fe0e6" stroke-width="0.6"/>
<polygon points="121.03,542.07 119.35,545.29 122.71,545.29" fill="none" stroke="#5fe0e6" stroke-width="0.6"/>
<polygon points="122.42,546.64 120.74,549.86 124.1,549.86" fill="none" stroke="#5fe0e6" stroke-width="0.6"/>
<polygon points="121.05,530.12 119.37,533.34 122.73,533.34" fill="none" stroke="#5fe0e6" stroke-width="0.6"/>
<polygon points="122.06,544.07 120.38,547.29 123.74,547.29" fill="none" stroke="#5fe0e6" stroke-width="0.6"/>
<polygon points="122.37,525.07 120.69,528.29 124.05,528.29" fill="none" stroke="#5fe0e6" stroke-width="0.6"/>
<rect x="119.3" y="543.31" width="4.6" height="1.2" fill="#111"/>
<polygon points="128.3,545.26 130.14,547.1 128.3,548.94 126.46,547.1" fill="none" stroke="#5fe0e6" stroke-width="0.6"/>
<polygon points="127.22,519.73 129.06,521.57 127.22,523.41 125.38,521.57" fill="none" stroke="#5fe0e6" stroke-width="0.6"/>
<polygon points="127.24,537.81 129.08,539.65 127.24,541.49 125.4,539.65" fill="none" stroke="#5fe0e6" stroke-width="0.6"/>
<polygon points="127.54,527.95 129.38,529.79 127.54,531.63 125.7,529.79" fill="none" stroke="#5fe0e6" stroke-width="0.6"/>
<polygon points="128,541.35 129.84,543.19 128,545.03 126.16,543.19" fill="none" stroke="#5fe0e6" stroke-width="0.6"/>
<polygon points="126.79,543.98 128.63,545.82 126.79,547.66 124.95,545.82" fill="none" stroke="#5fe0e6" stroke-width="0.6"/>
<polygon points="127.95,529.5 129.79,531.34 127.95,533.18 126.11,531.34" fill="none" stroke="#5fe0e6" stroke-width="0.6"/>
<rect x="125.2" y="539.05" width="4.6" height="1.2" fill="#111"/>
<circle cx="137.64" cy="559.86" r="1.6" fill="none" stroke="#3333dd" stroke-width="0.6"/>
<circle cx="137.75" cy="516.25" r="1.6" fill="none" stroke="#3333dd" stroke-width="0.6"/>
<circle cx="136.27" cy="550.29" r="1.6" fill="none" stroke="#3333dd" stroke-width="0.6"/>
<circle cx="137.9" cy="547.41" r="1.6" fill="none" stroke="#3333dd" stroke-width="0.6"/>
<circle cx="136.36" cy="527.56" r="1.6" fill="none" stroke="#3333dd" stroke-width="0.6"/>
<circle cx="136.81" cy="536.96" r="1.6" fill="none" stroke="#3333dd" stroke-width="0.6"/>
<circle cx="137.3" cy="539.69" r="1.6" fill="none" stroke="#3333dd" stroke-width="0.6"/>
<circle cx="137.85" cy="553.78" r="1.6" fill="none" stroke="#3333dd" stroke-width="0.6"/>
<rect x="134.8" y="549.69" width="4.6" height="1.2" fill="#111"/>
<rect x="141.11" y="556.13" width="3.2" height="3.2" fill="none" stroke="#3333dd" stroke-width="0.6"/>
<rect x="142.16" y="549.75" width="3.2" height="3.2" fill="none" stroke="#3333dd" stroke-width="0.6"/>
<rect x="141.48" y="551.88" width="3.2" height="3.2" fill="none" stroke="#3333dd" stroke-width="0.6"/>
<rect x="141.06" y="550.72" width="3.2" height="3.2" fill="none" stroke="#3333dd" stroke-width="0.6"/>
<rect x="141.07" y="551.13" width="3.2" height="3.2" fill="none" stroke="#3333dd" stroke-width="0.6"/>
<rect x="140.82" y="553.86" width="3.2" height="3.2" fill="none" stroke="#3333dd" stroke-width="0.6"/>
<rect x="140.64" y="551.8" width="3.2" height="3.2" fill="none" stroke="#3333dd" stroke-width="0.6"/>
<rect x="140.77" y="555.12" width="3.2" height="3.2" fill="none" stroke="#3333dd" stroke-width="0.6"/>
<rect x="140.7" y="552.88" width="4.6" height="1.2" fill="#111"/>
<polygon points="149.24,551.64 147.56,554.86 150.92,554.86" fill="none" stroke="#3333dd" stroke-width="0.6"/>
<polygon points="149.79,530.37 148.11,533.59 151.47,533.59" fill="none" stroke="#3333dd" stroke-width="0.6"/>
<polygon points="148.29,546.32 146.61,549.54 149.97,549.54" fill="none" stroke="#3333dd" stroke-width="0.6"/>
<polygon points="148.09,548.35 146.41,551.57 149.77,551.57" fill="none" stroke="#3333dd" stroke-width="0.6"/>
<polygon points="149.78,549.04 148.1,552.26 151.46,552.26" fill="none" stroke="#3333dd" stroke-width="0.6"/>
<polygon points="148.96,534.67 147.28,537.89 150.64,537.89" fill="none" stroke="#3333dd" stroke-width="0.6"/>
<polygon points="148.73,544.55 147.05,547.77 150.41,547.77" fill="none" stroke="#3333dd" stroke-width="0.6"/>
<polygon points="148.43,535.65 146.75,538.87 150.11,538.87" fill="none" stroke="#3333dd" stroke-width="0.6"/>
<rect x="146.6" y="547.56" width="4.6" height="1.2" fill="#111"/>
<polygon points="154.97,549.51 156.81,551.35 154.97,553.19 153.13,551.35" fill="none" stroke="#3333dd" stroke-width="0.6"/>
<polygon points="155.39,516.54 157.23,518.38 155.39,520.22 153.55,518.38" fill="none" stroke="#3333dd" stroke-width="0.6"/>
<polygon points="154.72,539.94 156.56,541.78 154.72,543.62 152.88,541.78" fill="none" stroke="#3333dd" stroke-width="0.6"/>
<polygon points="154.66,542.9 156.5,544.74 154.66,546.58 152.82,544.74" fill="none" stroke="#3333dd" stroke-width="0.6"/>
<polygon points="154,545.57 155.84,547.41 154,549.25 152.16,547.41" fill="none" stroke="#3333dd" stroke-width="0.6"/>
<polygon points="155.55,546.1 157.39,547.94 155.55,549.78 153.71,547.94" fill="none" stroke="#3333dd" stroke-width="0.6"/>
<polygon points="153.96,545.86 155.8,547.7 153.96,549.54 152.12,547.7" fill="none" stroke="#3333dd" stroke-width="0.6"/>
<polygon points="154.79,522.12 156.63,523.96 154.79,525.8 152.95,523.96" fill="none" stroke="#3333dd" stroke-width="0.6"/>
<rect x="152.5" y="541.18" width="4.6" height="1.2" fill="#111"/>
<line x1="52.1" y1="484.9" x2="52.1" y2="571" stroke="#4a4a4a" stroke-width="1"/>
<line x1="51.6" y1="570.5" x2="158.3" y2="570.5" stroke="#4a4a4a" stroke-width="1"/>
<line x1="48.5" y1="570.5" x2="52.1" y2="570.5" stroke="#4a4a4a" stroke-width="0.9"/>
<text x="47.5" y="572.62" font-size="5.9" text-anchor="end" fill="#333" stroke="#333" stroke-width="0.18">0</text>
<line x1="48.5" y1="549.23" x2="52.1" y2="549.23" stroke="#4a4a4a" stroke-width="0.9"/>
<text x="47.5" y="551.35" font-size="5.9" text-anchor="end" fill="#333" stroke="#333" stroke-width="0.18">1000</text>
<line x1="48.5" y1="527.95" x2="52.1" y2="527.95" stroke="#4a4a4a" stroke-width="0.9"/>
<text x="47.5" y="530.07" font-size="5.9" text-anchor="end" fill="#333" stroke="#333" stroke-width="0.18">2000</text>
<line x1="48.5" y1="506.67" x2="52.1" y2="506.67" stroke="#4a4a4a" stroke-width="0.9"/>
<text x="47.5" y="508.8" font-size="5.9" text-anchor="end" fill="#333" stroke="#333" stroke-width="0.18">3000</text>
<line x1="48.5" y1="485.4" x2="52.1" y2="485.4" stroke="#4a4a4a" stroke-width="0.9"/>
<text x="47.5" y="487.52" font-size="5.9" text-anchor="end" fill="#333" stroke="#333" stroke-width="0.18">4000</text>
<line x1="64.5" y1="570.5" x2="64.5" y2="573.3" stroke="#4a4a4a" stroke-width="0.9"/>
<line x1="91.8" y1="570.5" x2="91.8" y2="573.3" stroke="#4a4a4a" stroke-width="0.9"/>
<line x1="118.6" y1="570.5" x2="118.6" y2="573.3" stroke="#4a4a4a" stroke-width="0.9"/>
<line x1="145.9" y1="570.5" x2="145.9" y2="573.3" stroke="#4a4a4a" stroke-width="0.9"/>
<text x="29.6" y="527.95" font-size="5.75" text-anchor="middle" fill="#222" transform="rotate(-90 29.6 527.95)" stroke="#222" stroke-width="0.18">CD80 MFI (CD11b+ cDC2)</text>
<text x="66.2" y="580" font-size="5.8" text-anchor="end" fill="#333" transform="rotate(-45 66.2 580)" stroke="#333" stroke-width="0.18">Non direct</text>
<text x="93.5" y="580" font-size="5.8" text-anchor="end" fill="#333" transform="rotate(-45 93.5 580)" stroke="#333" stroke-width="0.18">Kaede Red+</text>
<text x="120.3" y="580" font-size="5.8" text-anchor="end" fill="#333" transform="rotate(-45 120.3 580)" stroke="#333" stroke-width="0.18">mCherry+</text>
<text x="122.38" y="602.72" font-size="5.8" text-anchor="start" fill="#333" transform="rotate(-45 122.38 602.72)" stroke="#333" stroke-width="0.18">Kaede Red+</text>
<text x="127.19" y="607.53" font-size="5.8" text-anchor="start" fill="#333" transform="rotate(-45 127.19 607.53)" stroke="#333" stroke-width="0.18">mCherry+</text>
<circle cx="206.83" cy="557.45" r="1.6" fill="none" stroke="#2b2b2b" stroke-width="0.6"/>
<circle cx="206.88" cy="551.78" r="1.6" fill="none" stroke="#2b2b2b" stroke-width="0.6"/>
<circle cx="206.27" cy="554.05" r="1.6" fill="none" stroke="#2b2b2b" stroke-width="0.6"/>
<circle cx="205.87" cy="553.42" r="1.6" fill="none" stroke="#2b2b2b" stroke-width="0.6"/>
<circle cx="205.4" cy="554.19" r="1.6" fill="none" stroke="#2b2b2b" stroke-width="0.6"/>
<circle cx="206.59" cy="553.34" r="1.6" fill="none" stroke="#2b2b2b" stroke-width="0.6"/>
<rect x="204" y="553.45" width="4.6" height="1.2" fill="#111"/>
<rect x="210.55" y="558.69" width="3.2" height="3.2" fill="none" stroke="#2b2b2b" stroke-width="0.6"/>
<rect x="211.07" y="547.91" width="3.2" height="3.2" fill="none" stroke="#2b2b2b" stroke-width="0.6"/>
<rect x="210.37" y="552.45" width="3.2" height="3.2" fill="none" stroke="#2b2b2b" stroke-width="0.6"/>
<rect x="211.09" y="555.15" width="3.2" height="3.2" fill="none" stroke="#2b2b2b" stroke-width="0.6"/>
<rect x="210.19" y="552.05" width="3.2" height="3.2" fill="none" stroke="#2b2b2b" stroke-width="0.6"/>
<rect x="211.14" y="550.64" width="3.2" height="3.2" fill="none" stroke="#2b2b2b" stroke-width="0.6"/>
<rect x="209.9" y="553.45" width="4.6" height="1.2" fill="#111"/>
<polygon points="218.51,547.1 216.83,550.32 220.19,550.32" fill="none" stroke="#2b2b2b" stroke-width="0.6"/>
<polygon points="217.95,536.32 216.27,539.54 219.63,539.54" fill="none" stroke="#2b2b2b" stroke-width="0.6"/>
<polygon points="218.17,543.13 216.49,546.35 219.85,546.35" fill="none" stroke="#2b2b2b" stroke-width="0.6"/>
<polygon points="218.43,545.77 216.75,548.99 220.11,548.99" fill="none" stroke="#2b2b2b" stroke-width="0.6"/>
<polygon points="217.55,540.61 215.87,543.83 219.23,543.83" fill="none" stroke="#2b2b2b" stroke-width="0.6"/>
<polygon points="218.2,541.06 216.52,544.28 219.88,544.28" fill="none" stroke="#2b2b2b" stroke-width="0.6"/>
<rect x="215.8" y="544.37" width="4.6" height="1.2" fill="#111"/>
<polygon points="224.55,541.43 226.39,543.27 224.55,545.11 222.71,543.27" fill="none" stroke="#2b2b2b" stroke-width="0.6"/>
<polygon points="223.58,535.75 225.42,537.59 223.58,539.43 221.74,537.59" fill="none" stroke="#2b2b2b" stroke-width="0.6"/>
<polygon points="224.55,539.73 226.39,541.57 224.55,543.41 222.71,541.57" fill="none" stroke="#2b2b2b" stroke-width="0.6"/>
<polygon points="224.33,540.46 226.17,542.3 224.33,544.14 222.49,542.3" fill="none" stroke="#2b2b2b" stroke-width="0.6"/>
<polygon points="224.62,540.44 226.46,542.28 224.62,544.12 222.78,542.28" fill="none" stroke="#2b2b2b" stroke-width="0.6"/>
<polygon points="223.7,539.57 225.54,541.41 223.7,543.25 221.86,541.41" fill="none" stroke="#2b2b2b" stroke-width="0.6"/>
<rect x="221.7" y="540.97" width="4.6" height="1.2" fill="#111"/>
<circle cx="232.87" cy="558.59" r="1.6" fill="none" stroke="#ee3a3a" stroke-width="0.6"/>
<circle cx="234.14" cy="542.13" r="1.6" fill="none" stroke="#ee3a3a" stroke-width="0.6"/>
<circle cx="234.15" cy="554.61" r="1.6" fill="none" stroke="#ee3a3a" stroke-width="0.6"/>
<circle cx="233.5" cy="557.37" r="1.6" fill="none" stroke="#ee3a3a" stroke-width="0.6"/>
<circle cx="232.87" cy="551.02" r="1.6" fill="none" stroke="#ee3a3a" stroke-width="0.6"/>
<circle cx="233.05" cy="554.69" r="1.6" fill="none" stroke="#ee3a3a" stroke-width="0.6"/>
<circle cx="233.84" cy="546.06" r="1.6" fill="none" stroke="#ee3a3a" stroke-width="0.6"/>
<rect x="231.3" y="554.01" width="4.6" height="1.2" fill="#111"/>
<rect x="237.52" y="547.91" width="3.2" height="3.2" fill="none" stroke="#ee3a3a" stroke-width="0.6"/>
<rect x="238.71" y="538.26" width="3.2" height="3.2" fill="none" stroke="#ee3a3a" stroke-width="0.6"/>
<rect x="238.06" y="541.1" width="3.2" height="3.2" fill="none" stroke="#ee3a3a" stroke-width="0.6"/>
<rect x="237.36" y="538.91" width="3.2" height="3.2" fill="none" stroke="#ee3a3a" stroke-width="0.6"/>
<rect x="238.18" y="538.94" width="3.2" height="3.2" fill="none" stroke="#ee3a3a" stroke-width="0.6"/>
<rect x="237.65" y="547.64" width="3.2" height="3.2" fill="none" stroke="#ee3a3a" stroke-width="0.6"/>
<rect x="238.68" y="544.58" width="3.2" height="3.2" fill="none" stroke="#ee3a3a" stroke-width="0.6"/>
<rect x="237.2" y="542.1" width="4.6" height="1.2" fill="#111"/>
<polygon points="246.14,550.51 244.46,553.73 247.82,553.73" fill="none" stroke="#ee3a3a" stroke-width="0.6"/>
<polygon points="245.43,535.75 243.75,538.97 247.11,538.97" fill="none" stroke="#ee3a3a" stroke-width="0.6"/>
<polygon points="245.66,541.43 243.98,544.65 247.34,544.65" fill="none" stroke="#ee3a3a" stroke-width="0.6"/>
<polygon points="245.76,540.41 244.08,543.63 247.44,543.63" fill="none" stroke="#ee3a3a" stroke-width="0.6"/>
<polygon points="245.95,538.69 244.27,541.91 247.63,541.91" fill="none" stroke="#ee3a3a" stroke-width="0.6"/>
<polygon points="246.26,538.82 244.58,542.04 247.94,542.04" fill="none" stroke="#ee3a3a" stroke-width="0.6"/>
<polygon points="244.55,537.19 242.87,540.41 246.23,540.41" fill="none" stroke="#ee3a3a" stroke-width="0.6"/>
<rect x="243.1" y="542.67" width="4.6" height="1.2" fill="#111"/>
<polygon points="251.05,540.86 252.89,542.7 251.05,544.54 249.21,542.7" fill="none" stroke="#ee3a3a" stroke-width="0.6"/>
<polygon points="251.48,511.93 253.32,513.77 251.48,515.61 249.64,513.77" fill="none" stroke="#ee3a3a" stroke-width="0.6"/>
<polygon points="250.95,523.84 252.79,525.68 250.95,527.52 249.11,525.68" fill="none" stroke="#ee3a3a" stroke-width="0.6"/>
<polygon points="251.46,527.45 253.3,529.29 251.46,531.13 249.62,529.29" fill="none" stroke="#ee3a3a" stroke-width="0.6"/>
<polygon points="250.56,519.48 252.4,521.32 250.56,523.16 248.72,521.32" fill="none" stroke="#ee3a3a" stroke-width="0.6"/>
<polygon points="251.98,524.63 253.82,526.47 251.98,528.31 250.14,526.47" fill="none" stroke="#ee3a3a" stroke-width="0.6"/>
<polygon points="251.35,522.94 253.19,524.78 251.35,526.62 249.51,524.78" fill="none" stroke="#ee3a3a" stroke-width="0.6"/>
<rect x="249" y="525.08" width="4.6" height="1.2" fill="#111"/>
<circle cx="260.21" cy="556.88" r="1.6" fill="none" stroke="#5fe0e6" stroke-width="0.6"/>
<circle cx="261.19" cy="542.13" r="1.6" fill="none" stroke="#5fe0e6" stroke-width="0.6"/>
<circle cx="260.56" cy="546.1" r="1.6" fill="none" stroke="#5fe0e6" stroke-width="0.6"/>
<circle cx="260.35" cy="551.41" r="1.6" fill="none" stroke="#5fe0e6" stroke-width="0.6"/>
<circle cx="260.87" cy="543.6" r="1.6" fill="none" stroke="#5fe0e6" stroke-width="0.6"/>
<circle cx="260.25" cy="549.05" r="1.6" fill="none" stroke="#5fe0e6" stroke-width="0.6"/>
<circle cx="260.38" cy="553.72" r="1.6" fill="none" stroke="#5fe0e6" stroke-width="0.6"/>
<rect x="258.6" y="545.5" width="4.6" height="1.2" fill="#111"/>
<rect x="265.86" y="552.45" width="3.2" height="3.2" fill="none" stroke="#5fe0e6" stroke-width="0.6"/>
<rect x="265.56" y="526.92" width="3.2" height="3.2" fill="none" stroke="#5fe0e6" stroke-width="0.6"/>
<rect x="264.32" y="535.99" width="3.2" height="3.2" fill="none" stroke="#5fe0e6" stroke-width="0.6"/>
<rect x="265.7" y="542.19" width="3.2" height="3.2" fill="none" stroke="#5fe0e6" stroke-width="0.6"/>
<rect x="264.33" y="538.11" width="3.2" height="3.2" fill="none" stroke="#5fe0e6" stroke-width="0.6"/>
<rect x="264.9" y="540.05" width="3.2" height="3.2" fill="none" stroke="#5fe0e6" stroke-width="0.6"/>
<rect x="265.93" y="529.39" width="3.2" height="3.2" fill="none" stroke="#5fe0e6" stroke-width="0.6"/>
<rect x="264.5" y="536.99" width="4.6" height="1.2" fill="#111"/>
<polygon points="272.92,546.53 271.24,549.75 274.6,549.75" fill="none" stroke="#5fe0e6" stroke-width="0.6"/>
<polygon points="272.35,523.27 270.67,526.49 274.03,526.49" fill="none" stroke="#5fe0e6" stroke-width="0.6"/>
<polygon points="272.48,536.89 270.8,540.11 274.16,540.11" fill="none" stroke="#5fe0e6" stroke-width="0.6"/>
<polygon points="272.5,537.07 270.82,540.29 274.18,540.29" fill="none" stroke="#5fe0e6" stroke-width="0.6"/>
<polygon points="272.03,543.53 270.35,546.75 273.71,546.75" fill="none" stroke="#5fe0e6" stroke-width="0.6"/>
<polygon points="273.6,532.25 271.92,535.47 275.28,535.47" fill="none" stroke="#5fe0e6" stroke-width="0.6"/>
<polygon points="271.9,538.89 270.22,542.11 273.58,542.11" fill="none" stroke="#5fe0e6" stroke-width="0.6"/>
<rect x="270.4" y="538.13" width="4.6" height="1.2" fill="#111"/>
<polygon points="278.46,537.46 280.3,539.3 278.46,541.14 276.62,539.3" fill="none" stroke="#5fe0e6" stroke-width="0.6"/>
<polygon points="279.04,513.63 280.88,515.47 279.04,517.31 277.2,515.47" fill="none" stroke="#5fe0e6" stroke-width="0.6"/>
<polygon points="278.42,517.6 280.26,519.44 278.42,521.28 276.58,519.44" fill="none" stroke="#5fe0e6" stroke-width="0.6"/>
<polygon points="279.47,534.07 281.31,535.91 279.47,537.75 277.63,535.91" fill="none" stroke="#5fe0e6" stroke-width="0.6"/>
<polygon points="278.14,529.98 279.98,531.82 278.14,533.66 276.3,531.82" fill="none" stroke="#5fe0e6" stroke-width="0.6"/>
<polygon points="279.46,519.99 281.3,521.83 279.46,523.67 277.62,521.83" fill="none" stroke="#5fe0e6" stroke-width="0.6"/>
<polygon points="279.31,515.5 281.15,517.34 279.31,519.18 277.47,517.34" fill="none" stroke="#5fe0e6" stroke-width="0.6"/>
<rect x="276.3" y="518.84" width="4.6" height="1.2" fill="#111"/>
<circle cx="288.51" cy="565.96" r="1.6" fill="none" stroke="#3333dd" stroke-width="0.6"/>
<circle cx="288.9" cy="539.3" r="1.6" fill="none" stroke="#3333dd" stroke-width="0.6"/>
<circle cx="288.1" cy="551.78" r="1.6" fill="none" stroke="#3333dd" stroke-width="0.6"/>
<circle cx="288.8" cy="550.23" r="1.6" fill="none" stroke="#3333dd" stroke-width="0.6"/>
<circle cx="288.73" cy="550.98" r="1.6" fill="none" stroke="#3333dd" stroke-width="0.6"/>
<circle cx="288.23" cy="562.32" r="1.6" fill="none" stroke="#3333dd" stroke-width="0.6"/>
<circle cx="288.15" cy="553.15" r="1.6" fill="none" stroke="#3333dd" stroke-width="0.6"/>
<circle cx="288.57" cy="545.94" r="1.6" fill="none" stroke="#3333dd" stroke-width="0.6"/>
<rect x="285.9" y="551.18" width="4.6" height="1.2" fill="#111"/>
<rect x="292.34" y="547.91" width="3.2" height="3.2" fill="none" stroke="#3333dd" stroke-width="0.6"/>
<rect x="291.75" y="537.13" width="3.2" height="3.2" fill="none" stroke="#3333dd" stroke-width="0.6"/>
<rect x="292.94" y="538.26" width="3.2" height="3.2" fill="none" stroke="#3333dd" stroke-width="0.6"/>
<rect x="292.08" y="537.96" width="3.2" height="3.2" fill="none" stroke="#3333dd" stroke-width="0.6"/>
<rect x="292.48" y="542.12" width="3.2" height="3.2" fill="none" stroke="#3333dd" stroke-width="0.6"/>
<rect x="293.01" y="537.72" width="3.2" height="3.2" fill="none" stroke="#3333dd" stroke-width="0.6"/>
<rect x="291.91" y="537.46" width="3.2" height="3.2" fill="none" stroke="#3333dd" stroke-width="0.6"/>
<rect x="291.64" y="537.62" width="3.2" height="3.2" fill="none" stroke="#3333dd" stroke-width="0.6"/>
<rect x="291.8" y="539.26" width="4.6" height="1.2" fill="#111"/>
<polygon points="299.32,543.13 297.64,546.35 301,546.35" fill="none" stroke="#3333dd" stroke-width="0.6"/>
<polygon points="300.16,527.24 298.48,530.46 301.84,530.46" fill="none" stroke="#3333dd" stroke-width="0.6"/>
<polygon points="299.75,539.73 298.07,542.95 301.43,542.95" fill="none" stroke="#3333dd" stroke-width="0.6"/>
<polygon points="299.56,539.91 297.88,543.13 301.24,543.13" fill="none" stroke="#3333dd" stroke-width="0.6"/>
<polygon points="299.91,540.21 298.23,543.43 301.59,543.43" fill="none" stroke="#3333dd" stroke-width="0.6"/>
<polygon points="300.77,542.85 299.09,546.07 302.45,546.07" fill="none" stroke="#3333dd" stroke-width="0.6"/>
<polygon points="299.56,541.56 297.88,544.78 301.24,544.78" fill="none" stroke="#3333dd" stroke-width="0.6"/>
<polygon points="299.84,533.28 298.16,536.5 301.52,536.5" fill="none" stroke="#3333dd" stroke-width="0.6"/>
<rect x="297.7" y="540.97" width="4.6" height="1.2" fill="#111"/>
<polygon points="306.58,539.73 308.42,541.57 306.58,543.41 304.74,541.57" fill="none" stroke="#3333dd" stroke-width="0.6"/>
<polygon points="306.1,513.06 307.94,514.9 306.1,516.74 304.26,514.9" fill="none" stroke="#3333dd" stroke-width="0.6"/>
<polygon points="305.48,521 307.32,522.84 305.48,524.68 303.64,522.84" fill="none" stroke="#3333dd" stroke-width="0.6"/>
<polygon points="305.85,521.19 307.69,523.03 305.85,524.87 304.01,523.03" fill="none" stroke="#3333dd" stroke-width="0.6"/>
<polygon points="305.86,518.81 307.7,520.65 305.86,522.49 304.02,520.65" fill="none" stroke="#3333dd" stroke-width="0.6"/>
<polygon points="305.26,532.9 307.1,534.74 305.26,536.58 303.42,534.74" fill="none" stroke="#3333dd" stroke-width="0.6"/>
<polygon points="305.68,519.89 307.52,521.73 305.68,523.57 303.84,521.73" fill="none" stroke="#3333dd" stroke-width="0.6"/>
<polygon points="305.55,516.29 307.39,518.13 305.55,519.97 303.71,518.13" fill="none" stroke="#3333dd" stroke-width="0.6"/>
<rect x="303.6" y="522.24" width="4.6" height="1.2" fill="#111"/>
<line x1="202.2" y1="484.9" x2="202.2" y2="571" stroke="#4a4a4a" stroke-width="1"/>
<line x1="201.7" y1="570.5" x2="309" y2="570.5" stroke="#4a4a4a" stroke-width="1"/>
<line x1="198.6" y1="570.5" x2="202.2" y2="570.5" stroke="#4a4a4a" stroke-width="0.9"/>
<text x="197.6" y="572.62" font-size="5.9" text-anchor="end" fill="#333" stroke="#333" stroke-width="0.18">0</text>
<line x1="198.6" y1="542.13" x2="202.2" y2="542.13" stroke="#4a4a4a" stroke-width="0.9"/>
<text x="197.6" y="544.26" font-size="5.9" text-anchor="end" fill="#333" stroke="#333" stroke-width="0.18">5000</text>
<line x1="198.6" y1="513.77" x2="202.2" y2="513.77" stroke="#4a4a4a" stroke-width="0.9"/>
<text x="197.6" y="515.89" font-size="5.9" text-anchor="end" fill="#333" stroke="#333" stroke-width="0.18">10000</text>
<line x1="198.6" y1="485.4" x2="202.2" y2="485.4" stroke="#4a4a4a" stroke-width="0.9"/>
<text x="197.6" y="487.52" font-size="5.9" text-anchor="end" fill="#333" stroke="#333" stroke-width="0.18">15000</text>
<line x1="215.1" y1="570.5" x2="215.1" y2="573.3" stroke="#4a4a4a" stroke-width="0.9"/>
<line x1="242.4" y1="570.5" x2="242.4" y2="573.3" stroke="#4a4a4a" stroke-width="0.9"/>
<line x1="269.7" y1="570.5" x2="269.7" y2="573.3" stroke="#4a4a4a" stroke-width="0.9"/>
<line x1="297" y1="570.5" x2="297" y2="573.3" stroke="#4a4a4a" stroke-width="0.9"/>
<line x1="206.3" y1="491.5" x2="224" y2="491.5" stroke="#333" stroke-width="0.75"/>
<text x="215.15" y="493.87" font-size="9" text-anchor="middle" font-weight="bold" fill="#111" stroke="#111" stroke-width="0.18">**</text>
<line x1="212.2" y1="497.5" x2="224" y2="497.5" stroke="#333" stroke-width="0.75"/>
<text x="218.1" y="499.87" font-size="9" text-anchor="middle" font-weight="bold" fill="#111" stroke="#111" stroke-width="0.18">**</text>
<line x1="206.3" y1="503.4" x2="218.1" y2="503.4" stroke="#333" stroke-width="0.75"/>
<text x="212.2" y="505.77" font-size="9" text-anchor="middle" font-weight="bold" fill="#111" stroke="#111" stroke-width="0.18">*</text>
<line x1="212.2" y1="509.2" x2="218.1" y2="509.2" stroke="#333" stroke-width="0.75"/>
<text x="215.15" y="511.57" font-size="9" text-anchor="middle" font-weight="bold" fill="#111" stroke="#111" stroke-width="0.18">*</text>
<line x1="233.6" y1="497.5" x2="251.3" y2="497.5" stroke="#333" stroke-width="0.75"/>
<text x="242.45" y="499.87" font-size="9" text-anchor="middle" font-weight="bold" fill="#111" stroke="#111" stroke-width="0.18">****</text>
<line x1="239.5" y1="503.4" x2="251.3" y2="503.4" stroke="#333" stroke-width="0.75"/>
<text x="245.4" y="505.77" font-size="9" text-anchor="middle" font-weight="bold" fill="#111" stroke="#111" stroke-width="0.18">***</text>
<line x1="245.4" y1="509.2" x2="251.3" y2="509.2" stroke="#333" stroke-width="0.75"/>
<text x="248.35" y="511.57" font-size="9" text-anchor="middle" font-weight="bold" fill="#111" stroke="#111" stroke-width="0.18">****</text>
<line x1="260.9" y1="491.5" x2="278.6" y2="491.5" stroke="#333" stroke-width="0.75"/>
<text x="269.75" y="493.87" font-size="9" text-anchor="middle" font-weight="bold" fill="#111" stroke="#111" stroke-width="0.18">****</text>
<line x1="266.8" y1="497.5" x2="278.6" y2="497.5" stroke="#333" stroke-width="0.75"/>
<text x="272.7" y="499.87" font-size="9" text-anchor="middle" font-weight="bold" fill="#111" stroke="#111" stroke-width="0.18">***</text>
<line x1="260.9" y1="503.4" x2="272.7" y2="503.4" stroke="#333" stroke-width="0.75"/>
<text x="266.8" y="505.77" font-size="9" text-anchor="middle" font-weight="bold" fill="#111" stroke="#111" stroke-width="0.18">**</text>
<line x1="272.7" y1="509.2" x2="278.6" y2="509.2" stroke="#333" stroke-width="0.75"/>
<text x="275.65" y="511.57" font-size="9" text-anchor="middle" font-weight="bold" fill="#111" stroke="#111" stroke-width="0.18">**</text>
<line x1="288.2" y1="486.2" x2="305.9" y2="486.2" stroke="#333" stroke-width="0.75"/>
<text x="297.05" y="488.57" font-size="9" text-anchor="middle" font-weight="bold" fill="#111" stroke="#111" stroke-width="0.18">****</text>
<line x1="294.1" y1="491.5" x2="305.9" y2="491.5" stroke="#333" stroke-width="0.75"/>
<text x="300" y="493.87" font-size="9" text-anchor="middle" font-weight="bold" fill="#111" stroke="#111" stroke-width="0.18">***</text>
<line x1="288.2" y1="497.5" x2="300" y2="497.5" stroke="#333" stroke-width="0.75"/>
<text x="294.1" y="499.87" font-size="9" text-anchor="middle" font-weight="bold" fill="#111" stroke="#111" stroke-width="0.18">**</text>
<line x1="300" y1="503.4" x2="305.9" y2="503.4" stroke="#333" stroke-width="0.75"/>
<text x="302.95" y="505.77" font-size="9" text-anchor="middle" font-weight="bold" fill="#111" stroke="#111" stroke-width="0.18">***</text>
<line x1="288.2" y1="509.2" x2="294.1" y2="509.2" stroke="#333" stroke-width="0.75"/>
<text x="291.15" y="511.57" font-size="9" text-anchor="middle" font-weight="bold" fill="#111" stroke="#111" stroke-width="0.18">*</text>
<text x="179.5" y="527.95" font-size="5.75" text-anchor="middle" fill="#222" transform="rotate(-90 179.5 527.95)" stroke="#222" stroke-width="0.18">CD86 MFI (CD11b+ cDC2)</text>
<text x="216.8" y="580" font-size="5.8" text-anchor="end" fill="#333" transform="rotate(-45 216.8 580)" stroke="#333" stroke-width="0.18">Non direct</text>
<text x="244.1" y="580" font-size="5.8" text-anchor="end" fill="#333" transform="rotate(-45 244.1 580)" stroke="#333" stroke-width="0.18">Kaede Red+</text>
<text x="271.4" y="580" font-size="5.8" text-anchor="end" fill="#333" transform="rotate(-45 271.4 580)" stroke="#333" stroke-width="0.18">mCherry+</text>
<text x="273.48" y="602.72" font-size="5.8" text-anchor="start" fill="#333" transform="rotate(-45 273.48 602.72)" stroke="#333" stroke-width="0.18">Kaede Red+</text>
<text x="278.29" y="607.53" font-size="5.8" text-anchor="start" fill="#333" transform="rotate(-45 278.29 607.53)" stroke="#333" stroke-width="0.18">mCherry+</text>
<circle cx="353.58" cy="550.64" r="1.6" fill="none" stroke="#2b2b2b" stroke-width="0.6"/>
<circle cx="353.27" cy="542.13" r="1.6" fill="none" stroke="#2b2b2b" stroke-width="0.6"/>
<circle cx="354.17" cy="546.39" r="1.6" fill="none" stroke="#2b2b2b" stroke-width="0.6"/>
<circle cx="353.13" cy="549.83" r="1.6" fill="none" stroke="#2b2b2b" stroke-width="0.6"/>
<circle cx="353.96" cy="543.55" r="1.6" fill="none" stroke="#2b2b2b" stroke-width="0.6"/>
<circle cx="353.66" cy="545.29" r="1.6" fill="none" stroke="#2b2b2b" stroke-width="0.6"/>
<rect x="351.6" y="545.79" width="4.6" height="1.2" fill="#111"/>
<rect x="357.4" y="541.95" width="3.2" height="3.2" fill="none" stroke="#2b2b2b" stroke-width="0.6"/>
<rect x="358.21" y="534.86" width="3.2" height="3.2" fill="none" stroke="#2b2b2b" stroke-width="0.6"/>
<rect x="357.37" y="540.53" width="3.2" height="3.2" fill="none" stroke="#2b2b2b" stroke-width="0.6"/>
<rect x="358.08" y="538.27" width="3.2" height="3.2" fill="none" stroke="#2b2b2b" stroke-width="0.6"/>
<rect x="357.43" y="541.17" width="3.2" height="3.2" fill="none" stroke="#2b2b2b" stroke-width="0.6"/>
<rect x="357.46" y="541.2" width="3.2" height="3.2" fill="none" stroke="#2b2b2b" stroke-width="0.6"/>
<rect x="357.5" y="541.53" width="4.6" height="1.2" fill="#111"/>
<polygon points="365.56,547.38 363.88,550.61 367.24,550.61" fill="none" stroke="#2b2b2b" stroke-width="0.6"/>
<polygon points="366.29,536.04 364.61,539.26 367.97,539.26" fill="none" stroke="#2b2b2b" stroke-width="0.6"/>
<polygon points="365.02,540.29 363.34,543.51 366.7,543.51" fill="none" stroke="#2b2b2b" stroke-width="0.6"/>
<polygon points="365.2,537.59 363.52,540.81 366.88,540.81" fill="none" stroke="#2b2b2b" stroke-width="0.6"/>
<polygon points="365.93,541.05 364.25,544.27 367.61,544.27" fill="none" stroke="#2b2b2b" stroke-width="0.6"/>
<polygon points="366.51,537.47 364.83,540.69 368.19,540.69" fill="none" stroke="#2b2b2b" stroke-width="0.6"/>
<rect x="363.4" y="541.53" width="4.6" height="1.2" fill="#111"/>
<polygon points="371.74,538.88 373.58,540.72 371.74,542.56 369.9,540.72" fill="none" stroke="#2b2b2b" stroke-width="0.6"/>
<polygon points="371.41,534.62 373.25,536.46 371.41,538.3 369.57,536.46" fill="none" stroke="#2b2b2b" stroke-width="0.6"/>
<polygon points="372.46,536.04 374.3,537.88 372.46,539.72 370.62,537.88" fill="none" stroke="#2b2b2b" stroke-width="0.6"/>
<polygon points="370.78,538.44 372.62,540.28 370.78,542.12 368.94,540.28" fill="none" stroke="#2b2b2b" stroke-width="0.6"/>
<polygon points="372.25,535.76 374.09,537.6 372.25,539.44 370.41,537.6" fill="none" stroke="#2b2b2b" stroke-width="0.6"/>
<polygon points="371.22,538.58 373.06,540.42 371.22,542.26 369.38,540.42" fill="none" stroke="#2b2b2b" stroke-width="0.6"/>
<rect x="369.3" y="537.28" width="4.6" height="1.2" fill="#111"/>
<circle cx="380.56" cy="556.32" r="1.6" fill="none" stroke="#ee3a3a" stroke-width="0.6"/>
<circle cx="380.51" cy="505.26" r="1.6" fill="none" stroke="#ee3a3a" stroke-width="0.6"/>
<circle cx="380.86" cy="546.39" r="1.6" fill="none" stroke="#ee3a3a" stroke-width="0.6"/>
<circle cx="381.77" cy="550.8" r="1.6" fill="none" stroke="#ee3a3a" stroke-width="0.6"/>
<circle cx="380.63" cy="531.92" r="1.6" fill="none" stroke="#ee3a3a" stroke-width="0.6"/>
<circle cx="381.35" cy="535.54" r="1.6" fill="none" stroke="#ee3a3a" stroke-width="0.6"/>
<circle cx="381.45" cy="532.27" r="1.6" fill="none" stroke="#ee3a3a" stroke-width="0.6"/>
<rect x="378.9" y="545.79" width="4.6" height="1.2" fill="#111"/>
<rect x="385.27" y="541.95" width="3.2" height="3.2" fill="none" stroke="#ee3a3a" stroke-width="0.6"/>
<rect x="385.59" y="530.61" width="3.2" height="3.2" fill="none" stroke="#ee3a3a" stroke-width="0.6"/>
<rect x="384.71" y="539.12" width="3.2" height="3.2" fill="none" stroke="#ee3a3a" stroke-width="0.6"/>
<rect x="384.71" y="536.44" width="3.2" height="3.2" fill="none" stroke="#ee3a3a" stroke-width="0.6"/>
<rect x="384.97" y="541.31" width="3.2" height="3.2" fill="none" stroke="#ee3a3a" stroke-width="0.6"/>
<rect x="385.82" y="537.6" width="3.2" height="3.2" fill="none" stroke="#ee3a3a" stroke-width="0.6"/>
<rect x="385.37" y="540.14" width="3.2" height="3.2" fill="none" stroke="#ee3a3a" stroke-width="0.6"/>
<rect x="384.8" y="540.12" width="4.6" height="1.2" fill="#111"/>
<polygon points="392.67,544.55 390.99,547.77 394.35,547.77" fill="none" stroke="#ee3a3a" stroke-width="0.6"/>
<polygon points="393.15,528.95 391.47,532.17 394.83,532.17" fill="none" stroke="#ee3a3a" stroke-width="0.6"/>
<polygon points="392.92,536.75 391.24,539.97 394.6,539.97" fill="none" stroke="#ee3a3a" stroke-width="0.6"/>
<polygon points="392.64,540.65 390.96,543.87 394.32,543.87" fill="none" stroke="#ee3a3a" stroke-width="0.6"/>
<polygon points="393.53,541.23 391.85,544.45 395.21,544.45" fill="none" stroke="#ee3a3a" stroke-width="0.6"/>
<polygon points="393.36,542.25 391.68,545.47 395.04,545.47" fill="none" stroke="#ee3a3a" stroke-width="0.6"/>
<polygon points="392.54,535.05 390.86,538.27 394.22,538.27" fill="none" stroke="#ee3a3a" stroke-width="0.6"/>
<rect x="390.7" y="537.99" width="4.6" height="1.2" fill="#111"/>
<polygon points="399.03,537.46 400.87,539.3 399.03,541.14 397.19,539.3" fill="none" stroke="#ee3a3a" stroke-width="0.6"/>
<polygon points="398.95,514.76 400.79,516.6 398.95,518.44 397.11,516.6" fill="none" stroke="#ee3a3a" stroke-width="0.6"/>
<polygon points="399.58,526.82 401.42,528.66 399.58,530.5 397.74,528.66" fill="none" stroke="#ee3a3a" stroke-width="0.6"/>
<polygon points="399.31,534.43 401.15,536.27 399.31,538.11 397.47,536.27" fill="none" stroke="#ee3a3a" stroke-width="0.6"/>
<polygon points="398.52,533.17 400.36,535.01 398.52,536.85 396.68,535.01" fill="none" stroke="#ee3a3a" stroke-width="0.6"/>
<polygon points="399.76,527.63 401.6,529.47 399.76,531.31 397.92,529.47" fill="none" stroke="#ee3a3a" stroke-width="0.6"/>
<polygon points="398.21,533.56 400.05,535.4 398.21,537.24 396.37,535.4" fill="none" stroke="#ee3a3a" stroke-width="0.6"/>
<rect x="396.6" y="528.06" width="4.6" height="1.2" fill="#111"/>
<circle cx="408.35" cy="554.9" r="1.6" fill="none" stroke="#5fe0e6" stroke-width="0.6"/>
<circle cx="408.96" cy="533.62" r="1.6" fill="none" stroke="#5fe0e6" stroke-width="0.6"/>
<circle cx="407.87" cy="544.97" r="1.6" fill="none" stroke="#5fe0e6" stroke-width="0.6"/>
<circle cx="408.48" cy="543.56" r="1.6" fill="none" stroke="#5fe0e6" stroke-width="0.6"/>
<circle cx="407.67" cy="537.14" r="1.6" fill="none" stroke="#5fe0e6" stroke-width="0.6"/>
<circle cx="408.8" cy="554.06" r="1.6" fill="none" stroke="#5fe0e6" stroke-width="0.6"/>
<circle cx="408.98" cy="548.87" r="1.6" fill="none" stroke="#5fe0e6" stroke-width="0.6"/>
<rect x="406.2" y="544.37" width="4.6" height="1.2" fill="#111"/>
<rect x="412.93" y="541.95" width="3.2" height="3.2" fill="none" stroke="#5fe0e6" stroke-width="0.6"/>
<rect x="413.48" y="524.93" width="3.2" height="3.2" fill="none" stroke="#5fe0e6" stroke-width="0.6"/>
<rect x="412.46" y="532.02" width="3.2" height="3.2" fill="none" stroke="#5fe0e6" stroke-width="0.6"/>
<rect x="413.15" y="537.84" width="3.2" height="3.2" fill="none" stroke="#5fe0e6" stroke-width="0.6"/>
<rect x="412.97" y="530.07" width="3.2" height="3.2" fill="none" stroke="#5fe0e6" stroke-width="0.6"/>
<rect x="412.94" y="529.64" width="3.2" height="3.2" fill="none" stroke="#5fe0e6" stroke-width="0.6"/>
<rect x="412.72" y="532.69" width="3.2" height="3.2" fill="none" stroke="#5fe0e6" stroke-width="0.6"/>
<rect x="412.1" y="533.02" width="4.6" height="1.2" fill="#111"/>
<polygon points="420.91,540.29 419.23,543.51 422.59,543.51" fill="none" stroke="#5fe0e6" stroke-width="0.6"/>
<polygon points="421.1,497.74 419.42,500.96 422.78,500.96" fill="none" stroke="#5fe0e6" stroke-width="0.6"/>
<polygon points="420.25,531.78 418.57,535 421.93,535" fill="none" stroke="#5fe0e6" stroke-width="0.6"/>
<polygon points="420.6,527.65 418.92,530.87 422.28,530.87" fill="none" stroke="#5fe0e6" stroke-width="0.6"/>
<polygon points="419.51,535.76 417.83,538.98 421.19,538.98" fill="none" stroke="#5fe0e6" stroke-width="0.6"/>
<polygon points="420.66,537.97 418.98,541.19 422.34,541.19" fill="none" stroke="#5fe0e6" stroke-width="0.6"/>
<polygon points="420.56,514.96 418.88,518.18 422.24,518.18" fill="none" stroke="#5fe0e6" stroke-width="0.6"/>
<rect x="418" y="533.02" width="4.6" height="1.2" fill="#111"/>
<polygon points="427.09,530.37 428.93,532.21 427.09,534.05 425.25,532.21" fill="none" stroke="#5fe0e6" stroke-width="0.6"/>
<polygon points="426.78,507.67 428.62,509.51 426.78,511.35 424.94,509.51" fill="none" stroke="#5fe0e6" stroke-width="0.6"/>
<polygon points="425.81,514.05 427.65,515.89 425.81,517.73 423.97,515.89" fill="none" stroke="#5fe0e6" stroke-width="0.6"/>
<polygon points="425.99,513.01 427.83,514.85 425.99,516.69 424.15,514.85" fill="none" stroke="#5fe0e6" stroke-width="0.6"/>
<polygon points="426.5,526.21 428.34,528.05 426.5,529.89 424.66,528.05" fill="none" stroke="#5fe0e6" stroke-width="0.6"/>
<polygon points="425.34,511.1 427.18,512.94 425.34,514.78 423.5,512.94" fill="none" stroke="#5fe0e6" stroke-width="0.6"/>
<polygon points="426.13,519.27 427.97,521.11 426.13,522.95 424.29,521.11" fill="none" stroke="#5fe0e6" stroke-width="0.6"/>
<rect x="423.9" y="515.29" width="4.6" height="1.2" fill="#111"/>
<circle cx="435.2" cy="554.9" r="1.6" fill="none" stroke="#3333dd" stroke-width="0.6"/>
<circle cx="435.11" cy="533.62" r="1.6" fill="none" stroke="#3333dd" stroke-width="0.6"/>
<circle cx="435.01" cy="547.1" r="1.6" fill="none" stroke="#3333dd" stroke-width="0.6"/>
<circle cx="436.28" cy="550.08" r="1.6" fill="none" stroke="#3333dd" stroke-width="0.6"/>
<circle cx="435.13" cy="541.32" r="1.6" fill="none" stroke="#3333dd" stroke-width="0.6"/>
<circle cx="435.35" cy="553.64" r="1.6" fill="none" stroke="#3333dd" stroke-width="0.6"/>
<circle cx="435.6" cy="552.99" r="1.6" fill="none" stroke="#3333dd" stroke-width="0.6"/>
<circle cx="436.47" cy="549.95" r="1.6" fill="none" stroke="#3333dd" stroke-width="0.6"/>
<rect x="433.5" y="546.5" width="4.6" height="1.2" fill="#111"/>
<rect x="439.35" y="541.95" width="3.2" height="3.2" fill="none" stroke="#3333dd" stroke-width="0.6"/>
<rect x="440.01" y="532.02" width="3.2" height="3.2" fill="none" stroke="#3333dd" stroke-width="0.6"/>
<rect x="440.19" y="538.41" width="3.2" height="3.2" fill="none" stroke="#3333dd" stroke-width="0.6"/>
<rect x="440.79" y="534.84" width="3.2" height="3.2" fill="none" stroke="#3333dd" stroke-width="0.6"/>
<rect x="440.67" y="533.51" width="3.2" height="3.2" fill="none" stroke="#3333dd" stroke-width="0.6"/>
<rect x="440.76" y="538.38" width="3.2" height="3.2" fill="none" stroke="#3333dd" stroke-width="0.6"/>
<rect x="439.7" y="539.53" width="3.2" height="3.2" fill="none" stroke="#3333dd" stroke-width="0.6"/>
<rect x="439.95" y="535.42" width="3.2" height="3.2" fill="none" stroke="#3333dd" stroke-width="0.6"/>
<rect x="439.4" y="539.41" width="4.6" height="1.2" fill="#111"/>
<polygon points="447.35,543.13 445.67,546.35 449.03,546.35" fill="none" stroke="#3333dd" stroke-width="0.6"/>
<polygon points="448.29,527.53 446.61,530.75 449.97,530.75" fill="none" stroke="#3333dd" stroke-width="0.6"/>
<polygon points="448.42,533.2 446.74,536.42 450.1,536.42" fill="none" stroke="#3333dd" stroke-width="0.6"/>
<polygon points="446.97,529.31 445.29,532.53 448.65,532.53" fill="none" stroke="#3333dd" stroke-width="0.6"/>
<polygon points="447.02,530.33 445.34,533.55 448.7,533.55" fill="none" stroke="#3333dd" stroke-width="0.6"/>
<polygon points="447.12,533.91 445.44,537.13 448.8,537.13" fill="none" stroke="#3333dd" stroke-width="0.6"/>
<polygon points="447.12,539.11 445.44,542.33 448.8,542.33" fill="none" stroke="#3333dd" stroke-width="0.6"/>
<polygon points="447.57,529.61 445.89,532.83 449.25,532.83" fill="none" stroke="#3333dd" stroke-width="0.6"/>
<rect x="445.3" y="534.44" width="4.6" height="1.2" fill="#111"/>
<polygon points="453.66,533.2 455.5,535.04 453.66,536.88 451.82,535.04" fill="none" stroke="#3333dd" stroke-width="0.6"/>
<polygon points="453.07,510.51 454.91,512.35 453.07,514.19 451.23,512.35" fill="none" stroke="#3333dd" stroke-width="0.6"/>
<polygon points="452.61,523.98 454.45,525.82 452.61,527.66 450.77,525.82" fill="none" stroke="#3333dd" stroke-width="0.6"/>
<polygon points="453.35,527.33 455.19,529.17 453.35,531.01 451.51,529.17" fill="none" stroke="#3333dd" stroke-width="0.6"/>
<polygon points="453.26,528.19 455.1,530.03 453.26,531.87 451.42,530.03" fill="none" stroke="#3333dd" stroke-width="0.6"/>
<polygon points="453.62,515.97 455.46,517.81 453.62,519.65 451.78,517.81" fill="none" stroke="#3333dd" stroke-width="0.6"/>
<polygon points="454.32,525.83 456.16,527.67 454.32,529.51 452.48,527.67" fill="none" stroke="#3333dd" stroke-width="0.6"/>
<polygon points="453.84,531.23 455.68,533.07 453.84,534.91 452,533.07" fill="none" stroke="#3333dd" stroke-width="0.6"/>
<rect x="451.2" y="525.22" width="4.6" height="1.2" fill="#111"/>
<line x1="350.3" y1="484.9" x2="350.3" y2="571" stroke="#4a4a4a" stroke-width="1"/>
<line x1="349.8" y1="570.5" x2="456.5" y2="570.5" stroke="#4a4a4a" stroke-width="1"/>
<line x1="346.7" y1="570.5" x2="350.3" y2="570.5" stroke="#4a4a4a" stroke-width="0.9"/>
<text x="345.7" y="572.62" font-size="5.9" text-anchor="end" fill="#333" stroke="#333" stroke-width="0.18">0</text>
<line x1="346.7" y1="542.13" x2="350.3" y2="542.13" stroke="#4a4a4a" stroke-width="0.9"/>
<text x="345.7" y="544.26" font-size="5.9" text-anchor="end" fill="#333" stroke="#333" stroke-width="0.18">2000</text>
<line x1="346.7" y1="513.77" x2="350.3" y2="513.77" stroke="#4a4a4a" stroke-width="0.9"/>
<text x="345.7" y="515.89" font-size="5.9" text-anchor="end" fill="#333" stroke="#333" stroke-width="0.18">4000</text>
<line x1="346.7" y1="485.4" x2="350.3" y2="485.4" stroke="#4a4a4a" stroke-width="0.9"/>
<text x="345.7" y="487.52" font-size="5.9" text-anchor="end" fill="#333" stroke="#333" stroke-width="0.18">6000</text>
<line x1="362.7" y1="570.5" x2="362.7" y2="573.3" stroke="#4a4a4a" stroke-width="0.9"/>
<line x1="390" y1="570.5" x2="390" y2="573.3" stroke="#4a4a4a" stroke-width="0.9"/>
<line x1="417.3" y1="570.5" x2="417.3" y2="573.3" stroke="#4a4a4a" stroke-width="0.9"/>
<line x1="444.6" y1="570.5" x2="444.6" y2="573.3" stroke="#4a4a4a" stroke-width="0.9"/>
<line x1="381.2" y1="495.4" x2="398.9" y2="495.4" stroke="#333" stroke-width="0.75"/>
<text x="390.05" y="497.77" font-size="9" text-anchor="middle" font-weight="bold" fill="#111" stroke="#111" stroke-width="0.18">*</text>
<line x1="408.5" y1="484.2" x2="426.2" y2="484.2" stroke="#333" stroke-width="0.75"/>
<text x="417.35" y="486.57" font-size="9" text-anchor="middle" font-weight="bold" fill="#111" stroke="#111" stroke-width="0.18">****</text>
<line x1="414.4" y1="489.5" x2="426.2" y2="489.5" stroke="#333" stroke-width="0.75"/>
<text x="420.3" y="491.87" font-size="9" text-anchor="middle" font-weight="bold" fill="#111" stroke="#111" stroke-width="0.18">**</text>
<line x1="408.5" y1="495.4" x2="420.3" y2="495.4" stroke="#333" stroke-width="0.75"/>
<text x="414.4" y="497.77" font-size="9" text-anchor="middle" font-weight="bold" fill="#111" stroke="#111" stroke-width="0.18">**</text>
<line x1="435.8" y1="489.5" x2="453.5" y2="489.5" stroke="#333" stroke-width="0.75"/>
<text x="444.65" y="491.87" font-size="9" text-anchor="middle" font-weight="bold" fill="#111" stroke="#111" stroke-width="0.18">****</text>
<line x1="441.7" y1="495.4" x2="453.5" y2="495.4" stroke="#333" stroke-width="0.75"/>
<text x="447.6" y="497.77" font-size="9" text-anchor="middle" font-weight="bold" fill="#111" stroke="#111" stroke-width="0.18">*</text>
<text x="328.5" y="527.95" font-size="5.75" text-anchor="middle" fill="#222" transform="rotate(-90 328.5 527.95)" stroke="#222" stroke-width="0.18">CD40 MFI (CD11b+ cDC2)</text>
<text x="364.4" y="580" font-size="5.8" text-anchor="end" fill="#333" transform="rotate(-45 364.4 580)" stroke="#333" stroke-width="0.18">Non direct</text>
<text x="391.7" y="580" font-size="5.8" text-anchor="end" fill="#333" transform="rotate(-45 391.7 580)" stroke="#333" stroke-width="0.18">Kaede Red+</text>
<text x="419" y="580" font-size="5.8" text-anchor="end" fill="#333" transform="rotate(-45 419 580)" stroke="#333" stroke-width="0.18">mCherry+</text>
<text x="421.08" y="602.72" font-size="5.8" text-anchor="start" fill="#333" transform="rotate(-45 421.08 602.72)" stroke="#333" stroke-width="0.18">Kaede Red+</text>
<text x="425.89" y="607.53" font-size="5.8" text-anchor="start" fill="#333" transform="rotate(-45 425.89 607.53)" stroke="#333" stroke-width="0.18">mCherry+</text>
<circle cx="507.21" cy="551.8" r="1.6" fill="none" stroke="#2b2b2b" stroke-width="0.6"/>
<circle cx="508.53" cy="543.3" r="1.6" fill="none" stroke="#2b2b2b" stroke-width="0.6"/>
<circle cx="507.03" cy="550.1" r="1.6" fill="none" stroke="#2b2b2b" stroke-width="0.6"/>
<circle cx="508.07" cy="544.93" r="1.6" fill="none" stroke="#2b2b2b" stroke-width="0.6"/>
<circle cx="506.95" cy="551.03" r="1.6" fill="none" stroke="#2b2b2b" stroke-width="0.6"/>
<circle cx="507.25" cy="548.39" r="1.6" fill="none" stroke="#2b2b2b" stroke-width="0.6"/>
<rect x="505.4" y="549.5" width="4.6" height="1.2" fill="#111"/>
<rect x="512.9" y="547.65" width="3.2" height="3.2" fill="none" stroke="#2b2b2b" stroke-width="0.6"/>
<rect x="511.48" y="541.7" width="3.2" height="3.2" fill="none" stroke="#2b2b2b" stroke-width="0.6"/>
<rect x="512.26" y="545.1" width="3.2" height="3.2" fill="none" stroke="#2b2b2b" stroke-width="0.6"/>
<rect x="511.93" y="546.74" width="3.2" height="3.2" fill="none" stroke="#2b2b2b" stroke-width="0.6"/>
<rect x="511.92" y="543.76" width="3.2" height="3.2" fill="none" stroke="#2b2b2b" stroke-width="0.6"/>
<rect x="511.99" y="545.6" width="3.2" height="3.2" fill="none" stroke="#2b2b2b" stroke-width="0.6"/>
<rect x="511.3" y="546.1" width="4.6" height="1.2" fill="#111"/>
<polygon points="518.95,540.61 517.27,543.83 520.63,543.83" fill="none" stroke="#2b2b2b" stroke-width="0.6"/>
<polygon points="520.09,527.86 518.41,531.08 521.77,531.08" fill="none" stroke="#2b2b2b" stroke-width="0.6"/>
<polygon points="518.76,532.96 517.08,536.18 520.44,536.18" fill="none" stroke="#2b2b2b" stroke-width="0.6"/>
<polygon points="519.02,530.71 517.34,533.93 520.7,533.93" fill="none" stroke="#2b2b2b" stroke-width="0.6"/>
<polygon points="518.64,538.23 516.96,541.45 520.32,541.45" fill="none" stroke="#2b2b2b" stroke-width="0.6"/>
<polygon points="519.08,533.72 517.4,536.94 520.76,536.94" fill="none" stroke="#2b2b2b" stroke-width="0.6"/>
<rect x="517.2" y="534.2" width="4.6" height="1.2" fill="#111"/>
<polygon points="525.23,539.76 527.07,541.6 525.23,543.44 523.39,541.6" fill="none" stroke="#2b2b2b" stroke-width="0.6"/>
<polygon points="526.12,528.71 527.96,530.55 526.12,532.39 524.28,530.55" fill="none" stroke="#2b2b2b" stroke-width="0.6"/>
<polygon points="525.18,532.96 527.02,534.8 525.18,536.64 523.34,534.8" fill="none" stroke="#2b2b2b" stroke-width="0.6"/>
<polygon points="524.7,536.44 526.54,538.28 524.7,540.12 522.86,538.28" fill="none" stroke="#2b2b2b" stroke-width="0.6"/>
<polygon points="524.97,538.09 526.81,539.93 524.97,541.77 523.13,539.93" fill="none" stroke="#2b2b2b" stroke-width="0.6"/>
<polygon points="526.28,532.14 528.12,533.98 526.28,535.82 524.44,533.98" fill="none" stroke="#2b2b2b" stroke-width="0.6"/>
<rect x="523.1" y="534.2" width="4.6" height="1.2" fill="#111"/>
<circle cx="534.21" cy="551.8" r="1.6" fill="none" stroke="#ee3a3a" stroke-width="0.6"/>
<circle cx="535.22" cy="520.35" r="1.6" fill="none" stroke="#ee3a3a" stroke-width="0.6"/>
<circle cx="534.78" cy="543.3" r="1.6" fill="none" stroke="#ee3a3a" stroke-width="0.6"/>
<circle cx="535.29" cy="532.77" r="1.6" fill="none" stroke="#ee3a3a" stroke-width="0.6"/>
<circle cx="534.71" cy="540.25" r="1.6" fill="none" stroke="#ee3a3a" stroke-width="0.6"/>
<circle cx="535.34" cy="526.66" r="1.6" fill="none" stroke="#ee3a3a" stroke-width="0.6"/>
<circle cx="535" cy="546.34" r="1.6" fill="none" stroke="#ee3a3a" stroke-width="0.6"/>
<rect x="532.7" y="542.7" width="4.6" height="1.2" fill="#111"/>
<rect x="539.57" y="545.95" width="3.2" height="3.2" fill="none" stroke="#ee3a3a" stroke-width="0.6"/>
<rect x="540.02" y="528.95" width="3.2" height="3.2" fill="none" stroke="#ee3a3a" stroke-width="0.6"/>
<rect x="539.45" y="541.7" width="3.2" height="3.2" fill="none" stroke="#ee3a3a" stroke-width="0.6"/>
<rect x="538.66" y="541.86" width="3.2" height="3.2" fill="none" stroke="#ee3a3a" stroke-width="0.6"/>
<rect x="538.52" y="537.35" width="3.2" height="3.2" fill="none" stroke="#ee3a3a" stroke-width="0.6"/>
<rect x="540.1" y="532.72" width="3.2" height="3.2" fill="none" stroke="#ee3a3a" stroke-width="0.6"/>
<rect x="539.28" y="542.42" width="3.2" height="3.2" fill="none" stroke="#ee3a3a" stroke-width="0.6"/>
<rect x="538.6" y="542.7" width="4.6" height="1.2" fill="#111"/>
<polygon points="546.25,538.06 544.57,541.28 547.93,541.28" fill="none" stroke="#ee3a3a" stroke-width="0.6"/>
<polygon points="547.6,517.66 545.92,520.88 549.28,520.88" fill="none" stroke="#ee3a3a" stroke-width="0.6"/>
<polygon points="546.94,527.86 545.26,531.08 548.62,531.08" fill="none" stroke="#ee3a3a" stroke-width="0.6"/>
<polygon points="547.21,531.8 545.53,535.02 548.89,535.02" fill="none" stroke="#ee3a3a" stroke-width="0.6"/>
<polygon points="547.49,524.99 545.81,528.21 549.17,528.21" fill="none" stroke="#ee3a3a" stroke-width="0.6"/>
<polygon points="546.41,521.2 544.73,524.42 548.09,524.42" fill="none" stroke="#ee3a3a" stroke-width="0.6"/>
<polygon points="546.54,526.11 544.86,529.33 548.22,529.33" fill="none" stroke="#ee3a3a" stroke-width="0.6"/>
<rect x="544.5" y="529.1" width="4.6" height="1.2" fill="#111"/>
<polygon points="553.38,532.11 555.22,533.95 553.38,535.79 551.54,533.95" fill="none" stroke="#ee3a3a" stroke-width="0.6"/>
<polygon points="552.04,515.11 553.88,516.95 552.04,518.79 550.2,516.95" fill="none" stroke="#ee3a3a" stroke-width="0.6"/>
<polygon points="553.18,521.91 555.02,523.75 553.18,525.59 551.34,523.75" fill="none" stroke="#ee3a3a" stroke-width="0.6"/>
<polygon points="551.98,521.79 553.82,523.63 551.98,525.47 550.14,523.63" fill="none" stroke="#ee3a3a" stroke-width="0.6"/>
<polygon points="553.04,518.61 554.88,520.45 553.04,522.29 551.2,520.45" fill="none" stroke="#ee3a3a" stroke-width="0.6"/>
<polygon points="553.06,529.41 554.9,531.25 553.06,533.09 551.22,531.25" fill="none" stroke="#ee3a3a" stroke-width="0.6"/>
<polygon points="553.51,526.65 555.35,528.49 553.51,530.33 551.67,528.49" fill="none" stroke="#ee3a3a" stroke-width="0.6"/>
<rect x="550.4" y="523.15" width="4.6" height="1.2" fill="#111"/>
<circle cx="562.22" cy="557.75" r="1.6" fill="none" stroke="#5fe0e6" stroke-width="0.6"/>
<circle cx="561.61" cy="513.55" r="1.6" fill="none" stroke="#5fe0e6" stroke-width="0.6"/>
<circle cx="561.06" cy="547.55" r="1.6" fill="none" stroke="#5fe0e6" stroke-width="0.6"/>
<circle cx="560.97" cy="548.4" r="1.6" fill="none" stroke="#5fe0e6" stroke-width="0.6"/>
<circle cx="561.65" cy="547.79" r="1.6" fill="none" stroke="#5fe0e6" stroke-width="0.6"/>
<circle cx="561.62" cy="555.47" r="1.6" fill="none" stroke="#5fe0e6" stroke-width="0.6"/>
<circle cx="560.83" cy="551.97" r="1.6" fill="none" stroke="#5fe0e6" stroke-width="0.6"/>
<rect x="559.3" y="546.95" width="4.6" height="1.2" fill="#111"/>
<rect x="566.63" y="547.65" width="3.2" height="3.2" fill="none" stroke="#5fe0e6" stroke-width="0.6"/>
<rect x="565.91" y="523.85" width="3.2" height="3.2" fill="none" stroke="#5fe0e6" stroke-width="0.6"/>
<rect x="566.26" y="544.25" width="3.2" height="3.2" fill="none" stroke="#5fe0e6" stroke-width="0.6"/>
<rect x="565.4" y="528.19" width="3.2" height="3.2" fill="none" stroke="#5fe0e6" stroke-width="0.6"/>
<rect x="565.44" y="546.42" width="3.2" height="3.2" fill="none" stroke="#5fe0e6" stroke-width="0.6"/>
<rect x="565.02" y="544.98" width="3.2" height="3.2" fill="none" stroke="#5fe0e6" stroke-width="0.6"/>
<rect x="565.62" y="545.23" width="3.2" height="3.2" fill="none" stroke="#5fe0e6" stroke-width="0.6"/>
<rect x="565.2" y="545.25" width="4.6" height="1.2" fill="#111"/>
<polygon points="572.98,537.21 571.3,540.43 574.66,540.43" fill="none" stroke="#5fe0e6" stroke-width="0.6"/>
<polygon points="573.26,511.71 571.58,514.93 574.94,514.93" fill="none" stroke="#5fe0e6" stroke-width="0.6"/>
<polygon points="573.18,523.61 571.5,526.83 574.86,526.83" fill="none" stroke="#5fe0e6" stroke-width="0.6"/>
<polygon points="574,514.39 572.32,517.61 575.68,517.61" fill="none" stroke="#5fe0e6" stroke-width="0.6"/>
<polygon points="574.1,534.98 572.42,538.2 575.78,538.2" fill="none" stroke="#5fe0e6" stroke-width="0.6"/>
<polygon points="572.82,531.4 571.14,534.62 574.5,534.62" fill="none" stroke="#5fe0e6" stroke-width="0.6"/>
<polygon points="573.21,522.72 571.53,525.94 574.89,525.94" fill="none" stroke="#5fe0e6" stroke-width="0.6"/>
<rect x="571.1" y="524.85" width="4.6" height="1.2" fill="#111"/>
<polygon points="578.7,526.16 580.54,528 578.7,529.84 576.86,528" fill="none" stroke="#5fe0e6" stroke-width="0.6"/>
<polygon points="579.59,499.81 581.43,501.65 579.59,503.49 577.75,501.65" fill="none" stroke="#5fe0e6" stroke-width="0.6"/>
<polygon points="580.15,511.71 581.99,513.55 580.15,515.39 578.31,513.55" fill="none" stroke="#5fe0e6" stroke-width="0.6"/>
<polygon points="578.76,513.58 580.6,515.42 578.76,517.26 576.92,515.42" fill="none" stroke="#5fe0e6" stroke-width="0.6"/>
<polygon points="579.78,524.84 581.62,526.68 579.78,528.52 577.94,526.68" fill="none" stroke="#5fe0e6" stroke-width="0.6"/>
<polygon points="578.94,504.38 580.78,506.22 578.94,508.06 577.1,506.22" fill="none" stroke="#5fe0e6" stroke-width="0.6"/>
<polygon points="578.42,523.16 580.26,525 578.42,526.84 576.58,525" fill="none" stroke="#5fe0e6" stroke-width="0.6"/>
<rect x="577" y="512.95" width="4.6" height="1.2" fill="#111"/>
<circle cx="589.08" cy="550.95" r="1.6" fill="none" stroke="#3333dd" stroke-width="0.6"/>
<circle cx="588.32" cy="510.15" r="1.6" fill="none" stroke="#3333dd" stroke-width="0.6"/>
<circle cx="588.01" cy="545" r="1.6" fill="none" stroke="#3333dd" stroke-width="0.6"/>
<circle cx="588.48" cy="546.42" r="1.6" fill="none" stroke="#3333dd" stroke-width="0.6"/>
<circle cx="588.12" cy="546.08" r="1.6" fill="none" stroke="#3333dd" stroke-width="0.6"/>
<circle cx="588.44" cy="545.95" r="1.6" fill="none" stroke="#3333dd" stroke-width="0.6"/>
<circle cx="588.5" cy="527.17" r="1.6" fill="none" stroke="#3333dd" stroke-width="0.6"/>
<circle cx="588.45" cy="521.35" r="1.6" fill="none" stroke="#3333dd" stroke-width="0.6"/>
<rect x="586.3" y="544.4" width="4.6" height="1.2" fill="#111"/>
<rect x="593.06" y="545.1" width="3.2" height="3.2" fill="none" stroke="#3333dd" stroke-width="0.6"/>
<rect x="592.52" y="535.75" width="3.2" height="3.2" fill="none" stroke="#3333dd" stroke-width="0.6"/>
<rect x="592.17" y="541.7" width="3.2" height="3.2" fill="none" stroke="#3333dd" stroke-width="0.6"/>
<rect x="592.15" y="542" width="3.2" height="3.2" fill="none" stroke="#3333dd" stroke-width="0.6"/>
<rect x="592.19" y="541.58" width="3.2" height="3.2" fill="none" stroke="#3333dd" stroke-width="0.6"/>
<rect x="592.94" y="540.61" width="3.2" height="3.2" fill="none" stroke="#3333dd" stroke-width="0.6"/>
<rect x="592.65" y="538.59" width="3.2" height="3.2" fill="none" stroke="#3333dd" stroke-width="0.6"/>
<rect x="593.45" y="536.94" width="3.2" height="3.2" fill="none" stroke="#3333dd" stroke-width="0.6"/>
<rect x="592.2" y="542.7" width="4.6" height="1.2" fill="#111"/>
<polygon points="600.41,538.06 598.73,541.28 602.09,541.28" fill="none" stroke="#3333dd" stroke-width="0.6"/>
<polygon points="600.77,519.36 599.09,522.58 602.45,522.58" fill="none" stroke="#3333dd" stroke-width="0.6"/>
<polygon points="601.26,529.56 599.58,532.78 602.94,532.78" fill="none" stroke="#3333dd" stroke-width="0.6"/>
<polygon points="599.61,525.14 597.93,528.36 601.29,528.36" fill="none" stroke="#3333dd" stroke-width="0.6"/>
<polygon points="599.53,522.19 597.85,525.41 601.21,525.41" fill="none" stroke="#3333dd" stroke-width="0.6"/>
<polygon points="599.75,534.84 598.07,538.06 601.43,538.06" fill="none" stroke="#3333dd" stroke-width="0.6"/>
<polygon points="600.2,528.56 598.52,531.78 601.88,531.78" fill="none" stroke="#3333dd" stroke-width="0.6"/>
<polygon points="600.53,535.23 598.85,538.45 602.21,538.45" fill="none" stroke="#3333dd" stroke-width="0.6"/>
<rect x="598.1" y="530.8" width="4.6" height="1.2" fill="#111"/>
<polygon points="606.74,532.11 608.58,533.95 606.74,535.79 604.9,533.95" fill="none" stroke="#3333dd" stroke-width="0.6"/>
<polygon points="606.03,507.46 607.87,509.3 606.03,511.14 604.19,509.3" fill="none" stroke="#3333dd" stroke-width="0.6"/>
<polygon points="607.14,521.91 608.98,523.75 607.14,525.59 605.3,523.75" fill="none" stroke="#3333dd" stroke-width="0.6"/>
<polygon points="605.41,518.55 607.25,520.39 605.41,522.23 603.57,520.39" fill="none" stroke="#3333dd" stroke-width="0.6"/>
<polygon points="606.9,520.66 608.74,522.5 606.9,524.34 605.06,522.5" fill="none" stroke="#3333dd" stroke-width="0.6"/>
<polygon points="605.78,516.14 607.62,517.98 605.78,519.82 603.94,517.98" fill="none" stroke="#3333dd" stroke-width="0.6"/>
<polygon points="606.98,520.27 608.82,522.11 606.98,523.95 605.14,522.11" fill="none" stroke="#3333dd" stroke-width="0.6"/>
<polygon points="605.46,516.25 607.3,518.09 605.46,519.93 603.62,518.09" fill="none" stroke="#3333dd" stroke-width="0.6"/>
<rect x="604" y="523.15" width="4.6" height="1.2" fill="#111"/>
<line x1="503.4" y1="485" x2="503.4" y2="571" stroke="#4a4a4a" stroke-width="1"/>
<line x1="502.9" y1="570.5" x2="609.7" y2="570.5" stroke="#4a4a4a" stroke-width="1"/>
<line x1="499.8" y1="570.5" x2="503.4" y2="570.5" stroke="#4a4a4a" stroke-width="0.9"/>
<text x="498.8" y="572.62" font-size="5.9" text-anchor="end" fill="#333" stroke="#333" stroke-width="0.18">0</text>
<line x1="499.8" y1="553.5" x2="503.4" y2="553.5" stroke="#4a4a4a" stroke-width="0.9"/>
<text x="498.8" y="555.62" font-size="5.9" text-anchor="end" fill="#333" stroke="#333" stroke-width="0.18">2000</text>
<line x1="499.8" y1="536.5" x2="503.4" y2="536.5" stroke="#4a4a4a" stroke-width="0.9"/>
<text x="498.8" y="538.62" font-size="5.9" text-anchor="end" fill="#333" stroke="#333" stroke-width="0.18">4000</text>
<line x1="499.8" y1="519.5" x2="503.4" y2="519.5" stroke="#4a4a4a" stroke-width="0.9"/>
<text x="498.8" y="521.62" font-size="5.9" text-anchor="end" fill="#333" stroke="#333" stroke-width="0.18">6000</text>
<line x1="499.8" y1="502.5" x2="503.4" y2="502.5" stroke="#4a4a4a" stroke-width="0.9"/>
<text x="498.8" y="504.62" font-size="5.9" text-anchor="end" fill="#333" stroke="#333" stroke-width="0.18">8000</text>
<line x1="499.8" y1="485.5" x2="503.4" y2="485.5" stroke="#4a4a4a" stroke-width="0.9"/>
<text x="498.8" y="487.62" font-size="5.9" text-anchor="end" fill="#333" stroke="#333" stroke-width="0.18">10000</text>
<line x1="516.5" y1="570.5" x2="516.5" y2="573.3" stroke="#4a4a4a" stroke-width="0.9"/>
<line x1="543.8" y1="570.5" x2="543.8" y2="573.3" stroke="#4a4a4a" stroke-width="0.9"/>
<line x1="570.4" y1="570.5" x2="570.4" y2="573.3" stroke="#4a4a4a" stroke-width="0.9"/>
<line x1="597.4" y1="570.5" x2="597.4" y2="573.3" stroke="#4a4a4a" stroke-width="0.9"/>
<line x1="507.7" y1="487.8" x2="525.4" y2="487.8" stroke="#333" stroke-width="0.75"/>
<text x="516.55" y="490.17" font-size="9" text-anchor="middle" font-weight="bold" fill="#111" stroke="#111" stroke-width="0.18">*</text>
<line x1="513.6" y1="493.1" x2="525.4" y2="493.1" stroke="#333" stroke-width="0.75"/>
<text x="519.5" y="495.47" font-size="9" text-anchor="middle" font-weight="bold" fill="#111" stroke="#111" stroke-width="0.18">*</text>
<line x1="507.7" y1="498.3" x2="519.5" y2="498.3" stroke="#333" stroke-width="0.75"/>
<text x="513.6" y="500.67" font-size="9" text-anchor="middle" font-weight="bold" fill="#111" stroke="#111" stroke-width="0.18">*</text>
<line x1="535" y1="493.1" x2="552.7" y2="493.1" stroke="#333" stroke-width="0.75"/>
<text x="543.85" y="495.47" font-size="9" text-anchor="middle" font-weight="bold" fill="#111" stroke="#111" stroke-width="0.18">**</text>
<line x1="540.9" y1="498.3" x2="552.7" y2="498.3" stroke="#333" stroke-width="0.75"/>
<text x="546.8" y="500.67" font-size="9" text-anchor="middle" font-weight="bold" fill="#111" stroke="#111" stroke-width="0.18">**</text>
<line x1="561.6" y1="482.2" x2="579.3" y2="482.2" stroke="#333" stroke-width="0.75"/>
<text x="570.45" y="484.57" font-size="9" text-anchor="middle" font-weight="bold" fill="#111" stroke="#111" stroke-width="0.18">****</text>
<line x1="567.5" y1="487.8" x2="579.3" y2="487.8" stroke="#333" stroke-width="0.75"/>
<text x="573.4" y="490.17" font-size="9" text-anchor="middle" font-weight="bold" fill="#111" stroke="#111" stroke-width="0.18">****</text>
<line x1="561.6" y1="493.1" x2="573.4" y2="493.1" stroke="#333" stroke-width="0.75"/>
<text x="567.5" y="495.47" font-size="9" text-anchor="middle" font-weight="bold" fill="#111" stroke="#111" stroke-width="0.18">***</text>
<line x1="567.5" y1="498.3" x2="573.4" y2="498.3" stroke="#333" stroke-width="0.75"/>
<text x="570.45" y="500.67" font-size="9" text-anchor="middle" font-weight="bold" fill="#111" stroke="#111" stroke-width="0.18">***</text>
<line x1="588.6" y1="487.8" x2="606.3" y2="487.8" stroke="#333" stroke-width="0.75"/>
<text x="597.45" y="490.17" font-size="9" text-anchor="middle" font-weight="bold" fill="#111" stroke="#111" stroke-width="0.18">**</text>
<line x1="594.5" y1="493.1" x2="606.3" y2="493.1" stroke="#333" stroke-width="0.75"/>
<text x="600.4" y="495.47" font-size="9" text-anchor="middle" font-weight="bold" fill="#111" stroke="#111" stroke-width="0.18">***</text>
<line x1="594.5" y1="498.3" x2="600.4" y2="498.3" stroke="#333" stroke-width="0.75"/>
<text x="597.45" y="500.67" font-size="9" text-anchor="middle" font-weight="bold" fill="#111" stroke="#111" stroke-width="0.18">*</text>
<text x="482" y="528" font-size="5.75" text-anchor="middle" fill="#222" transform="rotate(-90 482 528)" stroke="#222" stroke-width="0.18">PD-L1 MFI (CD11b+ cDC2)</text>
<text x="518.2" y="580" font-size="5.8" text-anchor="end" fill="#333" transform="rotate(-45 518.2 580)" stroke="#333" stroke-width="0.18">Non direct</text>
<text x="545.5" y="580" font-size="5.8" text-anchor="end" fill="#333" transform="rotate(-45 545.5 580)" stroke="#333" stroke-width="0.18">Kaede Red+</text>
<text x="572.1" y="580" font-size="5.8" text-anchor="end" fill="#333" transform="rotate(-45 572.1 580)" stroke="#333" stroke-width="0.18">mCherry+</text>
<text x="573.88" y="602.72" font-size="5.8" text-anchor="start" fill="#333" transform="rotate(-45 573.88 602.72)" stroke="#333" stroke-width="0.18">Kaede Red+</text>
<text x="578.69" y="607.53" font-size="5.8" text-anchor="start" fill="#333" transform="rotate(-45 578.69 607.53)" stroke="#333" stroke-width="0.18">mCherry+</text>
<circle cx="622.9" cy="510.2" r="1.8" fill="none" stroke="#222" stroke-width="0.7"/>
<text x="632.3" y="512.32" font-size="5.9" text-anchor="start" fill="#222" stroke="#222" stroke-width="0.18">PBS/vehicle</text>
<rect x="621.1" y="518.7" width="3.6" height="3.6" fill="none" stroke="#222" stroke-width="0.7"/>
<text x="632.3" y="522.62" font-size="5.9" text-anchor="start" fill="#222" stroke="#222" stroke-width="0.18">PBS/pal</text>
<polygon points="622.9,528.53 621.01,532.15 624.79,532.15" fill="none" stroke="#222" stroke-width="0.7"/>
<text x="632.3" y="532.72" font-size="5.9" text-anchor="start" fill="#222" stroke="#222" stroke-width="0.18">Rt3D/vehicle</text>
<polygon points="622.9,538.53 624.97,540.6 622.9,542.67 620.83,540.6" fill="none" stroke="#222" stroke-width="0.7"/>
<text x="632.3" y="542.72" font-size="5.9" text-anchor="start" fill="#222" stroke="#222" stroke-width="0.18">Rt3D/pal</text>
<text x="5" y="622.4" font-size="11" text-anchor="start" fill="#1a1a1a" stroke="#1a1a1a" stroke-width="0.18">D.</text>
<circle cx="59.23" cy="693.4" r="2.1" fill="none" stroke="#ee3a3a" stroke-width="0.75"/>
<circle cx="59.62" cy="706.69" r="2.1" fill="none" stroke="#ee3a3a" stroke-width="0.75"/>
<circle cx="60.93" cy="709.75" r="2.1" fill="none" stroke="#ee3a3a" stroke-width="0.75"/>
<circle cx="59.28" cy="710.77" r="2.1" fill="none" stroke="#ee3a3a" stroke-width="0.75"/>
<circle cx="59.43" cy="715.88" r="2.1" fill="none" stroke="#ee3a3a" stroke-width="0.75"/>
<circle cx="59.71" cy="716.91" r="2.1" fill="none" stroke="#ee3a3a" stroke-width="0.75"/>
<circle cx="58.26" cy="723.04" r="2.1" fill="none" stroke="#ee3a3a" stroke-width="0.75"/>
<rect x="54.7" y="709.66" width="9.4" height="1.2" fill="#111"/>
<rect x="68.34" y="683.12" width="4.2" height="4.2" fill="none" stroke="#ee3a3a" stroke-width="0.75"/>
<rect x="68.77" y="684.15" width="4.2" height="4.2" fill="none" stroke="#ee3a3a" stroke-width="0.75"/>
<rect x="69.35" y="685.17" width="4.2" height="4.2" fill="none" stroke="#ee3a3a" stroke-width="0.75"/>
<rect x="66.84" y="686.19" width="4.2" height="4.2" fill="none" stroke="#ee3a3a" stroke-width="0.75"/>
<rect x="67.59" y="693.34" width="4.2" height="4.2" fill="none" stroke="#ee3a3a" stroke-width="0.75"/>
<rect x="65.7" y="686.67" width="9.4" height="1.2" fill="#111"/>
<polygon points="80.43,680.76 78.22,684.99 82.63,684.99" fill="none" stroke="#ee3a3a" stroke-width="0.75"/>
<polygon points="83.01,687.92 80.81,692.15 85.22,692.15" fill="none" stroke="#ee3a3a" stroke-width="0.75"/>
<polygon points="82.6,694.05 80.39,698.28 84.8,698.28" fill="none" stroke="#ee3a3a" stroke-width="0.75"/>
<polygon points="80.25,695.07 78.05,699.3 82.46,699.3" fill="none" stroke="#ee3a3a" stroke-width="0.75"/>
<polygon points="83.64,697.12 81.43,701.34 85.84,701.34" fill="none" stroke="#ee3a3a" stroke-width="0.75"/>
<polygon points="83.57,703.25 81.37,707.48 85.78,707.48" fill="none" stroke="#ee3a3a" stroke-width="0.75"/>
<rect x="77.2" y="696.89" width="9.4" height="1.2" fill="#111"/>
<polygon points="93.95,652.15 96.37,654.56 93.95,656.98 91.54,654.56" fill="none" stroke="#ee3a3a" stroke-width="0.75"/>
<polygon points="93.82,680.76 96.23,683.18 93.82,685.59 91.4,683.18" fill="none" stroke="#ee3a3a" stroke-width="0.75"/>
<polygon points="92.17,681.79 94.58,684.2 92.17,686.62 89.75,684.2" fill="none" stroke="#ee3a3a" stroke-width="0.75"/>
<polygon points="91.65,685.88 94.07,688.29 91.65,690.7 89.24,688.29" fill="none" stroke="#ee3a3a" stroke-width="0.75"/>
<polygon points="93.5,702.23 95.92,704.64 93.5,707.06 91.09,704.64" fill="none" stroke="#ee3a3a" stroke-width="0.75"/>
<rect x="88.7" y="683.6" width="9.4" height="1.2" fill="#111"/>
<circle cx="111.11" cy="710.77" r="2.1" fill="none" stroke="#2b2b2b" stroke-width="0.75"/>
<circle cx="111.58" cy="711.28" r="2.1" fill="none" stroke="#2b2b2b" stroke-width="0.75"/>
<circle cx="111.77" cy="722.02" r="2.1" fill="none" stroke="#2b2b2b" stroke-width="0.75"/>
<circle cx="111.01" cy="723.04" r="2.1" fill="none" stroke="#2b2b2b" stroke-width="0.75"/>
<circle cx="112.57" cy="724.06" r="2.1" fill="none" stroke="#2b2b2b" stroke-width="0.75"/>
<circle cx="112.49" cy="734.28" r="2.1" fill="none" stroke="#2b2b2b" stroke-width="0.75"/>
<rect x="108" y="721.42" width="9.4" height="1.2" fill="#111"/>
<rect x="122.83" y="691.3" width="4.2" height="4.2" fill="none" stroke="#2b2b2b" stroke-width="0.75"/>
<rect x="121.67" y="694.37" width="4.2" height="4.2" fill="none" stroke="#2b2b2b" stroke-width="0.75"/>
<rect x="122.11" y="697.43" width="4.2" height="4.2" fill="none" stroke="#2b2b2b" stroke-width="0.75"/>
<rect x="121.6" y="698.45" width="4.2" height="4.2" fill="none" stroke="#2b2b2b" stroke-width="0.75"/>
<rect x="122.18" y="701.52" width="4.2" height="4.2" fill="none" stroke="#2b2b2b" stroke-width="0.75"/>
<rect x="121.45" y="703.56" width="4.2" height="4.2" fill="none" stroke="#2b2b2b" stroke-width="0.75"/>
<rect x="119" y="698.93" width="9.4" height="1.2" fill="#111"/>
<polygon points="134.4,702.23 132.2,706.45 136.61,706.45" fill="none" stroke="#2b2b2b" stroke-width="0.75"/>
<polygon points="136.99,705.29 134.79,709.52 139.2,709.52" fill="none" stroke="#2b2b2b" stroke-width="0.75"/>
<polygon points="136.98,709.38 134.78,713.61 139.19,713.61" fill="none" stroke="#2b2b2b" stroke-width="0.75"/>
<polygon points="136.42,710.4 134.22,714.63 138.63,714.63" fill="none" stroke="#2b2b2b" stroke-width="0.75"/>
<polygon points="135.95,713.47 133.74,717.7 138.15,717.7" fill="none" stroke="#2b2b2b" stroke-width="0.75"/>
<polygon points="134.53,716.54 132.33,720.76 136.74,720.76" fill="none" stroke="#2b2b2b" stroke-width="0.75"/>
<rect x="130.5" y="711.2" width="9.4" height="1.2" fill="#111"/>
<polygon points="145.73,664.41 148.14,666.83 145.73,669.24 143.31,666.83" fill="none" stroke="#2b2b2b" stroke-width="0.75"/>
<polygon points="145.94,692.01 148.36,694.42 145.94,696.84 143.53,694.42" fill="none" stroke="#2b2b2b" stroke-width="0.75"/>
<polygon points="145.15,693.03 147.57,695.44 145.15,697.86 142.74,695.44" fill="none" stroke="#2b2b2b" stroke-width="0.75"/>
<polygon points="147.66,707.34 150.07,709.75 147.66,712.17 145.24,709.75" fill="none" stroke="#2b2b2b" stroke-width="0.75"/>
<polygon points="146.34,727.78 148.76,730.19 146.34,732.61 143.93,730.19" fill="none" stroke="#2b2b2b" stroke-width="0.75"/>
<rect x="142" y="694.84" width="9.4" height="1.2" fill="#111"/>
<line x1="52.3" y1="641.8" x2="52.3" y2="745" stroke="#4a4a4a" stroke-width="1.1"/>
<line x1="51.8" y1="744.5" x2="153.8" y2="744.5" stroke="#4a4a4a" stroke-width="1.1"/>
<line x1="47.9" y1="744.5" x2="52.3" y2="744.5" stroke="#4a4a4a" stroke-width="0.99"/>
<text x="46.9" y="747.27" font-size="7.7" text-anchor="end" font-weight="bold" fill="#222" stroke="#222" stroke-width="0.18">0</text>
<line x1="47.9" y1="724.06" x2="52.3" y2="724.06" stroke="#4a4a4a" stroke-width="0.99"/>
<text x="46.9" y="726.83" font-size="7.7" text-anchor="end" font-weight="bold" fill="#222" stroke="#222" stroke-width="0.18">2000</text>
<line x1="47.9" y1="703.62" x2="52.3" y2="703.62" stroke="#4a4a4a" stroke-width="0.99"/>
<text x="46.9" y="706.39" font-size="7.7" text-anchor="end" font-weight="bold" fill="#222" stroke="#222" stroke-width="0.18">4000</text>
<line x1="47.9" y1="683.18" x2="52.3" y2="683.18" stroke="#4a4a4a" stroke-width="0.99"/>
<text x="46.9" y="685.95" font-size="7.7" text-anchor="end" font-weight="bold" fill="#222" stroke="#222" stroke-width="0.18">6000</text>
<line x1="47.9" y1="662.74" x2="52.3" y2="662.74" stroke="#4a4a4a" stroke-width="0.99"/>
<text x="46.9" y="665.51" font-size="7.7" text-anchor="end" font-weight="bold" fill="#222" stroke="#222" stroke-width="0.18">8000</text>
<line x1="47.9" y1="642.3" x2="52.3" y2="642.3" stroke="#4a4a4a" stroke-width="0.99"/>
<text x="46.9" y="645.07" font-size="7.7" text-anchor="end" font-weight="bold" fill="#222" stroke="#222" stroke-width="0.18">10000</text>
<line x1="76.2" y1="744.5" x2="76.2" y2="747.3" stroke="#4a4a4a" stroke-width="0.99"/>
<line x1="129.5" y1="744.5" x2="129.5" y2="747.3" stroke="#4a4a4a" stroke-width="0.99"/>
<line x1="59.4" y1="641" x2="93.4" y2="641" stroke="#333" stroke-width="0.95"/>
<text x="76.4" y="643.73" font-size="10.5" text-anchor="middle" font-weight="bold" fill="#111" stroke="#111" stroke-width="0.18">***</text>
<line x1="59.4" y1="648" x2="70.4" y2="648" stroke="#333" stroke-width="0.95"/>
<text x="64.9" y="650.73" font-size="10.5" text-anchor="middle" font-weight="bold" fill="#111" stroke="#111" stroke-width="0.18">**</text>
<line x1="112.7" y1="641" x2="146.7" y2="641" stroke="#333" stroke-width="0.95"/>
<text x="129.7" y="643.73" font-size="10.5" text-anchor="middle" font-weight="bold" fill="#111" stroke="#111" stroke-width="0.18">**</text>
<line x1="112.7" y1="648" x2="123.7" y2="648" stroke="#333" stroke-width="0.95"/>
<text x="118.2" y="650.73" font-size="10.5" text-anchor="middle" font-weight="bold" fill="#111" stroke="#111" stroke-width="0.18">*</text>
<text x="20.1" y="693.4" font-size="8.35" text-anchor="middle" fill="#222" transform="rotate(-90 20.1 693.4)" stroke="#222" stroke-width="0.18">CD80 MFI (CD103+ cDC1)</text>
<text x="78.2" y="756.8" font-size="8" text-anchor="end" fill="#333" transform="rotate(-45 78.2 756.8)" stroke="#333" stroke-width="0.18">mCherry+ cDC1</text>
<text x="131.5" y="756.8" font-size="8" text-anchor="end" fill="#333" transform="rotate(-45 131.5 756.8)" stroke="#333" stroke-width="0.18">mCherry- cDC1</text>
<circle cx="213.11" cy="719.97" r="2.1" fill="none" stroke="#ee3a3a" stroke-width="0.75"/>
<circle cx="213.77" cy="723.04" r="2.1" fill="none" stroke="#ee3a3a" stroke-width="0.75"/>
<circle cx="213.8" cy="731.21" r="2.1" fill="none" stroke="#ee3a3a" stroke-width="0.75"/>
<circle cx="211.91" cy="733.26" r="2.1" fill="none" stroke="#ee3a3a" stroke-width="0.75"/>
<circle cx="211.44" cy="734.28" r="2.1" fill="none" stroke="#ee3a3a" stroke-width="0.75"/>
<circle cx="212.75" cy="734.28" r="2.1" fill="none" stroke="#ee3a3a" stroke-width="0.75"/>
<rect x="208.5" y="730.61" width="9.4" height="1.2" fill="#111"/>
<rect x="221.29" y="720.94" width="4.2" height="4.2" fill="none" stroke="#ee3a3a" stroke-width="0.75"/>
<rect x="223.22" y="721.96" width="4.2" height="4.2" fill="none" stroke="#ee3a3a" stroke-width="0.75"/>
<rect x="222.79" y="722.98" width="4.2" height="4.2" fill="none" stroke="#ee3a3a" stroke-width="0.75"/>
<rect x="222.47" y="724" width="4.2" height="4.2" fill="none" stroke="#ee3a3a" stroke-width="0.75"/>
<rect x="222.31" y="724" width="4.2" height="4.2" fill="none" stroke="#ee3a3a" stroke-width="0.75"/>
<rect x="219.5" y="724.48" width="9.4" height="1.2" fill="#111"/>
<polygon points="236.28,699.16 234.08,703.39 238.49,703.39" fill="none" stroke="#ee3a3a" stroke-width="0.75"/>
<polygon points="234.42,701.21 232.22,705.43 236.63,705.43" fill="none" stroke="#ee3a3a" stroke-width="0.75"/>
<polygon points="235.48,702.23 233.28,706.45 237.69,706.45" fill="none" stroke="#ee3a3a" stroke-width="0.75"/>
<polygon points="234.48,712.45 232.28,716.67 236.69,716.67" fill="none" stroke="#ee3a3a" stroke-width="0.75"/>
<polygon points="237.16,715.51 234.96,719.74 239.37,719.74" fill="none" stroke="#ee3a3a" stroke-width="0.75"/>
<polygon points="234.11,717.56 231.91,721.78 236.32,721.78" fill="none" stroke="#ee3a3a" stroke-width="0.75"/>
<rect x="231" y="714.26" width="9.4" height="1.2" fill="#111"/>
<polygon points="248.35,646.02 250.76,648.43 248.35,650.85 245.93,648.43" fill="none" stroke="#ee3a3a" stroke-width="0.75"/>
<polygon points="245.67,653.17 248.08,655.59 245.67,658 243.25,655.59" fill="none" stroke="#ee3a3a" stroke-width="0.75"/>
<polygon points="247.87,681.79 250.29,684.2 247.87,686.62 245.46,684.2" fill="none" stroke="#ee3a3a" stroke-width="0.75"/>
<polygon points="246.61,688.94 249.03,691.36 246.61,693.77 244.2,691.36" fill="none" stroke="#ee3a3a" stroke-width="0.75"/>
<polygon points="246.86,700.18 249.27,702.6 246.86,705.01 244.44,702.6" fill="none" stroke="#ee3a3a" stroke-width="0.75"/>
<rect x="242.5" y="683.6" width="9.4" height="1.2" fill="#111"/>
<circle cx="267.73" cy="733.26" r="2.1" fill="none" stroke="#2b2b2b" stroke-width="0.75"/>
<circle cx="264.77" cy="734.28" r="2.1" fill="none" stroke="#2b2b2b" stroke-width="0.75"/>
<circle cx="264.92" cy="736.32" r="2.1" fill="none" stroke="#2b2b2b" stroke-width="0.75"/>
<circle cx="267.99" cy="738.37" r="2.1" fill="none" stroke="#2b2b2b" stroke-width="0.75"/>
<circle cx="266.53" cy="742.46" r="2.1" fill="none" stroke="#2b2b2b" stroke-width="0.75"/>
<rect x="261.8" y="735.72" width="9.4" height="1.2" fill="#111"/>
<rect x="273.93" y="729.11" width="4.2" height="4.2" fill="none" stroke="#2b2b2b" stroke-width="0.75"/>
<rect x="277.15" y="730.14" width="4.2" height="4.2" fill="none" stroke="#2b2b2b" stroke-width="0.75"/>
<rect x="277.01" y="731.16" width="4.2" height="4.2" fill="none" stroke="#2b2b2b" stroke-width="0.75"/>
<rect x="274.01" y="731.16" width="4.2" height="4.2" fill="none" stroke="#2b2b2b" stroke-width="0.75"/>
<rect x="275.12" y="732.18" width="4.2" height="4.2" fill="none" stroke="#2b2b2b" stroke-width="0.75"/>
<rect x="272.8" y="732.66" width="9.4" height="1.2" fill="#111"/>
<polygon points="287.69,718.58 285.48,722.81 289.89,722.81" fill="none" stroke="#2b2b2b" stroke-width="0.75"/>
<polygon points="288.33,720.62 286.12,724.85 290.53,724.85" fill="none" stroke="#2b2b2b" stroke-width="0.75"/>
<polygon points="289.44,722.67 287.23,726.89 291.64,726.89" fill="none" stroke="#2b2b2b" stroke-width="0.75"/>
<polygon points="287.79,724.71 285.58,728.94 289.99,728.94" fill="none" stroke="#2b2b2b" stroke-width="0.75"/>
<polygon points="289.71,733.91 287.5,738.14 291.91,738.14" fill="none" stroke="#2b2b2b" stroke-width="0.75"/>
<rect x="284.3" y="724.48" width="9.4" height="1.2" fill="#111"/>
<polygon points="298.88,683.83 301.3,686.25 298.88,688.66 296.47,686.25" fill="none" stroke="#2b2b2b" stroke-width="0.75"/>
<polygon points="299.32,694.05 301.73,696.47 299.32,698.88 296.9,696.47" fill="none" stroke="#2b2b2b" stroke-width="0.75"/>
<polygon points="301.64,708.36 304.05,710.77 301.64,713.19 299.22,710.77" fill="none" stroke="#2b2b2b" stroke-width="0.75"/>
<polygon points="300.14,718.58 302.56,720.99 300.14,723.41 297.73,720.99" fill="none" stroke="#2b2b2b" stroke-width="0.75"/>
<polygon points="300.21,722.67 302.62,725.08 300.21,727.5 297.79,725.08" fill="none" stroke="#2b2b2b" stroke-width="0.75"/>
<polygon points="300.85,739.02 303.26,741.43 300.85,743.85 298.43,741.43" fill="none" stroke="#2b2b2b" stroke-width="0.75"/>
<rect x="295.8" y="715.28" width="9.4" height="1.2" fill="#111"/>
<line x1="205.4" y1="641.8" x2="205.4" y2="745" stroke="#4a4a4a" stroke-width="1.1"/>
<line x1="204.9" y1="744.5" x2="307.6" y2="744.5" stroke="#4a4a4a" stroke-width="1.1"/>
<line x1="201" y1="744.5" x2="205.4" y2="744.5" stroke="#4a4a4a" stroke-width="0.99"/>
<text x="200" y="747.27" font-size="7.7" text-anchor="end" font-weight="bold" fill="#222" stroke="#222" stroke-width="0.18">0</text>
<line x1="201" y1="724.06" x2="205.4" y2="724.06" stroke="#4a4a4a" stroke-width="0.99"/>
<text x="200" y="726.83" font-size="7.7" text-anchor="end" font-weight="bold" fill="#222" stroke="#222" stroke-width="0.18">2000</text>
<line x1="201" y1="703.62" x2="205.4" y2="703.62" stroke="#4a4a4a" stroke-width="0.99"/>
<text x="200" y="706.39" font-size="7.7" text-anchor="end" font-weight="bold" fill="#222" stroke="#222" stroke-width="0.18">4000</text>
<line x1="201" y1="683.18" x2="205.4" y2="683.18" stroke="#4a4a4a" stroke-width="0.99"/>
<text x="200" y="685.95" font-size="7.7" text-anchor="end" font-weight="bold" fill="#222" stroke="#222" stroke-width="0.18">6000</text>
<line x1="201" y1="662.74" x2="205.4" y2="662.74" stroke="#4a4a4a" stroke-width="0.99"/>
<text x="200" y="665.51" font-size="7.7" text-anchor="end" font-weight="bold" fill="#222" stroke="#222" stroke-width="0.18">8000</text>
<line x1="201" y1="642.3" x2="205.4" y2="642.3" stroke="#4a4a4a" stroke-width="0.99"/>
<text x="200" y="645.07" font-size="7.7" text-anchor="end" font-weight="bold" fill="#222" stroke="#222" stroke-width="0.18">10000</text>
<line x1="230" y1="744.5" x2="230" y2="747.3" stroke="#4a4a4a" stroke-width="0.99"/>
<line x1="283.3" y1="744.5" x2="283.3" y2="747.3" stroke="#4a4a4a" stroke-width="0.99"/>
<line x1="213.2" y1="624.1" x2="247.2" y2="624.1" stroke="#333" stroke-width="0.95"/>
<text x="230.2" y="626.83" font-size="10.5" text-anchor="middle" font-weight="bold" fill="#111" stroke="#111" stroke-width="0.18">****</text>
<line x1="224.2" y1="632.3" x2="247.2" y2="632.3" stroke="#333" stroke-width="0.95"/>
<text x="235.7" y="635.03" font-size="10.5" text-anchor="middle" font-weight="bold" fill="#111" stroke="#111" stroke-width="0.18">****</text>
<line x1="213.2" y1="641.5" x2="235.7" y2="641.5" stroke="#333" stroke-width="0.95"/>
<text x="224.45" y="644.23" font-size="10.5" text-anchor="middle" font-weight="bold" fill="#111" stroke="#111" stroke-width="0.18">*</text>
<line x1="235.7" y1="641.5" x2="247.2" y2="641.5" stroke="#333" stroke-width="0.95"/>
<text x="241.45" y="644.23" font-size="10.5" text-anchor="middle" font-weight="bold" fill="#111" stroke="#111" stroke-width="0.18">****</text>
<line x1="266.5" y1="632.3" x2="300.5" y2="632.3" stroke="#333" stroke-width="0.95"/>
<text x="283.5" y="635.03" font-size="10.5" text-anchor="middle" font-weight="bold" fill="#111" stroke="#111" stroke-width="0.18">**</text>
<line x1="277.5" y1="641.5" x2="300.5" y2="641.5" stroke="#333" stroke-width="0.95"/>
<text x="289" y="644.23" font-size="10.5" text-anchor="middle" font-weight="bold" fill="#111" stroke="#111" stroke-width="0.18">*</text>
<text x="172.6" y="693.4" font-size="8.35" text-anchor="middle" fill="#222" transform="rotate(-90 172.6 693.4)" stroke="#222" stroke-width="0.18">CD86 MFI (CD103+ cDC1)</text>
<text x="232" y="756.8" font-size="8" text-anchor="end" fill="#333" transform="rotate(-45 232 756.8)" stroke="#333" stroke-width="0.18">mCherry+ cDC1</text>
<text x="285.3" y="756.8" font-size="8" text-anchor="end" fill="#333" transform="rotate(-45 285.3 756.8)" stroke="#333" stroke-width="0.18">mCherry- cDC1</text>
<circle cx="361.13" cy="672.14" r="2.1" fill="none" stroke="#ee3a3a" stroke-width="0.75"/>
<circle cx="362.67" cy="683.59" r="2.1" fill="none" stroke="#ee3a3a" stroke-width="0.75"/>
<circle cx="362.66" cy="703.62" r="2.1" fill="none" stroke="#ee3a3a" stroke-width="0.75"/>
<circle cx="363.26" cy="713.84" r="2.1" fill="none" stroke="#ee3a3a" stroke-width="0.75"/>
<circle cx="360.87" cy="715.88" r="2.1" fill="none" stroke="#ee3a3a" stroke-width="0.75"/>
<circle cx="361.03" cy="726.1" r="2.1" fill="none" stroke="#ee3a3a" stroke-width="0.75"/>
<rect x="357.3" y="713.65" width="9.4" height="1.2" fill="#111"/>
<rect x="369.63" y="691.3" width="4.2" height="4.2" fill="none" stroke="#ee3a3a" stroke-width="0.75"/>
<rect x="369.91" y="695.39" width="4.2" height="4.2" fill="none" stroke="#ee3a3a" stroke-width="0.75"/>
<rect x="371.74" y="697.43" width="4.2" height="4.2" fill="none" stroke="#ee3a3a" stroke-width="0.75"/>
<rect x="369.57" y="699.48" width="4.2" height="4.2" fill="none" stroke="#ee3a3a" stroke-width="0.75"/>
<rect x="371.01" y="701.52" width="4.2" height="4.2" fill="none" stroke="#ee3a3a" stroke-width="0.75"/>
<rect x="368.3" y="698.11" width="9.4" height="1.2" fill="#111"/>
<polygon points="383.47,663.19 381.27,667.41 385.68,667.41" fill="none" stroke="#ee3a3a" stroke-width="0.75"/>
<polygon points="383.76,671.36 381.56,675.59 385.97,675.59" fill="none" stroke="#ee3a3a" stroke-width="0.75"/>
<polygon points="384.25,676.68 382.05,680.9 386.46,680.9" fill="none" stroke="#ee3a3a" stroke-width="0.75"/>
<polygon points="385.72,680.76 383.51,684.99 387.92,684.99" fill="none" stroke="#ee3a3a" stroke-width="0.75"/>
<polygon points="384.89,684.04 382.69,688.26 387.1,688.26" fill="none" stroke="#ee3a3a" stroke-width="0.75"/>
<polygon points="382.75,702.84 380.55,707.07 384.96,707.07" fill="none" stroke="#ee3a3a" stroke-width="0.75"/>
<rect x="379.8" y="681.76" width="9.4" height="1.2" fill="#111"/>
<polygon points="395.19,661.14 397.61,663.56 395.19,665.97 392.78,663.56" fill="none" stroke="#ee3a3a" stroke-width="0.75"/>
<polygon points="394.73,666.46 397.14,668.87 394.73,671.29 392.31,668.87" fill="none" stroke="#ee3a3a" stroke-width="0.75"/>
<polygon points="397.34,672.59 399.75,675 397.34,677.42 394.92,675" fill="none" stroke="#ee3a3a" stroke-width="0.75"/>
<polygon points="397.12,695.07 399.53,697.49 397.12,699.9 394.7,697.49" fill="none" stroke="#ee3a3a" stroke-width="0.75"/>
<polygon points="397.1,695.89 399.52,698.31 397.1,700.72 394.69,698.31" fill="none" stroke="#ee3a3a" stroke-width="0.75"/>
<rect x="391.3" y="674.4" width="9.4" height="1.2" fill="#111"/>
<circle cx="416.57" cy="710.57" r="2.1" fill="none" stroke="#2b2b2b" stroke-width="0.75"/>
<circle cx="416.28" cy="717.93" r="2.1" fill="none" stroke="#2b2b2b" stroke-width="0.75"/>
<circle cx="417.02" cy="728.15" r="2.1" fill="none" stroke="#2b2b2b" stroke-width="0.75"/>
<circle cx="416.46" cy="728.97" r="2.1" fill="none" stroke="#2b2b2b" stroke-width="0.75"/>
<circle cx="414.52" cy="741.64" r="2.1" fill="none" stroke="#2b2b2b" stroke-width="0.75"/>
<rect x="410.7" y="727.96" width="9.4" height="1.2" fill="#111"/>
<rect x="425.56" y="713.78" width="4.2" height="4.2" fill="none" stroke="#2b2b2b" stroke-width="0.75"/>
<rect x="424.25" y="715.01" width="4.2" height="4.2" fill="none" stroke="#2b2b2b" stroke-width="0.75"/>
<rect x="425.22" y="715.83" width="4.2" height="4.2" fill="none" stroke="#2b2b2b" stroke-width="0.75"/>
<rect x="424.53" y="717.87" width="4.2" height="4.2" fill="none" stroke="#2b2b2b" stroke-width="0.75"/>
<rect x="424.05" y="721.14" width="4.2" height="4.2" fill="none" stroke="#2b2b2b" stroke-width="0.75"/>
<rect x="421.7" y="717.74" width="9.4" height="1.2" fill="#111"/>
<polygon points="437.41,693.03 435.21,697.26 439.62,697.26" fill="none" stroke="#2b2b2b" stroke-width="0.75"/>
<polygon points="437.65,697.12 435.44,701.34 439.85,701.34" fill="none" stroke="#2b2b2b" stroke-width="0.75"/>
<polygon points="437.23,701.21 435.02,705.43 439.43,705.43" fill="none" stroke="#2b2b2b" stroke-width="0.75"/>
<polygon points="436.52,705.29 434.32,709.52 438.73,709.52" fill="none" stroke="#2b2b2b" stroke-width="0.75"/>
<polygon points="439.05,707.34 436.85,711.56 441.26,711.56" fill="none" stroke="#2b2b2b" stroke-width="0.75"/>
<rect x="433.2" y="703.84" width="9.4" height="1.2" fill="#111"/>
<polygon points="450.47,661.96 452.89,664.38 450.47,666.79 448.06,664.38" fill="none" stroke="#2b2b2b" stroke-width="0.75"/>
<polygon points="451.15,682.81 453.56,685.22 451.15,687.64 448.73,685.22" fill="none" stroke="#2b2b2b" stroke-width="0.75"/>
<polygon points="450.09,684.85 452.5,687.27 450.09,689.68 447.67,687.27" fill="none" stroke="#2b2b2b" stroke-width="0.75"/>
<polygon points="449.6,693.03 452.01,695.44 449.6,697.86 447.18,695.44" fill="none" stroke="#2b2b2b" stroke-width="0.75"/>
<polygon points="450.29,711.43 452.71,713.84 450.29,716.25 447.88,713.84" fill="none" stroke="#2b2b2b" stroke-width="0.75"/>
<polygon points="448.09,717.56 450.5,719.97 448.09,722.39 445.67,719.97" fill="none" stroke="#2b2b2b" stroke-width="0.75"/>
<rect x="444.7" y="690.76" width="9.4" height="1.2" fill="#111"/>
<line x1="354.7" y1="641.8" x2="354.7" y2="745" stroke="#4a4a4a" stroke-width="1.1"/>
<line x1="354.2" y1="744.5" x2="456.5" y2="744.5" stroke="#4a4a4a" stroke-width="1.1"/>
<line x1="350.3" y1="744.5" x2="354.7" y2="744.5" stroke="#4a4a4a" stroke-width="0.99"/>
<text x="349.3" y="747.27" font-size="7.7" text-anchor="end" font-weight="bold" fill="#222" stroke="#222" stroke-width="0.18">0</text>
<line x1="350.3" y1="724.06" x2="354.7" y2="724.06" stroke="#4a4a4a" stroke-width="0.99"/>
<text x="349.3" y="726.83" font-size="7.7" text-anchor="end" font-weight="bold" fill="#222" stroke="#222" stroke-width="0.18">500</text>
<line x1="350.3" y1="703.62" x2="354.7" y2="703.62" stroke="#4a4a4a" stroke-width="0.99"/>
<text x="349.3" y="706.39" font-size="7.7" text-anchor="end" font-weight="bold" fill="#222" stroke="#222" stroke-width="0.18">1000</text>
<line x1="350.3" y1="683.18" x2="354.7" y2="683.18" stroke="#4a4a4a" stroke-width="0.99"/>
<text x="349.3" y="685.95" font-size="7.7" text-anchor="end" font-weight="bold" fill="#222" stroke="#222" stroke-width="0.18">1500</text>
<line x1="350.3" y1="662.74" x2="354.7" y2="662.74" stroke="#4a4a4a" stroke-width="0.99"/>
<text x="349.3" y="665.51" font-size="7.7" text-anchor="end" font-weight="bold" fill="#222" stroke="#222" stroke-width="0.18">2000</text>
<line x1="350.3" y1="642.3" x2="354.7" y2="642.3" stroke="#4a4a4a" stroke-width="0.99"/>
<text x="349.3" y="645.07" font-size="7.7" text-anchor="end" font-weight="bold" fill="#222" stroke="#222" stroke-width="0.18">2500</text>
<line x1="378.8" y1="744.5" x2="378.8" y2="747.3" stroke="#4a4a4a" stroke-width="0.99"/>
<line x1="432.2" y1="744.5" x2="432.2" y2="747.3" stroke="#4a4a4a" stroke-width="0.99"/>
<line x1="362" y1="646.5" x2="396" y2="646.5" stroke="#333" stroke-width="0.95"/>
<text x="379" y="649.23" font-size="10.5" text-anchor="middle" font-weight="bold" fill="#111" stroke="#111" stroke-width="0.18">*</text>
<line x1="362" y1="654.7" x2="384.5" y2="654.7" stroke="#333" stroke-width="0.95"/>
<text x="373.25" y="657.43" font-size="10.5" text-anchor="middle" font-weight="bold" fill="#111" stroke="#111" stroke-width="0.18">*</text>
<line x1="415.4" y1="639.3" x2="449.4" y2="639.3" stroke="#333" stroke-width="0.95"/>
<text x="432.4" y="642.03" font-size="10.5" text-anchor="middle" font-weight="bold" fill="#111" stroke="#111" stroke-width="0.18">***</text>
<line x1="415.4" y1="646.5" x2="437.9" y2="646.5" stroke="#333" stroke-width="0.95"/>
<text x="426.65" y="649.23" font-size="10.5" text-anchor="middle" font-weight="bold" fill="#111" stroke="#111" stroke-width="0.18">**</text>
<line x1="426.4" y1="654.7" x2="449.4" y2="654.7" stroke="#333" stroke-width="0.95"/>
<text x="437.9" y="657.43" font-size="10.5" text-anchor="middle" font-weight="bold" fill="#111" stroke="#111" stroke-width="0.18">*</text>
<text x="326.9" y="693.4" font-size="8.35" text-anchor="middle" fill="#222" transform="rotate(-90 326.9 693.4)" stroke="#222" stroke-width="0.18">CD40 MFI (CD103+ cDC1)</text>
<text x="380.8" y="756.8" font-size="8" text-anchor="end" fill="#333" transform="rotate(-45 380.8 756.8)" stroke="#333" stroke-width="0.18">mCherry+ cDC1</text>
<text x="434.2" y="756.8" font-size="8" text-anchor="end" fill="#333" transform="rotate(-45 434.2 756.8)" stroke="#333" stroke-width="0.18">mCherry- cDC1</text>
<circle cx="509.68" cy="718.31" r="2.1" fill="none" stroke="#ee3a3a" stroke-width="0.75"/>
<circle cx="511.83" cy="724.74" r="2.1" fill="none" stroke="#ee3a3a" stroke-width="0.75"/>
<circle cx="511.65" cy="728.59" r="2.1" fill="none" stroke="#ee3a3a" stroke-width="0.75"/>
<circle cx="512.69" cy="734.25" r="2.1" fill="none" stroke="#ee3a3a" stroke-width="0.75"/>
<circle cx="510.28" cy="735.53" r="2.1" fill="none" stroke="#ee3a3a" stroke-width="0.75"/>
<circle cx="510.22" cy="735.79" r="2.1" fill="none" stroke="#ee3a3a" stroke-width="0.75"/>
<rect x="506.4" y="733.91" width="9.4" height="1.2" fill="#111"/>
<rect x="520.84" y="726.49" width="4.2" height="4.2" fill="none" stroke="#ee3a3a" stroke-width="0.75"/>
<rect x="520.57" y="727.78" width="4.2" height="4.2" fill="none" stroke="#ee3a3a" stroke-width="0.75"/>
<rect x="519.29" y="729.06" width="4.2" height="4.2" fill="none" stroke="#ee3a3a" stroke-width="0.75"/>
<rect x="520.66" y="730.35" width="4.2" height="4.2" fill="none" stroke="#ee3a3a" stroke-width="0.75"/>
<rect x="519.63" y="730.86" width="4.2" height="4.2" fill="none" stroke="#ee3a3a" stroke-width="0.75"/>
<rect x="517.4" y="731.85" width="9.4" height="1.2" fill="#111"/>
<polygon points="534.6,694.06 532.39,698.28 536.8,698.28" fill="none" stroke="#ee3a3a" stroke-width="0.75"/>
<polygon points="532.23,700.48 530.02,704.71 534.43,704.71" fill="none" stroke="#ee3a3a" stroke-width="0.75"/>
<polygon points="532.6,704.34 530.4,708.56 534.81,708.56" fill="none" stroke="#ee3a3a" stroke-width="0.75"/>
<polygon points="535.05,710.76 532.84,714.99 537.25,714.99" fill="none" stroke="#ee3a3a" stroke-width="0.75"/>
<polygon points="533.09,717.18 530.88,721.41 535.29,721.41" fill="none" stroke="#ee3a3a" stroke-width="0.75"/>
<polygon points="532.74,717.7 530.53,721.93 534.94,721.93" fill="none" stroke="#ee3a3a" stroke-width="0.75"/>
<rect x="528.9" y="706.15" width="9.4" height="1.2" fill="#111"/>
<polygon points="546.2,647.8 548.61,650.21 546.2,652.62 543.78,650.21" fill="none" stroke="#ee3a3a" stroke-width="0.75"/>
<polygon points="545.57,673.5 547.99,675.91 545.57,678.32 543.16,675.91" fill="none" stroke="#ee3a3a" stroke-width="0.75"/>
<polygon points="543.84,692.77 546.25,695.18 543.84,697.6 541.42,695.18" fill="none" stroke="#ee3a3a" stroke-width="0.75"/>
<polygon points="545.28,695.34 547.7,697.75 545.28,700.17 542.87,697.75" fill="none" stroke="#ee3a3a" stroke-width="0.75"/>
<polygon points="545.69,696.62 548.11,699.04 545.69,701.45 543.28,699.04" fill="none" stroke="#ee3a3a" stroke-width="0.75"/>
<rect x="540.4" y="694.58" width="9.4" height="1.2" fill="#111"/>
<circle cx="563.79" cy="724.23" r="2.1" fill="none" stroke="#2b2b2b" stroke-width="0.75"/>
<circle cx="565.55" cy="724.74" r="2.1" fill="none" stroke="#2b2b2b" stroke-width="0.75"/>
<circle cx="563.64" cy="738.62" r="2.1" fill="none" stroke="#2b2b2b" stroke-width="0.75"/>
<circle cx="564.41" cy="739.65" r="2.1" fill="none" stroke="#2b2b2b" stroke-width="0.75"/>
<circle cx="563.5" cy="742.22" r="2.1" fill="none" stroke="#2b2b2b" stroke-width="0.75"/>
<rect x="560.3" y="738.27" width="9.4" height="1.2" fill="#111"/>
<rect x="572.84" y="732.41" width="4.2" height="4.2" fill="none" stroke="#2b2b2b" stroke-width="0.75"/>
<rect x="575.62" y="733.43" width="4.2" height="4.2" fill="none" stroke="#2b2b2b" stroke-width="0.75"/>
<rect x="573.55" y="734.72" width="4.2" height="4.2" fill="none" stroke="#2b2b2b" stroke-width="0.75"/>
<rect x="575.67" y="736" width="4.2" height="4.2" fill="none" stroke="#2b2b2b" stroke-width="0.75"/>
<rect x="573.68" y="736.77" width="4.2" height="4.2" fill="none" stroke="#2b2b2b" stroke-width="0.75"/>
<rect x="571.3" y="736.99" width="9.4" height="1.2" fill="#111"/>
<polygon points="587.89,709.99 585.68,714.22 590.09,714.22" fill="none" stroke="#2b2b2b" stroke-width="0.75"/>
<polygon points="588.84,712.04 586.64,716.27 591.05,716.27" fill="none" stroke="#2b2b2b" stroke-width="0.75"/>
<polygon points="588.17,713.33 585.97,717.56 590.38,717.56" fill="none" stroke="#2b2b2b" stroke-width="0.75"/>
<polygon points="586.1,722.33 583.9,726.55 588.31,726.55" fill="none" stroke="#2b2b2b" stroke-width="0.75"/>
<polygon points="587.82,726.18 585.62,730.41 590.03,730.41" fill="none" stroke="#2b2b2b" stroke-width="0.75"/>
<polygon points="587.98,730.55 585.78,734.78 590.19,734.78" fill="none" stroke="#2b2b2b" stroke-width="0.75"/>
<rect x="582.8" y="715.14" width="9.4" height="1.2" fill="#111"/>
<polygon points="597.85,682.49 600.27,684.9 597.85,687.32 595.44,684.9" fill="none" stroke="#2b2b2b" stroke-width="0.75"/>
<polygon points="597.54,688.91 599.96,691.33 597.54,693.74 595.13,691.33" fill="none" stroke="#2b2b2b" stroke-width="0.75"/>
<polygon points="600.35,691.49 602.76,693.9 600.35,696.31 597.93,693.9" fill="none" stroke="#2b2b2b" stroke-width="0.75"/>
<polygon points="599.05,709.48 601.46,711.89 599.05,714.3 596.63,711.89" fill="none" stroke="#2b2b2b" stroke-width="0.75"/>
<polygon points="597.9,710.76 600.31,713.17 597.9,715.59 595.48,713.17" fill="none" stroke="#2b2b2b" stroke-width="0.75"/>
<polygon points="598.83,717.18 601.24,719.6 598.83,722.01 596.41,719.6" fill="none" stroke="#2b2b2b" stroke-width="0.75"/>
<polygon points="597.99,722.84 600.4,725.25 597.99,727.67 595.57,725.25" fill="none" stroke="#2b2b2b" stroke-width="0.75"/>
<rect x="594.3" y="711.29" width="9.4" height="1.2" fill="#111"/>
<line x1="503.3" y1="642" x2="503.3" y2="745.8" stroke="#4a4a4a" stroke-width="1.1"/>
<line x1="502.8" y1="745.3" x2="605.1" y2="745.3" stroke="#4a4a4a" stroke-width="1.1"/>
<line x1="498.9" y1="745.3" x2="503.3" y2="745.3" stroke="#4a4a4a" stroke-width="0.99"/>
<text x="497.9" y="748.07" font-size="7.7" text-anchor="end" font-weight="bold" fill="#222" stroke="#222" stroke-width="0.18">0</text>
<line x1="498.9" y1="719.6" x2="503.3" y2="719.6" stroke="#4a4a4a" stroke-width="0.99"/>
<text x="497.9" y="722.37" font-size="7.7" text-anchor="end" font-weight="bold" fill="#222" stroke="#222" stroke-width="0.18">1000</text>
<line x1="498.9" y1="693.9" x2="503.3" y2="693.9" stroke="#4a4a4a" stroke-width="0.99"/>
<text x="497.9" y="696.67" font-size="7.7" text-anchor="end" font-weight="bold" fill="#222" stroke="#222" stroke-width="0.18">2000</text>
<line x1="498.9" y1="668.2" x2="503.3" y2="668.2" stroke="#4a4a4a" stroke-width="0.99"/>
<text x="497.9" y="670.97" font-size="7.7" text-anchor="end" font-weight="bold" fill="#222" stroke="#222" stroke-width="0.18">3000</text>
<line x1="498.9" y1="642.5" x2="503.3" y2="642.5" stroke="#4a4a4a" stroke-width="0.99"/>
<text x="497.9" y="645.27" font-size="7.7" text-anchor="end" font-weight="bold" fill="#222" stroke="#222" stroke-width="0.18">4000</text>
<line x1="527.9" y1="745.3" x2="527.9" y2="748.1" stroke="#4a4a4a" stroke-width="0.99"/>
<line x1="581.8" y1="745.3" x2="581.8" y2="748.1" stroke="#4a4a4a" stroke-width="0.99"/>
<line x1="511.1" y1="616.6" x2="545.1" y2="616.6" stroke="#333" stroke-width="0.95"/>
<text x="528.1" y="619.33" font-size="10.5" text-anchor="middle" font-weight="bold" fill="#111" stroke="#111" stroke-width="0.18">****</text>
<line x1="522.1" y1="624.4" x2="545.1" y2="624.4" stroke="#333" stroke-width="0.95"/>
<text x="533.6" y="627.13" font-size="10.5" text-anchor="middle" font-weight="bold" fill="#111" stroke="#111" stroke-width="0.18">****</text>
<line x1="511.1" y1="632.4" x2="533.6" y2="632.4" stroke="#333" stroke-width="0.95"/>
<text x="522.35" y="635.13" font-size="10.5" text-anchor="middle" font-weight="bold" fill="#111" stroke="#111" stroke-width="0.18">**</text>
<line x1="533.6" y1="639.9" x2="545.1" y2="639.9" stroke="#333" stroke-width="0.95"/>
<text x="539.35" y="642.63" font-size="10.5" text-anchor="middle" font-weight="bold" fill="#111" stroke="#111" stroke-width="0.18">***</text>
<line x1="522.1" y1="646.5" x2="533.6" y2="646.5" stroke="#333" stroke-width="0.95"/>
<text x="527.85" y="649.23" font-size="10.5" text-anchor="middle" font-weight="bold" fill="#111" stroke="#111" stroke-width="0.18">**</text>
<line x1="565" y1="631.5" x2="599" y2="631.5" stroke="#333" stroke-width="0.95"/>
<text x="582" y="634.23" font-size="10.5" text-anchor="middle" font-weight="bold" fill="#111" stroke="#111" stroke-width="0.18">****</text>
<line x1="576" y1="639.3" x2="599" y2="639.3" stroke="#333" stroke-width="0.95"/>
<text x="587.5" y="642.03" font-size="10.5" text-anchor="middle" font-weight="bold" fill="#111" stroke="#111" stroke-width="0.18">****</text>
<line x1="576" y1="645.9" x2="587.5" y2="645.9" stroke="#333" stroke-width="0.95"/>
<text x="581.75" y="648.63" font-size="10.5" text-anchor="middle" font-weight="bold" fill="#111" stroke="#111" stroke-width="0.18">*</text>
<text x="477" y="693.9" font-size="8.35" text-anchor="middle" fill="#222" transform="rotate(-90 477 693.9)" stroke="#222" stroke-width="0.18">PD-L1 MFI (CD103+ cDC1)</text>
<text x="529.9" y="757.6" font-size="8" text-anchor="end" fill="#333" transform="rotate(-45 529.9 757.6)" stroke="#333" stroke-width="0.18">mCherry+ cDC1</text>
<text x="583.8" y="757.6" font-size="8" text-anchor="end" fill="#333" transform="rotate(-45 583.8 757.6)" stroke="#333" stroke-width="0.18">mCherry- cDC1</text>
<circle cx="616.2" cy="662.4" r="2" fill="none" stroke="#222" stroke-width="0.75"/>
<text x="627.6" y="664.92" font-size="7" text-anchor="start" fill="#222" stroke="#222" stroke-width="0.18">PBS/vehicle</text>
<rect x="614.2" y="674.7" width="4" height="4" fill="none" stroke="#222" stroke-width="0.75"/>
<text x="627.6" y="679.22" font-size="7" text-anchor="start" fill="#222" stroke="#222" stroke-width="0.18">PBS/pal</text>
<polygon points="616.2,689.1 614.1,693.12 618.3,693.12" fill="none" stroke="#222" stroke-width="0.75"/>
<text x="627.6" y="693.92" font-size="7" text-anchor="start" fill="#222" stroke="#222" stroke-width="0.18">Rt3D/vehicle</text>
<polygon points="616.2,703.5 618.5,705.8 616.2,708.1 613.9,705.8" fill="none" stroke="#222" stroke-width="0.75"/>
<text x="627.6" y="708.32" font-size="7" text-anchor="start" fill="#222" stroke="#222" stroke-width="0.18">Rt3D/pal</text>
<circle cx="61.07" cy="815.51" r="2.1" fill="none" stroke="#ee3a3a" stroke-width="0.75"/>
<circle cx="57.64" cy="860.04" r="2.1" fill="none" stroke="#ee3a3a" stroke-width="0.75"/>
<circle cx="60.25" cy="862.59" r="2.1" fill="none" stroke="#ee3a3a" stroke-width="0.75"/>
<circle cx="58.17" cy="865.13" r="2.1" fill="none" stroke="#ee3a3a" stroke-width="0.75"/>
<circle cx="61.15" cy="871.5" r="2.1" fill="none" stroke="#ee3a3a" stroke-width="0.75"/>
<circle cx="57.66" cy="874.04" r="2.1" fill="none" stroke="#ee3a3a" stroke-width="0.75"/>
<circle cx="60.77" cy="879.13" r="2.1" fill="none" stroke="#ee3a3a" stroke-width="0.75"/>
<rect x="54.7" y="863.26" width="9.4" height="1.2" fill="#111"/>
<rect x="68.95" y="842.67" width="4.2" height="4.2" fill="none" stroke="#ee3a3a" stroke-width="0.75"/>
<rect x="69.59" y="843.95" width="4.2" height="4.2" fill="none" stroke="#ee3a3a" stroke-width="0.75"/>
<rect x="70.1" y="847.76" width="4.2" height="4.2" fill="none" stroke="#ee3a3a" stroke-width="0.75"/>
<rect x="67.36" y="856.67" width="4.2" height="4.2" fill="none" stroke="#ee3a3a" stroke-width="0.75"/>
<rect x="67.72" y="866.85" width="4.2" height="4.2" fill="none" stroke="#ee3a3a" stroke-width="0.75"/>
<rect x="65.7" y="847.99" width="9.4" height="1.2" fill="#111"/>
<polygon points="82.65,857.63 80.44,861.86 84.85,861.86" fill="none" stroke="#ee3a3a" stroke-width="0.75"/>
<polygon points="81.11,863.99 78.91,868.22 83.32,868.22" fill="none" stroke="#ee3a3a" stroke-width="0.75"/>
<polygon points="81.05,866.54 78.84,870.76 83.25,870.76" fill="none" stroke="#ee3a3a" stroke-width="0.75"/>
<polygon points="80.92,867.81 78.72,872.04 83.13,872.04" fill="none" stroke="#ee3a3a" stroke-width="0.75"/>
<polygon points="83.19,872.9 80.98,877.13 85.39,877.13" fill="none" stroke="#ee3a3a" stroke-width="0.75"/>
<polygon points="83.25,880.54 81.04,884.76 85.45,884.76" fill="none" stroke="#ee3a3a" stroke-width="0.75"/>
<rect x="77.2" y="868.35" width="9.4" height="1.2" fill="#111"/>
<polygon points="94.47,857.63 96.89,860.04 94.47,862.46 92.06,860.04" fill="none" stroke="#ee3a3a" stroke-width="0.75"/>
<polygon points="92.4,862.72 94.82,865.13 92.4,867.55 89.99,865.13" fill="none" stroke="#ee3a3a" stroke-width="0.75"/>
<polygon points="94.93,865.26 97.34,867.68 94.93,870.09 92.51,867.68" fill="none" stroke="#ee3a3a" stroke-width="0.75"/>
<polygon points="93.44,867.81 95.86,870.23 93.44,872.64 91.03,870.23" fill="none" stroke="#ee3a3a" stroke-width="0.75"/>
<polygon points="92.43,871.63 94.85,874.04 92.43,876.46 90.02,874.04" fill="none" stroke="#ee3a3a" stroke-width="0.75"/>
<polygon points="93.24,888.17 95.65,890.59 93.24,893 90.82,890.59" fill="none" stroke="#ee3a3a" stroke-width="0.75"/>
<rect x="88.7" y="867.08" width="9.4" height="1.2" fill="#111"/>
<circle cx="112.41" cy="863.86" r="2.1" fill="none" stroke="#2b2b2b" stroke-width="0.75"/>
<circle cx="111.18" cy="865.13" r="2.1" fill="none" stroke="#2b2b2b" stroke-width="0.75"/>
<circle cx="112.93" cy="875.31" r="2.1" fill="none" stroke="#2b2b2b" stroke-width="0.75"/>
<circle cx="112.2" cy="876.59" r="2.1" fill="none" stroke="#2b2b2b" stroke-width="0.75"/>
<circle cx="112.95" cy="879.13" r="2.1" fill="none" stroke="#2b2b2b" stroke-width="0.75"/>
<circle cx="114.25" cy="885.5" r="2.1" fill="none" stroke="#2b2b2b" stroke-width="0.75"/>
<rect x="108" y="875.99" width="9.4" height="1.2" fill="#111"/>
<rect x="122.12" y="838.86" width="4.2" height="4.2" fill="none" stroke="#2b2b2b" stroke-width="0.75"/>
<rect x="121.26" y="841.4" width="4.2" height="4.2" fill="none" stroke="#2b2b2b" stroke-width="0.75"/>
<rect x="122.91" y="842.67" width="4.2" height="4.2" fill="none" stroke="#2b2b2b" stroke-width="0.75"/>
<rect x="123.38" y="843.95" width="4.2" height="4.2" fill="none" stroke="#2b2b2b" stroke-width="0.75"/>
<rect x="121.56" y="856.67" width="4.2" height="4.2" fill="none" stroke="#2b2b2b" stroke-width="0.75"/>
<rect x="123.2" y="875.76" width="4.2" height="4.2" fill="none" stroke="#2b2b2b" stroke-width="0.75"/>
<rect x="119" y="845.45" width="9.4" height="1.2" fill="#111"/>
<polygon points="133.47,862.72 131.26,866.95 135.67,866.95" fill="none" stroke="#2b2b2b" stroke-width="0.75"/>
<polygon points="133.91,865.26 131.7,869.49 136.11,869.49" fill="none" stroke="#2b2b2b" stroke-width="0.75"/>
<polygon points="134.02,871.63 131.81,875.85 136.22,875.85" fill="none" stroke="#2b2b2b" stroke-width="0.75"/>
<polygon points="136.78,874.17 134.57,878.4 138.98,878.4" fill="none" stroke="#2b2b2b" stroke-width="0.75"/>
<polygon points="135.89,877.99 133.68,882.22 138.09,882.22" fill="none" stroke="#2b2b2b" stroke-width="0.75"/>
<rect x="130.5" y="873.44" width="9.4" height="1.2" fill="#111"/>
<polygon points="147.49,856.36 149.9,858.77 147.49,861.19 145.07,858.77" fill="none" stroke="#2b2b2b" stroke-width="0.75"/>
<polygon points="145.93,860.18 148.35,862.59 145.93,865 143.52,862.59" fill="none" stroke="#2b2b2b" stroke-width="0.75"/>
<polygon points="146.68,869.08 149.1,871.5 146.68,873.91 144.27,871.5" fill="none" stroke="#2b2b2b" stroke-width="0.75"/>
<polygon points="148.09,870.36 150.51,872.77 148.09,875.18 145.68,872.77" fill="none" stroke="#2b2b2b" stroke-width="0.75"/>
<polygon points="145.26,875.45 147.67,877.86 145.26,880.27 142.84,877.86" fill="none" stroke="#2b2b2b" stroke-width="0.75"/>
<polygon points="145.32,879.26 147.73,881.68 145.32,884.09 142.9,881.68" fill="none" stroke="#2b2b2b" stroke-width="0.75"/>
<rect x="142" y="872.17" width="9.4" height="1.2" fill="#111"/>
<line x1="52.3" y1="806.1" x2="52.3" y2="908.9" stroke="#4a4a4a" stroke-width="1.1"/>
<line x1="51.8" y1="908.4" x2="153.8" y2="908.4" stroke="#4a4a4a" stroke-width="1.1"/>
<line x1="47.9" y1="908.4" x2="52.3" y2="908.4" stroke="#4a4a4a" stroke-width="0.99"/>
<text x="46.9" y="911.17" font-size="7.7" text-anchor="end" font-weight="bold" fill="#222" stroke="#222" stroke-width="0.18">0</text>
<line x1="47.9" y1="882.95" x2="52.3" y2="882.95" stroke="#4a4a4a" stroke-width="0.99"/>
<text x="46.9" y="885.72" font-size="7.7" text-anchor="end" font-weight="bold" fill="#222" stroke="#222" stroke-width="0.18">2000</text>
<line x1="47.9" y1="857.5" x2="52.3" y2="857.5" stroke="#4a4a4a" stroke-width="0.99"/>
<text x="46.9" y="860.27" font-size="7.7" text-anchor="end" font-weight="bold" fill="#222" stroke="#222" stroke-width="0.18">4000</text>
<line x1="47.9" y1="832.05" x2="52.3" y2="832.05" stroke="#4a4a4a" stroke-width="0.99"/>
<text x="46.9" y="834.82" font-size="7.7" text-anchor="end" font-weight="bold" fill="#222" stroke="#222" stroke-width="0.18">6000</text>
<line x1="47.9" y1="806.6" x2="52.3" y2="806.6" stroke="#4a4a4a" stroke-width="0.99"/>
<text x="46.9" y="809.37" font-size="7.7" text-anchor="end" font-weight="bold" fill="#222" stroke="#222" stroke-width="0.18">8000</text>
<line x1="76.2" y1="908.4" x2="76.2" y2="911.2" stroke="#4a4a4a" stroke-width="0.99"/>
<line x1="129.5" y1="908.4" x2="129.5" y2="911.2" stroke="#4a4a4a" stroke-width="0.99"/>
<line x1="70.4" y1="810.6" x2="93.4" y2="810.6" stroke="#333" stroke-width="0.95"/>
<text x="81.9" y="813.33" font-size="10.5" text-anchor="middle" font-weight="bold" fill="#111" stroke="#111" stroke-width="0.18">*</text>
<line x1="70.4" y1="819.3" x2="81.9" y2="819.3" stroke="#333" stroke-width="0.95"/>
<text x="76.15" y="822.03" font-size="10.5" text-anchor="middle" font-weight="bold" fill="#111" stroke="#111" stroke-width="0.18">*</text>
<line x1="112.7" y1="810.6" x2="123.7" y2="810.6" stroke="#333" stroke-width="0.95"/>
<text x="118.2" y="813.33" font-size="10.5" text-anchor="middle" font-weight="bold" fill="#111" stroke="#111" stroke-width="0.18">**</text>
<line x1="126.6" y1="810.6" x2="146.6" y2="810.6" stroke="#333" stroke-width="0.95"/>
<text x="136.6" y="813.33" font-size="10.5" text-anchor="middle" font-weight="bold" fill="#111" stroke="#111" stroke-width="0.18">*</text>
<line x1="123.7" y1="819.3" x2="135.2" y2="819.3" stroke="#333" stroke-width="0.95"/>
<text x="129.45" y="822.03" font-size="10.5" text-anchor="middle" font-weight="bold" fill="#111" stroke="#111" stroke-width="0.18">**</text>
<text x="23.8" y="857.5" font-size="8.35" text-anchor="middle" fill="#222" transform="rotate(-90 23.8 857.5)" stroke="#222" stroke-width="0.18">CD80 MFI (CD11b+ cDC2)</text>
<text x="78.2" y="920.7" font-size="8" text-anchor="end" fill="#333" transform="rotate(-45 78.2 920.7)" stroke="#333" stroke-width="0.18">mCherry+ cDC2</text>
<text x="131.5" y="920.7" font-size="8" text-anchor="end" fill="#333" transform="rotate(-45 131.5 920.7)" stroke="#333" stroke-width="0.18">mCherry- cDC2</text>
<circle cx="212.7" cy="874.47" r="2.1" fill="none" stroke="#ee3a3a" stroke-width="0.75"/>
<circle cx="213.13" cy="875.15" r="2.1" fill="none" stroke="#ee3a3a" stroke-width="0.75"/>
<circle cx="212.9" cy="876.16" r="2.1" fill="none" stroke="#ee3a3a" stroke-width="0.75"/>
<circle cx="213.01" cy="877.86" r="2.1" fill="none" stroke="#ee3a3a" stroke-width="0.75"/>
<circle cx="212.87" cy="881.25" r="2.1" fill="none" stroke="#ee3a3a" stroke-width="0.75"/>
<circle cx="213.77" cy="888.72" r="2.1" fill="none" stroke="#ee3a3a" stroke-width="0.75"/>
<rect x="208.5" y="877.26" width="9.4" height="1.2" fill="#111"/>
<rect x="221.23" y="863.88" width="4.2" height="4.2" fill="none" stroke="#ee3a3a" stroke-width="0.75"/>
<rect x="222.59" y="867.28" width="4.2" height="4.2" fill="none" stroke="#ee3a3a" stroke-width="0.75"/>
<rect x="220.34" y="868.97" width="4.2" height="4.2" fill="none" stroke="#ee3a3a" stroke-width="0.75"/>
<rect x="221.39" y="872.37" width="4.2" height="4.2" fill="none" stroke="#ee3a3a" stroke-width="0.75"/>
<rect x="221.51" y="875.76" width="4.2" height="4.2" fill="none" stroke="#ee3a3a" stroke-width="0.75"/>
<rect x="219.5" y="869.79" width="9.4" height="1.2" fill="#111"/>
<polygon points="234.41,853.39 232.21,857.61 236.62,857.61" fill="none" stroke="#ee3a3a" stroke-width="0.75"/>
<polygon points="236.58,856.78 234.37,861.01 238.78,861.01" fill="none" stroke="#ee3a3a" stroke-width="0.75"/>
<polygon points="235.02,861.19 232.81,865.42 237.22,865.42" fill="none" stroke="#ee3a3a" stroke-width="0.75"/>
<polygon points="236.74,865.26 234.54,869.49 238.95,869.49" fill="none" stroke="#ee3a3a" stroke-width="0.75"/>
<polygon points="237.34,872.05 235.14,876.28 239.55,876.28" fill="none" stroke="#ee3a3a" stroke-width="0.75"/>
<rect x="231" y="863.01" width="9.4" height="1.2" fill="#111"/>
<polygon points="246.31,838.12 248.73,840.53 246.31,842.95 243.9,840.53" fill="none" stroke="#ee3a3a" stroke-width="0.75"/>
<polygon points="248.62,848.3 251.03,850.71 248.62,853.13 246.2,850.71" fill="none" stroke="#ee3a3a" stroke-width="0.75"/>
<polygon points="248.31,858.48 250.72,860.89 248.31,863.31 245.89,860.89" fill="none" stroke="#ee3a3a" stroke-width="0.75"/>
<polygon points="247.8,861.87 250.22,864.29 247.8,866.7 245.39,864.29" fill="none" stroke="#ee3a3a" stroke-width="0.75"/>
<polygon points="245.5,878.84 247.91,881.25 245.5,883.67 243.08,881.25" fill="none" stroke="#ee3a3a" stroke-width="0.75"/>
<polygon points="247.04,882.23 249.46,884.65 247.04,887.06 244.63,884.65" fill="none" stroke="#ee3a3a" stroke-width="0.75"/>
<polygon points="247.66,887.32 250.07,889.74 247.66,892.15 245.24,889.74" fill="none" stroke="#ee3a3a" stroke-width="0.75"/>
<rect x="242.5" y="864.37" width="9.4" height="1.2" fill="#111"/>
<circle cx="265.27" cy="857.5" r="2.1" fill="none" stroke="#2b2b2b" stroke-width="0.75"/>
<circle cx="265.01" cy="869.38" r="2.1" fill="none" stroke="#2b2b2b" stroke-width="0.75"/>
<circle cx="265.32" cy="874.47" r="2.1" fill="none" stroke="#2b2b2b" stroke-width="0.75"/>
<circle cx="265.13" cy="877.86" r="2.1" fill="none" stroke="#2b2b2b" stroke-width="0.75"/>
<circle cx="267.04" cy="881.25" r="2.1" fill="none" stroke="#2b2b2b" stroke-width="0.75"/>
<rect x="261.3" y="873.87" width="9.4" height="1.2" fill="#111"/>
<rect x="274.35" y="862.19" width="4.2" height="4.2" fill="none" stroke="#2b2b2b" stroke-width="0.75"/>
<rect x="274.62" y="863.88" width="4.2" height="4.2" fill="none" stroke="#2b2b2b" stroke-width="0.75"/>
<rect x="275.41" y="865.58" width="4.2" height="4.2" fill="none" stroke="#2b2b2b" stroke-width="0.75"/>
<rect x="276.51" y="870.67" width="4.2" height="4.2" fill="none" stroke="#2b2b2b" stroke-width="0.75"/>
<rect x="274.15" y="882.55" width="4.2" height="4.2" fill="none" stroke="#2b2b2b" stroke-width="0.75"/>
<rect x="272.3" y="867.08" width="9.4" height="1.2" fill="#111"/>
<polygon points="286.86,841.51 284.65,845.74 289.06,845.74" fill="none" stroke="#2b2b2b" stroke-width="0.75"/>
<polygon points="290.21,850 288,854.22 292.41,854.22" fill="none" stroke="#2b2b2b" stroke-width="0.75"/>
<polygon points="289.7,851.69 287.49,855.92 291.9,855.92" fill="none" stroke="#2b2b2b" stroke-width="0.75"/>
<polygon points="289.55,855.09 287.34,859.31 291.75,859.31" fill="none" stroke="#2b2b2b" stroke-width="0.75"/>
<polygon points="288.58,858.48 286.38,862.7 290.79,862.7" fill="none" stroke="#2b2b2b" stroke-width="0.75"/>
<polygon points="287.55,870.36 285.34,874.58 289.75,874.58" fill="none" stroke="#2b2b2b" stroke-width="0.75"/>
<rect x="283.8" y="852.83" width="9.4" height="1.2" fill="#111"/>
<polygon points="298.76,822.85 301.17,825.26 298.76,827.68 296.34,825.26" fill="none" stroke="#2b2b2b" stroke-width="0.75"/>
<polygon points="299.3,826.24 301.71,828.66 299.3,831.07 296.88,828.66" fill="none" stroke="#2b2b2b" stroke-width="0.75"/>
<polygon points="299.86,833.03 302.27,835.44 299.86,837.86 297.44,835.44" fill="none" stroke="#2b2b2b" stroke-width="0.75"/>
<polygon points="298.44,851.69 300.85,854.11 298.44,856.52 296.02,854.11" fill="none" stroke="#2b2b2b" stroke-width="0.75"/>
<polygon points="300.72,853.39 303.13,855.8 300.72,858.22 298.3,855.8" fill="none" stroke="#2b2b2b" stroke-width="0.75"/>
<polygon points="300.82,872.05 303.24,874.47 300.82,876.88 298.41,874.47" fill="none" stroke="#2b2b2b" stroke-width="0.75"/>
<polygon points="298.25,875.45 300.66,877.86 298.25,880.27 295.83,877.86" fill="none" stroke="#2b2b2b" stroke-width="0.75"/>
<rect x="295.3" y="854.52" width="9.4" height="1.2" fill="#111"/>
<line x1="205.4" y1="806.1" x2="205.4" y2="908.9" stroke="#4a4a4a" stroke-width="1.1"/>
<line x1="204.9" y1="908.4" x2="307.6" y2="908.4" stroke="#4a4a4a" stroke-width="1.1"/>
<line x1="201" y1="908.4" x2="205.4" y2="908.4" stroke="#4a4a4a" stroke-width="0.99"/>
<text x="200" y="911.17" font-size="7.7" text-anchor="end" font-weight="bold" fill="#222" stroke="#222" stroke-width="0.18">0</text>
<line x1="201" y1="874.47" x2="205.4" y2="874.47" stroke="#4a4a4a" stroke-width="0.99"/>
<text x="200" y="877.24" font-size="7.7" text-anchor="end" font-weight="bold" fill="#222" stroke="#222" stroke-width="0.18">1000</text>
<line x1="201" y1="840.53" x2="205.4" y2="840.53" stroke="#4a4a4a" stroke-width="0.99"/>
<text x="200" y="843.31" font-size="7.7" text-anchor="end" font-weight="bold" fill="#222" stroke="#222" stroke-width="0.18">2000</text>
<line x1="201" y1="806.6" x2="205.4" y2="806.6" stroke="#4a4a4a" stroke-width="0.99"/>
<text x="200" y="809.37" font-size="7.7" text-anchor="end" font-weight="bold" fill="#222" stroke="#222" stroke-width="0.18">3000</text>
<line x1="230" y1="908.4" x2="230" y2="911.2" stroke="#4a4a4a" stroke-width="0.99"/>
<line x1="282.8" y1="908.4" x2="282.8" y2="911.2" stroke="#4a4a4a" stroke-width="0.99"/>
<line x1="266" y1="807.4" x2="300" y2="807.4" stroke="#333" stroke-width="0.95"/>
<text x="283" y="810.13" font-size="10.5" text-anchor="middle" font-weight="bold" fill="#111" stroke="#111" stroke-width="0.18">**</text>
<line x1="277" y1="816.1" x2="300" y2="816.1" stroke="#333" stroke-width="0.95"/>
<text x="288.5" y="818.83" font-size="10.5" text-anchor="middle" font-weight="bold" fill="#111" stroke="#111" stroke-width="0.18">*</text>
<text x="176.9" y="857.5" font-size="8.35" text-anchor="middle" fill="#222" transform="rotate(-90 176.9 857.5)" stroke="#222" stroke-width="0.18">CD86 MFI (CD11b+ cDC2)</text>
<text x="232" y="920.7" font-size="8" text-anchor="end" fill="#333" transform="rotate(-45 232 920.7)" stroke="#333" stroke-width="0.18">mCherry+ cDC2</text>
<text x="284.8" y="920.7" font-size="8" text-anchor="end" fill="#333" transform="rotate(-45 284.8 920.7)" stroke="#333" stroke-width="0.18">mCherry- cDC2</text>
<circle cx="362.88" cy="845.28" r="2.1" fill="none" stroke="#ee3a3a" stroke-width="0.75"/>
<circle cx="363.9" cy="858.18" r="2.1" fill="none" stroke="#ee3a3a" stroke-width="0.75"/>
<circle cx="364.46" cy="862.25" r="2.1" fill="none" stroke="#ee3a3a" stroke-width="0.75"/>
<circle cx="362.04" cy="874.47" r="2.1" fill="none" stroke="#ee3a3a" stroke-width="0.75"/>
<circle cx="363.76" cy="876.5" r="2.1" fill="none" stroke="#ee3a3a" stroke-width="0.75"/>
<circle cx="363.54" cy="878.54" r="2.1" fill="none" stroke="#ee3a3a" stroke-width="0.75"/>
<rect x="358.1" y="873.87" width="9.4" height="1.2" fill="#111"/>
<rect x="372.28" y="855.4" width="4.2" height="4.2" fill="none" stroke="#ee3a3a" stroke-width="0.75"/>
<rect x="370.3" y="856.08" width="4.2" height="4.2" fill="none" stroke="#ee3a3a" stroke-width="0.75"/>
<rect x="370" y="857.44" width="4.2" height="4.2" fill="none" stroke="#ee3a3a" stroke-width="0.75"/>
<rect x="371.28" y="858.79" width="4.2" height="4.2" fill="none" stroke="#ee3a3a" stroke-width="0.75"/>
<rect x="372.59" y="860.15" width="4.2" height="4.2" fill="none" stroke="#ee3a3a" stroke-width="0.75"/>
<rect x="369.1" y="858.94" width="9.4" height="1.2" fill="#111"/>
<polygon points="384.41,829.97 382.2,834.2 386.61,834.2" fill="none" stroke="#ee3a3a" stroke-width="0.75"/>
<polygon points="385.31,838.12 383.1,842.34 387.51,842.34" fill="none" stroke="#ee3a3a" stroke-width="0.75"/>
<polygon points="384.64,842.19 382.44,846.42 386.85,846.42" fill="none" stroke="#ee3a3a" stroke-width="0.75"/>
<polygon points="386.55,846.26 384.34,850.49 388.75,850.49" fill="none" stroke="#ee3a3a" stroke-width="0.75"/>
<polygon points="386.9,853.05 384.7,857.28 389.11,857.28" fill="none" stroke="#ee3a3a" stroke-width="0.75"/>
<polygon points="384.95,870.02 382.74,874.24 387.15,874.24" fill="none" stroke="#ee3a3a" stroke-width="0.75"/>
<rect x="380.6" y="844.01" width="9.4" height="1.2" fill="#111"/>
<polygon points="398.59,829.3 401.01,831.71 398.59,834.13 396.18,831.71" fill="none" stroke="#ee3a3a" stroke-width="0.75"/>
<polygon points="395.22,838.12 397.64,840.53 395.22,842.95 392.81,840.53" fill="none" stroke="#ee3a3a" stroke-width="0.75"/>
<polygon points="397.93,846.94 400.34,849.36 397.93,851.77 395.51,849.36" fill="none" stroke="#ee3a3a" stroke-width="0.75"/>
<polygon points="398.15,859.16 400.57,861.57 398.15,863.99 395.74,861.57" fill="none" stroke="#ee3a3a" stroke-width="0.75"/>
<polygon points="395.54,875.45 397.96,877.86 395.54,880.27 393.13,877.86" fill="none" stroke="#ee3a3a" stroke-width="0.75"/>
<rect x="392.1" y="839.93" width="9.4" height="1.2" fill="#111"/>
<circle cx="416.14" cy="843.93" r="2.1" fill="none" stroke="#2b2b2b" stroke-width="0.75"/>
<circle cx="415.61" cy="854.11" r="2.1" fill="none" stroke="#2b2b2b" stroke-width="0.75"/>
<circle cx="417.04" cy="874.47" r="2.1" fill="none" stroke="#2b2b2b" stroke-width="0.75"/>
<circle cx="414.36" cy="875.82" r="2.1" fill="none" stroke="#2b2b2b" stroke-width="0.75"/>
<circle cx="415.54" cy="876.5" r="2.1" fill="none" stroke="#2b2b2b" stroke-width="0.75"/>
<circle cx="416.78" cy="878.54" r="2.1" fill="none" stroke="#2b2b2b" stroke-width="0.75"/>
<rect x="410.7" y="874.55" width="9.4" height="1.2" fill="#111"/>
<rect x="424.8" y="860.15" width="4.2" height="4.2" fill="none" stroke="#2b2b2b" stroke-width="0.75"/>
<rect x="423.61" y="861.51" width="4.2" height="4.2" fill="none" stroke="#2b2b2b" stroke-width="0.75"/>
<rect x="422.79" y="862.19" width="4.2" height="4.2" fill="none" stroke="#2b2b2b" stroke-width="0.75"/>
<rect x="425.88" y="866.26" width="4.2" height="4.2" fill="none" stroke="#2b2b2b" stroke-width="0.75"/>
<rect x="424.21" y="874.4" width="4.2" height="4.2" fill="none" stroke="#2b2b2b" stroke-width="0.75"/>
<rect x="421.7" y="863.69" width="9.4" height="1.2" fill="#111"/>
<polygon points="439.69,836.76 437.48,840.99 441.89,840.99" fill="none" stroke="#2b2b2b" stroke-width="0.75"/>
<polygon points="436.61,843.55 434.4,847.77 438.81,847.77" fill="none" stroke="#2b2b2b" stroke-width="0.75"/>
<polygon points="439.02,846.94 436.82,851.17 441.23,851.17" fill="none" stroke="#2b2b2b" stroke-width="0.75"/>
<polygon points="439.03,848.3 436.82,852.52 441.23,852.52" fill="none" stroke="#2b2b2b" stroke-width="0.75"/>
<polygon points="439.41,850.33 437.21,854.56 441.62,854.56" fill="none" stroke="#2b2b2b" stroke-width="0.75"/>
<rect x="433.2" y="849.43" width="9.4" height="1.2" fill="#111"/>
<polygon points="447.66,821.83 450.08,824.25 447.66,826.66 445.25,824.25" fill="none" stroke="#2b2b2b" stroke-width="0.75"/>
<polygon points="448.94,834.05 451.35,836.46 448.94,838.88 446.52,836.46" fill="none" stroke="#2b2b2b" stroke-width="0.75"/>
<polygon points="447.79,843.55 450.2,845.96 447.79,848.38 445.37,845.96" fill="none" stroke="#2b2b2b" stroke-width="0.75"/>
<polygon points="450.31,846.26 452.72,848.68 450.31,851.09 447.89,848.68" fill="none" stroke="#2b2b2b" stroke-width="0.75"/>
<polygon points="448.88,854.41 451.29,856.82 448.88,859.24 446.46,856.82" fill="none" stroke="#2b2b2b" stroke-width="0.75"/>
<polygon points="451.05,859.84 453.47,862.25 451.05,864.67 448.64,862.25" fill="none" stroke="#2b2b2b" stroke-width="0.75"/>
<polygon points="448.95,863.23 451.36,865.64 448.95,868.06 446.53,865.64" fill="none" stroke="#2b2b2b" stroke-width="0.75"/>
<rect x="444.7" y="848.08" width="9.4" height="1.2" fill="#111"/>
<line x1="354.7" y1="806.1" x2="354.7" y2="908.9" stroke="#4a4a4a" stroke-width="1.1"/>
<line x1="354.2" y1="908.4" x2="456.5" y2="908.4" stroke="#4a4a4a" stroke-width="1.1"/>
<line x1="350.3" y1="908.4" x2="354.7" y2="908.4" stroke="#4a4a4a" stroke-width="0.99"/>
<text x="349.3" y="911.17" font-size="7.7" text-anchor="end" font-weight="bold" fill="#222" stroke="#222" stroke-width="0.18">0</text>
<line x1="350.3" y1="874.47" x2="354.7" y2="874.47" stroke="#4a4a4a" stroke-width="0.99"/>
<text x="349.3" y="877.24" font-size="7.7" text-anchor="end" font-weight="bold" fill="#222" stroke="#222" stroke-width="0.18">500</text>
<line x1="350.3" y1="840.53" x2="354.7" y2="840.53" stroke="#4a4a4a" stroke-width="0.99"/>
<text x="349.3" y="843.31" font-size="7.7" text-anchor="end" font-weight="bold" fill="#222" stroke="#222" stroke-width="0.18">1000</text>
<line x1="350.3" y1="806.6" x2="354.7" y2="806.6" stroke="#4a4a4a" stroke-width="0.99"/>
<text x="349.3" y="809.37" font-size="7.7" text-anchor="end" font-weight="bold" fill="#222" stroke="#222" stroke-width="0.18">1500</text>
<line x1="379.6" y1="908.4" x2="379.6" y2="911.2" stroke="#4a4a4a" stroke-width="0.99"/>
<line x1="432.2" y1="908.4" x2="432.2" y2="911.2" stroke="#4a4a4a" stroke-width="0.99"/>
<line x1="362.8" y1="814.1" x2="396.8" y2="814.1" stroke="#333" stroke-width="0.95"/>
<text x="379.8" y="816.83" font-size="10.5" text-anchor="middle" font-weight="bold" fill="#111" stroke="#111" stroke-width="0.18">*</text>
<line x1="362.8" y1="820.3" x2="385.3" y2="820.3" stroke="#333" stroke-width="0.95"/>
<text x="374.05" y="823.03" font-size="10.5" text-anchor="middle" font-weight="bold" fill="#111" stroke="#111" stroke-width="0.18">*</text>
<line x1="415.4" y1="799.2" x2="449.4" y2="799.2" stroke="#333" stroke-width="0.95"/>
<text x="432.4" y="801.93" font-size="10.5" text-anchor="middle" font-weight="bold" fill="#111" stroke="#111" stroke-width="0.18">*</text>
<line x1="415.4" y1="806.4" x2="437.9" y2="806.4" stroke="#333" stroke-width="0.95"/>
<text x="426.65" y="809.13" font-size="10.5" text-anchor="middle" font-weight="bold" fill="#111" stroke="#111" stroke-width="0.18">**</text>
<line x1="426.4" y1="812.3" x2="449.4" y2="812.3" stroke="#333" stroke-width="0.95"/>
<text x="437.9" y="815.03" font-size="10.5" text-anchor="middle" font-weight="bold" fill="#111" stroke="#111" stroke-width="0.18">*</text>
<line x1="426.4" y1="820.3" x2="437.9" y2="820.3" stroke="#333" stroke-width="0.95"/>
<text x="432.15" y="823.03" font-size="10.5" text-anchor="middle" font-weight="bold" fill="#111" stroke="#111" stroke-width="0.18">*</text>
<text x="326.9" y="857.5" font-size="8.35" text-anchor="middle" fill="#222" transform="rotate(-90 326.9 857.5)" stroke="#222" stroke-width="0.18">CD40 MFI (CD11b+ cDC2)</text>
<text x="381.6" y="920.7" font-size="8" text-anchor="end" fill="#333" transform="rotate(-45 381.6 920.7)" stroke="#333" stroke-width="0.18">mCherry+ cDC2</text>
<text x="434.2" y="920.7" font-size="8" text-anchor="end" fill="#333" transform="rotate(-45 434.2 920.7)" stroke="#333" stroke-width="0.18">mCherry- cDC2</text>
<circle cx="509.95" cy="833.43" r="2.1" fill="none" stroke="#ee3a3a" stroke-width="0.75"/>
<circle cx="511.68" cy="878.32" r="2.1" fill="none" stroke="#ee3a3a" stroke-width="0.75"/>
<circle cx="510.5" cy="887.3" r="2.1" fill="none" stroke="#ee3a3a" stroke-width="0.75"/>
<circle cx="510.01" cy="893.71" r="2.1" fill="none" stroke="#ee3a3a" stroke-width="0.75"/>
<circle cx="511.06" cy="896.27" r="2.1" fill="none" stroke="#ee3a3a" stroke-width="0.75"/>
<circle cx="511.08" cy="896.92" r="2.1" fill="none" stroke="#ee3a3a" stroke-width="0.75"/>
<rect x="506.4" y="893.11" width="9.4" height="1.2" fill="#111"/>
<rect x="519.93" y="888.4" width="4.2" height="4.2" fill="none" stroke="#ee3a3a" stroke-width="0.75"/>
<rect x="519.85" y="889.04" width="4.2" height="4.2" fill="none" stroke="#ee3a3a" stroke-width="0.75"/>
<rect x="519.15" y="889.69" width="4.2" height="4.2" fill="none" stroke="#ee3a3a" stroke-width="0.75"/>
<rect x="519.11" y="891.61" width="4.2" height="4.2" fill="none" stroke="#ee3a3a" stroke-width="0.75"/>
<rect x="520.69" y="892.25" width="4.2" height="4.2" fill="none" stroke="#ee3a3a" stroke-width="0.75"/>
<rect x="517.4" y="891.19" width="9.4" height="1.2" fill="#111"/>
<polygon points="532.97,868.21 530.76,872.44 535.17,872.44" fill="none" stroke="#ee3a3a" stroke-width="0.75"/>
<polygon points="534.23,874.62 532.02,878.85 536.43,878.85" fill="none" stroke="#ee3a3a" stroke-width="0.75"/>
<polygon points="534.63,875.91 532.43,880.13 536.84,880.13" fill="none" stroke="#ee3a3a" stroke-width="0.75"/>
<polygon points="534.92,877.19 532.71,881.41 537.12,881.41" fill="none" stroke="#ee3a3a" stroke-width="0.75"/>
<polygon points="535.2,881.04 532.99,885.26 537.4,885.26" fill="none" stroke="#ee3a3a" stroke-width="0.75"/>
<rect x="528.9" y="878.36" width="9.4" height="1.2" fill="#111"/>
<polygon points="544.14,846.41 546.56,848.82 544.14,851.24 541.73,848.82" fill="none" stroke="#ee3a3a" stroke-width="0.75"/>
<polygon points="544.15,859.23 546.57,861.65 544.15,864.06 541.74,861.65" fill="none" stroke="#ee3a3a" stroke-width="0.75"/>
<polygon points="545.95,860.52 548.36,862.93 545.95,865.35 543.53,862.93" fill="none" stroke="#ee3a3a" stroke-width="0.75"/>
<polygon points="545.37,872.06 547.79,874.47 545.37,876.89 542.96,874.47" fill="none" stroke="#ee3a3a" stroke-width="0.75"/>
<polygon points="544.03,875.91 546.44,878.32 544.03,880.74 541.61,878.32" fill="none" stroke="#ee3a3a" stroke-width="0.75"/>
<polygon points="545.74,891.3 548.15,893.71 545.74,896.12 543.32,893.71" fill="none" stroke="#ee3a3a" stroke-width="0.75"/>
<rect x="540.4" y="871.95" width="9.4" height="1.2" fill="#111"/>
<circle cx="565.74" cy="891.79" r="2.1" fill="none" stroke="#2b2b2b" stroke-width="0.75"/>
<circle cx="565.61" cy="897.56" r="2.1" fill="none" stroke="#2b2b2b" stroke-width="0.75"/>
<circle cx="563.38" cy="899.48" r="2.1" fill="none" stroke="#2b2b2b" stroke-width="0.75"/>
<circle cx="563.68" cy="900.12" r="2.1" fill="none" stroke="#2b2b2b" stroke-width="0.75"/>
<circle cx="562.62" cy="900.76" r="2.1" fill="none" stroke="#2b2b2b" stroke-width="0.75"/>
<rect x="559.7" y="898.88" width="9.4" height="1.2" fill="#111"/>
<rect x="575.01" y="892.25" width="4.2" height="4.2" fill="none" stroke="#2b2b2b" stroke-width="0.75"/>
<rect x="572.29" y="892.89" width="4.2" height="4.2" fill="none" stroke="#2b2b2b" stroke-width="0.75"/>
<rect x="574.12" y="893.53" width="4.2" height="4.2" fill="none" stroke="#2b2b2b" stroke-width="0.75"/>
<rect x="573.44" y="894.17" width="4.2" height="4.2" fill="none" stroke="#2b2b2b" stroke-width="0.75"/>
<rect x="573.64" y="894.43" width="4.2" height="4.2" fill="none" stroke="#2b2b2b" stroke-width="0.75"/>
<rect x="570.7" y="895.03" width="9.4" height="1.2" fill="#111"/>
<polygon points="587,877.19 584.79,881.41 589.2,881.41" fill="none" stroke="#2b2b2b" stroke-width="0.75"/>
<polygon points="588.07,879.75 585.87,883.98 590.28,883.98" fill="none" stroke="#2b2b2b" stroke-width="0.75"/>
<polygon points="587.26,882.32 585.05,886.54 589.46,886.54" fill="none" stroke="#2b2b2b" stroke-width="0.75"/>
<polygon points="586.19,884.88 583.99,889.11 588.4,889.11" fill="none" stroke="#2b2b2b" stroke-width="0.75"/>
<polygon points="585.51,888.73 583.31,892.96 587.72,892.96" fill="none" stroke="#2b2b2b" stroke-width="0.75"/>
<rect x="582.2" y="883.49" width="9.4" height="1.2" fill="#111"/>
<polygon points="598.32,870.78 600.73,873.19 598.32,875.61 595.9,873.19" fill="none" stroke="#2b2b2b" stroke-width="0.75"/>
<polygon points="599.92,877.19 602.34,879.6 599.92,882.02 597.51,879.6" fill="none" stroke="#2b2b2b" stroke-width="0.75"/>
<polygon points="597.12,878.47 599.54,880.88 597.12,883.3 594.71,880.88" fill="none" stroke="#2b2b2b" stroke-width="0.75"/>
<polygon points="599.06,881.04 601.48,883.45 599.06,885.87 596.65,883.45" fill="none" stroke="#2b2b2b" stroke-width="0.75"/>
<polygon points="598.87,883.6 601.29,886.01 598.87,888.43 596.46,886.01" fill="none" stroke="#2b2b2b" stroke-width="0.75"/>
<polygon points="597.18,884.88 599.59,887.3 597.18,889.71 594.76,887.3" fill="none" stroke="#2b2b2b" stroke-width="0.75"/>
<rect x="593.7" y="882.85" width="9.4" height="1.2" fill="#111"/>
<line x1="503.4" y1="806" x2="503.4" y2="909.6" stroke="#4a4a4a" stroke-width="1.1"/>
<line x1="502.9" y1="909.1" x2="605.1" y2="909.1" stroke="#4a4a4a" stroke-width="1.1"/>
<line x1="499" y1="909.1" x2="503.4" y2="909.1" stroke="#4a4a4a" stroke-width="0.99"/>
<text x="498" y="911.87" font-size="7.7" text-anchor="end" font-weight="bold" fill="#222" stroke="#222" stroke-width="0.18">0</text>
<line x1="499" y1="883.45" x2="503.4" y2="883.45" stroke="#4a4a4a" stroke-width="0.99"/>
<text x="498" y="886.22" font-size="7.7" text-anchor="end" font-weight="bold" fill="#222" stroke="#222" stroke-width="0.18">2000</text>
<line x1="499" y1="857.8" x2="503.4" y2="857.8" stroke="#4a4a4a" stroke-width="0.99"/>
<text x="498" y="860.57" font-size="7.7" text-anchor="end" font-weight="bold" fill="#222" stroke="#222" stroke-width="0.18">4000</text>
<line x1="499" y1="832.15" x2="503.4" y2="832.15" stroke="#4a4a4a" stroke-width="0.99"/>
<text x="498" y="834.92" font-size="7.7" text-anchor="end" font-weight="bold" fill="#222" stroke="#222" stroke-width="0.18">6000</text>
<line x1="499" y1="806.5" x2="503.4" y2="806.5" stroke="#4a4a4a" stroke-width="0.99"/>
<text x="498" y="809.27" font-size="7.7" text-anchor="end" font-weight="bold" fill="#222" stroke="#222" stroke-width="0.18">8000</text>
<line x1="527.9" y1="909.1" x2="527.9" y2="911.9" stroke="#4a4a4a" stroke-width="0.99"/>
<line x1="581.2" y1="909.1" x2="581.2" y2="911.9" stroke="#4a4a4a" stroke-width="0.99"/>
<line x1="522.1" y1="820.8" x2="545.1" y2="820.8" stroke="#333" stroke-width="0.95"/>
<text x="533.6" y="823.53" font-size="10.5" text-anchor="middle" font-weight="bold" fill="#111" stroke="#111" stroke-width="0.18">**</text>
<line x1="564.4" y1="820.8" x2="598.4" y2="820.8" stroke="#333" stroke-width="0.95"/>
<text x="581.4" y="823.53" font-size="10.5" text-anchor="middle" font-weight="bold" fill="#111" stroke="#111" stroke-width="0.18">*</text>
<text x="476" y="857.8" font-size="8.35" text-anchor="middle" fill="#222" transform="rotate(-90 476 857.8)" stroke="#222" stroke-width="0.18">PD-L1 MFI (CD11b+ cDC2)</text>
<text x="529.9" y="921.4" font-size="8" text-anchor="end" fill="#333" transform="rotate(-45 529.9 921.4)" stroke="#333" stroke-width="0.18">mCherry+ cDC2</text>
<text x="583.2" y="921.4" font-size="8" text-anchor="end" fill="#333" transform="rotate(-45 583.2 921.4)" stroke="#333" stroke-width="0.18">mCherry- cDC2</text>
<circle cx="618.3" cy="831.3" r="2" fill="none" stroke="#222" stroke-width="0.75"/>
<text x="629.7" y="833.82" font-size="7" text-anchor="start" fill="#222" stroke="#222" stroke-width="0.18">PBS/vehicle</text>
<rect x="616.3" y="844" width="4" height="4" fill="none" stroke="#222" stroke-width="0.75"/>
<text x="629.7" y="848.52" font-size="7" text-anchor="start" fill="#222" stroke="#222" stroke-width="0.18">PBS/pal</text>
<polygon points="618.3,858.3 616.2,862.33 620.4,862.33" fill="none" stroke="#222" stroke-width="0.75"/>
<text x="629.7" y="863.12" font-size="7" text-anchor="start" fill="#222" stroke="#222" stroke-width="0.18">Rt3D/vehicle</text>
<polygon points="618.3,872.7 620.6,875 618.3,877.3 616,875" fill="none" stroke="#222" stroke-width="0.75"/>
<text x="629.7" y="877.52" font-size="7" text-anchor="start" fill="#222" stroke="#222" stroke-width="0.18">Rt3D/pal</text>
</svg>
</body></html>
